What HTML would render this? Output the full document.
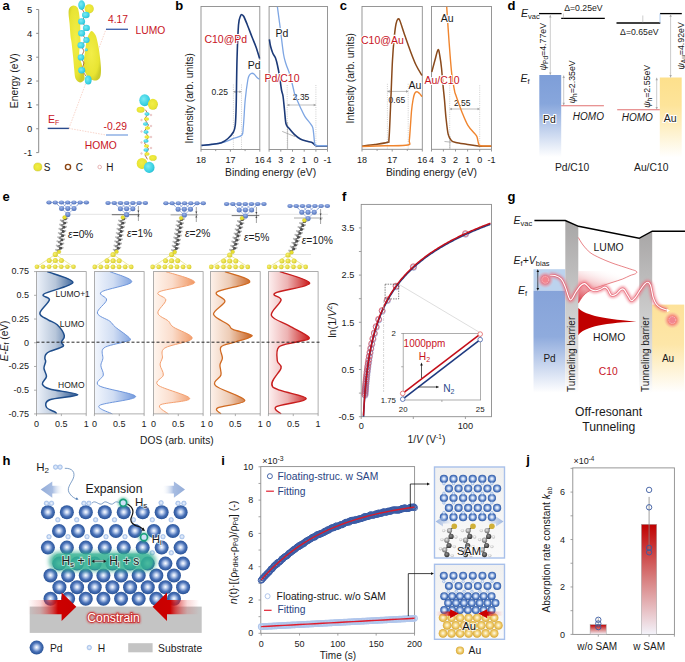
<!DOCTYPE html>
<html><head><meta charset="utf-8"><title>Figure</title>
<style>html,body{margin:0;padding:0;background:#fff;width:685px;height:662px;overflow:hidden;font-family:"Liberation Sans",sans-serif;}svg{display:block;}text{font-family:"Liberation Sans",sans-serif;}</style>
</head><body>
<svg width="685" height="662" viewBox="0 0 685 662" style="font-family:&quot;Liberation Sans&quot;,sans-serif"><defs><radialGradient id="ylw" cx="0.45" cy="0.45" r="0.6"><stop offset="0" stop-color="#f2ee48"/><stop offset="0.75" stop-color="#e8e432"/><stop offset="1" stop-color="#cccc2a"/></radialGradient><radialGradient id="cyn" cx="0.4" cy="0.4" r="0.7"><stop offset="0" stop-color="#7aeaf4"/><stop offset="0.7" stop-color="#38d0e2"/><stop offset="1" stop-color="#22b4cc"/></radialGradient><linearGradient id="pdg" x1="0" y1="0" x2="0" y2="1"><stop offset="0" stop-color="#7e9ed8"/><stop offset="0.35" stop-color="#87a6dc"/><stop offset="1" stop-color="#ffffff"/></linearGradient><linearGradient id="aug" x1="0" y1="0" x2="0" y2="1"><stop offset="0" stop-color="#fde08c"/><stop offset="0.35" stop-color="#fde49a"/><stop offset="1" stop-color="#ffffff"/></linearGradient><radialGradient id="pdb" cx="0.45" cy="0.35" r="0.65"><stop offset="0" stop-color="#9cb4ea"/><stop offset="1" stop-color="#4f70b8"/></radialGradient><radialGradient id="aub" cx="0.4" cy="0.4" r="0.6"><stop offset="0" stop-color="#f8f270"/><stop offset="1" stop-color="#d8cc30"/></radialGradient><linearGradient id="dosg0" x1="36.5" y1="0" x2="78.75" y2="0" gradientUnits="userSpaceOnUse"><stop offset="0" stop-color="#edf2fa"/><stop offset="0.45" stop-color="#b7c6da"/><stop offset="1" stop-color="#1f4e8c"/></linearGradient><linearGradient id="dosg1" x1="94.4" y1="0" x2="136.65" y2="0" gradientUnits="userSpaceOnUse"><stop offset="0" stop-color="#f2f6fd"/><stop offset="0.45" stop-color="#d0ddf3"/><stop offset="1" stop-color="#6e96dc"/></linearGradient><linearGradient id="dosg2" x1="153.4" y1="0" x2="195.65" y2="0" gradientUnits="userSpaceOnUse"><stop offset="0" stop-color="#fff5ee"/><stop offset="0.45" stop-color="#fadccb"/><stop offset="1" stop-color="#f0945e"/></linearGradient><linearGradient id="dosg3" x1="210.5" y1="0" x2="252.75" y2="0" gradientUnits="userSpaceOnUse"><stop offset="0" stop-color="#fdf1ea"/><stop offset="0.45" stop-color="#edccb6"/><stop offset="1" stop-color="#c8601c"/></linearGradient><linearGradient id="dosg4" x1="268.4" y1="0" x2="310.64" y2="0" gradientUnits="userSpaceOnUse"><stop offset="0" stop-color="#fdf0f0"/><stop offset="0.45" stop-color="#edb3b3"/><stop offset="1" stop-color="#c81414"/></linearGradient><linearGradient id="pdg2" x1="0" y1="0" x2="0" y2="1"><stop offset="0" stop-color="#86a3d9"/><stop offset="0.45" stop-color="#8fabdd"/><stop offset="1" stop-color="#ffffff"/></linearGradient><linearGradient id="aug2" x1="0" y1="0" x2="0" y2="1"><stop offset="0" stop-color="#fde29a"/><stop offset="0.45" stop-color="#fde6a8"/><stop offset="1" stop-color="#ffffff"/></linearGradient><linearGradient id="barg" x1="0" y1="0" x2="0" y2="1"><stop offset="0" stop-color="#a8a6a6"/><stop offset="0.55" stop-color="#cfcfcf"/><stop offset="0.85" stop-color="#e6e6e6"/><stop offset="1" stop-color="#ffffff"/></linearGradient><linearGradient id="lumf" x1="0" y1="1" x2="0.6" y2="0"><stop offset="0" stop-color="#d02030" stop-opacity="0.95"/><stop offset="0.5" stop-color="#e87880" stop-opacity="0.5"/><stop offset="1" stop-color="#ffffff" stop-opacity="0"/></linearGradient><radialGradient id="eglow"><stop offset="0" stop-color="#f03848" stop-opacity="1"/><stop offset="0.5" stop-color="#f25a66" stop-opacity="0.7"/><stop offset="1" stop-color="#f8a0a8" stop-opacity="0"/></radialGradient><filter id="blur1" x="-20%" y="-20%" width="140%" height="140%"><feGaussianBlur stdDeviation="1.2"/></filter><radialGradient id="pdball" cx="0.5" cy="0.48" r="0.55"><stop offset="0" stop-color="#ffffff"/><stop offset="0.22" stop-color="#c4d4f0"/><stop offset="0.6" stop-color="#4a72b8"/><stop offset="1" stop-color="#1f4a8e"/></radialGradient><radialGradient id="hb" cx="0.5" cy="0.5" r="0.6"><stop offset="0" stop-color="#eef4fd"/><stop offset="1" stop-color="#a4c0ea"/></radialGradient><linearGradient id="arrL" x1="0" y1="0" x2="1" y2="0"><stop offset="0" stop-color="#93acd8"/><stop offset="0.5" stop-color="#a8bde2"/><stop offset="1" stop-color="#ffffff" stop-opacity="0"/></linearGradient><linearGradient id="arrR" x1="1" y1="0" x2="0" y2="0"><stop offset="0" stop-color="#93acd8"/><stop offset="0.5" stop-color="#a8bde2"/><stop offset="1" stop-color="#ffffff" stop-opacity="0"/></linearGradient><linearGradient id="redL" x1="0" y1="0" x2="1" y2="0"><stop offset="0" stop-color="#e03030" stop-opacity="0"/><stop offset="0.25" stop-color="#e04040" stop-opacity="0.2"/><stop offset="0.5" stop-color="#d42020" stop-opacity="0.75"/><stop offset="0.62" stop-color="#cc0000"/><stop offset="1" stop-color="#c80000"/></linearGradient><linearGradient id="redR" x1="1" y1="0" x2="0" y2="0"><stop offset="0" stop-color="#e03030" stop-opacity="0"/><stop offset="0.25" stop-color="#e04040" stop-opacity="0.2"/><stop offset="0.5" stop-color="#d42020" stop-opacity="0.75"/><stop offset="0.62" stop-color="#cc0000"/><stop offset="1" stop-color="#c80000"/></linearGradient><filter id="blur2" x="-30%" y="-60%" width="160%" height="220%"><feGaussianBlur stdDeviation="2"/></filter><filter id="blur4" x="-20%" y="-50%" width="140%" height="200%"><feGaussianBlur stdDeviation="0.8"/></filter><filter id="blur3" x="-50%" y="-50%" width="200%" height="200%"><feGaussianBlur stdDeviation="1"/></filter><linearGradient id="insg" x1="0" y1="0" x2="0" y2="1"><stop offset="0" stop-color="#f0f0f0"/><stop offset="1" stop-color="#fafafa"/></linearGradient><radialGradient id="pdsm" cx="0.5" cy="0.48" r="0.55"><stop offset="0" stop-color="#ffffff"/><stop offset="0.3" stop-color="#c4d6f2"/><stop offset="0.68" stop-color="#5078c0"/><stop offset="1" stop-color="#22509a"/></radialGradient><radialGradient id="ausm" cx="0.5" cy="0.48" r="0.55"><stop offset="0" stop-color="#fffaf0"/><stop offset="0.4" stop-color="#f4da8c"/><stop offset="0.8" stop-color="#e2b444"/><stop offset="1" stop-color="#c99a28"/></radialGradient><radialGradient id="cdk" cx="0.45" cy="0.4" r="0.6"><stop offset="0" stop-color="#909090"/><stop offset="1" stop-color="#303030"/></radialGradient><radialGradient id="clt" cx="0.45" cy="0.4" r="0.6"><stop offset="0" stop-color="#e8e8e8"/><stop offset="1" stop-color="#6a6a6a"/></radialGradient><radialGradient id="hgr" cx="0.45" cy="0.4" r="0.6"><stop offset="0" stop-color="#ffffff"/><stop offset="1" stop-color="#b8b8b8"/></radialGradient><linearGradient id="iarL" x1="0" y1="0" x2="1" y2="0"><stop offset="0" stop-color="#9db6e0"/><stop offset="1" stop-color="#9db6e0" stop-opacity="0"/></linearGradient><linearGradient id="iarR" x1="1" y1="0" x2="0" y2="0"><stop offset="0" stop-color="#9db6e0"/><stop offset="1" stop-color="#9db6e0" stop-opacity="0"/></linearGradient><linearGradient id="barr" x1="0" y1="0" x2="0" y2="1"><stop offset="0" stop-color="#c00000"/><stop offset="0.5" stop-color="#d88080"/><stop offset="1" stop-color="#f3f3fa"/></linearGradient></defs>
<text x="2.5" y="10.3" font-size="13" fill="#000" font-weight="bold">a</text>
<line x1="38.7" y1="9.5" x2="38.7" y2="152.6" stroke="#8c8c8c" stroke-width="1"/>
<line x1="36.2" y1="9.5" x2="38.7" y2="9.5" stroke="#8c8c8c" stroke-width="1"/>
<text x="32.2" y="12.9" font-size="9.4" text-anchor="end" fill="#1a1a1a">5</text>
<line x1="36.2" y1="33.35" x2="38.7" y2="33.35" stroke="#8c8c8c" stroke-width="1"/>
<text x="32.2" y="36.75" font-size="9.4" text-anchor="end" fill="#1a1a1a">4</text>
<line x1="36.2" y1="57.2" x2="38.7" y2="57.2" stroke="#8c8c8c" stroke-width="1"/>
<text x="32.2" y="60.6" font-size="9.4" text-anchor="end" fill="#1a1a1a">3</text>
<line x1="36.2" y1="81.05" x2="38.7" y2="81.05" stroke="#8c8c8c" stroke-width="1"/>
<text x="32.2" y="84.45" font-size="9.4" text-anchor="end" fill="#1a1a1a">2</text>
<line x1="36.2" y1="104.9" x2="38.7" y2="104.9" stroke="#8c8c8c" stroke-width="1"/>
<text x="32.2" y="108.3" font-size="9.4" text-anchor="end" fill="#1a1a1a">1</text>
<line x1="36.2" y1="128.75" x2="38.7" y2="128.75" stroke="#8c8c8c" stroke-width="1"/>
<text x="32.2" y="132.15" font-size="9.4" text-anchor="end" fill="#1a1a1a">0</text>
<line x1="36.2" y1="152.6" x2="38.7" y2="152.6" stroke="#8c8c8c" stroke-width="1"/>
<text x="32.2" y="156" font-size="9.4" text-anchor="end" fill="#1a1a1a">-1</text>
<text x="0" y="0" font-size="10.3" text-anchor="middle" fill="#1a1a1a" transform="translate(17.9,80.7) rotate(-90)">Energy (eV)</text>
<path d="M68.9,128.4 L106,29.3" fill="none" stroke="#f3b9a8" stroke-width="0.6" stroke-dasharray="1.5,1.2"/>
<path d="M68.9,128.4 L106,135" fill="none" stroke="#f3b9a8" stroke-width="0.6" stroke-dasharray="1.5,1.2"/>
<line x1="47.7" y1="128.4" x2="68.9" y2="128.4" stroke="#2a4a8c" stroke-width="1.4"/>
<line x1="106" y1="29.3" x2="128" y2="29.3" stroke="#4466b0" stroke-width="1.4"/>
<line x1="106" y1="135" x2="128" y2="135" stroke="#7ea4e0" stroke-width="1.3"/>
<text x="48" y="122.5" font-size="10.5" fill="#c8141e">E<tspan font-size="7" dy="2">F</tspan></text>
<text x="108" y="22.6" font-size="10.3" fill="#c8141e">4.17</text>
<text x="135.5" y="33.8" font-size="10.3" fill="#c8141e">LUMO</text>
<text x="103.6" y="129.6" font-size="10.3" fill="#c8141e">-0.29</text>
<text x="84.8" y="149" font-size="10.3" fill="#c8141e">HOMO</text>
<path d="M73.5,5.6 C74.83,5.52 76.62,6.43 77.5,7.5 C78.38,8.57 78.47,10.42 78.8,12 C79.13,13.58 79.25,14.47 79.5,17 C79.75,19.53 80.22,24.37 80.3,27.2 C80.38,30.03 79.97,31.7 80,34 C80.03,36.3 80.58,38.5 80.5,41 C80.42,43.5 79.7,46.67 79.5,49 C79.3,51.33 79.13,53.17 79.3,55 C79.47,56.83 80.05,58.33 80.5,60 C80.95,61.67 81.5,63 82,65 C82.5,67 83.08,69.63 83.5,72 C83.92,74.37 85.08,77.45 84.5,79.2 C83.92,80.95 81.5,82.62 80,82.5 C78.5,82.38 76.45,80.55 75.5,78.5 C74.55,76.45 74.67,73.47 74.3,70.2 C73.93,66.93 73.6,62.05 73.3,58.9 C73,55.75 72.8,54.07 72.5,51.3 C72.2,48.53 71.83,44.85 71.5,42.3 C71.17,39.75 70.82,39.08 70.5,36 C70.18,32.92 69.92,27.53 69.6,23.8 C69.28,20.07 68.62,16.23 68.6,13.6 C68.58,10.97 68.68,9.33 69.5,8 C70.32,6.67 72.17,5.68 73.5,5.6 Z" fill="url(#ylw)" stroke="none" stroke-width="1"/>
<path d="M91.8,31 C92.88,31.17 94.55,33.17 95.5,35 C96.45,36.83 96.92,39.5 97.5,42 C98.08,44.5 98.53,47 99,50 C99.47,53 99.97,56.67 100.3,60 C100.63,63.33 101.05,67.08 101,70 C100.95,72.92 100.83,75.75 100,77.5 C99.17,79.25 97.67,80.25 96,80.5 C94.33,80.75 91.67,80.08 90,79 C88.33,77.92 87.08,76.1 86,74 C84.92,71.9 83.83,68.92 83.5,66.4 C83.17,63.88 83.7,61.63 84,58.9 C84.3,56.17 84.87,53.02 85.3,50 C85.73,46.98 85.98,43.47 86.6,40.8 C87.22,38.13 88.13,35.63 89,34 C89.87,32.37 90.72,30.83 91.8,31 Z" fill="url(#ylw)" stroke="none" stroke-width="1"/>
<ellipse cx="89.2" cy="8.8" rx="4.6" ry="4.6" fill="url(#ylw)"/>
<path d="M82,9 L85.8,15 L81.6,21.4 L86.4,27.9 L81.6,33.3 L86.4,40.1 L81,45.3 L84,51 L81,57.4 L84,63 L81.7,70.2 L86,76" fill="none" stroke="#a0522d" stroke-width="0.8"/>
<ellipse cx="81.6" cy="5.1" rx="3.4" ry="4.8" fill="url(#cyn)"/>
<ellipse cx="85.8" cy="15" rx="3.8" ry="3.3" fill="url(#cyn)"/>
<ellipse cx="81.6" cy="21.4" rx="3.5" ry="3.2" fill="url(#cyn)"/>
<ellipse cx="86.4" cy="27.9" rx="3.5" ry="3.2" fill="url(#cyn)"/>
<ellipse cx="81.6" cy="33.3" rx="3.5" ry="3.2" fill="url(#cyn)"/>
<ellipse cx="86.4" cy="40.1" rx="3.2" ry="3" fill="url(#cyn)"/>
<ellipse cx="81" cy="45.3" rx="3.5" ry="3.2" fill="url(#cyn)"/>
<ellipse cx="81" cy="57.4" rx="3.3" ry="3.1" fill="url(#cyn)"/>
<ellipse cx="81.7" cy="70.2" rx="3.5" ry="3.2" fill="url(#cyn)"/>
<ellipse cx="88.2" cy="80" rx="3.4" ry="4.5" fill="url(#cyn)"/>
<ellipse cx="86.3" cy="49.8" rx="1.5" ry="1.5" fill="url(#cyn)"/>
<path d="M145.4,109.7 L148,114 L144.5,119 L148.5,125 L144.5,131 L148.5,137 L144.5,143 L148.5,149 L145,155 L147.4,159.3" fill="none" stroke="#a0522d" stroke-width="0.8"/>
<circle cx="141.5" cy="120" r="0.9" fill="#f0d0d0" stroke="#d8a0a0" stroke-width="0.3"/>
<circle cx="151" cy="126" r="0.9" fill="#f0d0d0" stroke="#d8a0a0" stroke-width="0.3"/>
<circle cx="141.5" cy="131.5" r="0.9" fill="#f0d0d0" stroke="#d8a0a0" stroke-width="0.3"/>
<circle cx="151" cy="137" r="0.9" fill="#f0d0d0" stroke="#d8a0a0" stroke-width="0.3"/>
<circle cx="141.5" cy="142.5" r="0.9" fill="#f0d0d0" stroke="#d8a0a0" stroke-width="0.3"/>
<circle cx="151" cy="148" r="0.9" fill="#f0d0d0" stroke="#d8a0a0" stroke-width="0.3"/>
<circle cx="141.5" cy="153.5" r="0.9" fill="#f0d0d0" stroke="#d8a0a0" stroke-width="0.3"/>
<circle cx="151" cy="115" r="0.9" fill="#f0d0d0" stroke="#d8a0a0" stroke-width="0.3"/>
<ellipse cx="144.7" cy="100.2" rx="5.4" ry="6" fill="url(#cyn)"/>
<ellipse cx="152.9" cy="104.3" rx="5" ry="5.5" fill="url(#ylw)"/>
<ellipse cx="140.6" cy="109.7" rx="4" ry="3" fill="url(#ylw)"/>
<ellipse cx="142" cy="163.4" rx="5.3" ry="5.5" fill="url(#ylw)"/>
<ellipse cx="149.2" cy="167.4" rx="5.3" ry="5.6" fill="url(#cyn)"/>
<ellipse cx="152.9" cy="157.9" rx="3.8" ry="2.8" fill="url(#ylw)"/>
<ellipse cx="147" cy="114" rx="2.6" ry="1.7" fill="url(#cyn)"/>
<ellipse cx="146.5" cy="119" rx="2.6" ry="1.7" fill="url(#ylw)"/>
<ellipse cx="145.5" cy="124" rx="2.6" ry="1.7" fill="url(#cyn)"/>
<ellipse cx="147.5" cy="128" rx="2.6" ry="1.7" fill="url(#ylw)"/>
<ellipse cx="146" cy="132" rx="2.6" ry="1.7" fill="url(#cyn)"/>
<ellipse cx="147" cy="137" rx="2.6" ry="1.7" fill="url(#ylw)"/>
<ellipse cx="146" cy="141" rx="2.6" ry="1.7" fill="url(#cyn)"/>
<ellipse cx="146.5" cy="146" rx="2.6" ry="1.7" fill="url(#ylw)"/>
<ellipse cx="146" cy="150" rx="2.6" ry="1.7" fill="url(#cyn)"/>
<ellipse cx="147" cy="154" rx="2.6" ry="1.7" fill="url(#ylw)"/>
<circle cx="37.8" cy="167" r="4.1" fill="url(#ylw)" stroke="#c8c020" stroke-width="0.4"/>
<text x="43.8" y="170.5" font-size="10" fill="#1a1a1a">S</text>
<circle cx="68" cy="167" r="2.6" fill="#fff" stroke="#8b4513" stroke-width="1.4"/>
<text x="75.8" y="170.5" font-size="10" fill="#1a1a1a">C</text>
<circle cx="99.7" cy="167" r="1.8" fill="#fff" stroke="#e0a0a0" stroke-width="0.8"/>
<text x="106.3" y="170.5" font-size="10" fill="#1a1a1a">H</text>
<text x="175.3" y="10.3" font-size="13" fill="#000" font-weight="bold">b</text>
<rect x="201" y="6.5" width="58.8" height="143" fill="none" stroke="#8c8c8c" stroke-width="0.9"/>
<rect x="269.1" y="6.5" width="58.4" height="143" fill="none" stroke="#8c8c8c" stroke-width="0.9"/>
<line x1="201" y1="149.5" x2="201" y2="151.7" stroke="#8c8c8c" stroke-width="0.9"/>
<text x="201" y="162.5" font-size="9" text-anchor="middle" fill="#1a1a1a">18</text>
<line x1="215.7" y1="149.5" x2="215.7" y2="151.1" stroke="#8c8c8c" stroke-width="0.9"/>
<line x1="230.4" y1="149.5" x2="230.4" y2="151.7" stroke="#8c8c8c" stroke-width="0.9"/>
<text x="230.4" y="162.5" font-size="9" text-anchor="middle" fill="#1a1a1a">17</text>
<line x1="245.1" y1="149.5" x2="245.1" y2="151.1" stroke="#8c8c8c" stroke-width="0.9"/>
<line x1="259.8" y1="149.5" x2="259.8" y2="151.7" stroke="#8c8c8c" stroke-width="0.9"/>
<text x="259.8" y="162.5" font-size="9" text-anchor="middle" fill="#1a1a1a">16</text>
<line x1="269.1" y1="149.5" x2="269.1" y2="151.7" stroke="#8c8c8c" stroke-width="0.9"/>
<text x="269.1" y="162.5" font-size="9" text-anchor="middle" fill="#1a1a1a">4</text>
<line x1="280.8" y1="149.5" x2="280.8" y2="151.7" stroke="#8c8c8c" stroke-width="0.9"/>
<text x="280.8" y="162.5" font-size="9" text-anchor="middle" fill="#1a1a1a">3</text>
<line x1="292.5" y1="149.5" x2="292.5" y2="151.7" stroke="#8c8c8c" stroke-width="0.9"/>
<text x="292.5" y="162.5" font-size="9" text-anchor="middle" fill="#1a1a1a">2</text>
<line x1="304.2" y1="149.5" x2="304.2" y2="151.7" stroke="#8c8c8c" stroke-width="0.9"/>
<text x="304.2" y="162.5" font-size="9" text-anchor="middle" fill="#1a1a1a">1</text>
<line x1="315.9" y1="149.5" x2="315.9" y2="151.7" stroke="#8c8c8c" stroke-width="0.9"/>
<text x="315.9" y="162.5" font-size="9" text-anchor="middle" fill="#1a1a1a">0</text>
<line x1="327.5" y1="149.5" x2="327.5" y2="151.7" stroke="#8c8c8c" stroke-width="0.9"/>
<text x="327.5" y="162.5" font-size="9" text-anchor="middle" fill="#1a1a1a">-1</text>
<text x="0" y="0" font-size="10.3" text-anchor="middle" fill="#1a1a1a" transform="translate(193.3,98.3) rotate(-90)">Intensity (arb. units)</text>
<text x="270.6" y="176" font-size="10.3" text-anchor="middle" fill="#1a1a1a">Binding energy (eV)</text>
<line x1="233.4" y1="84.5" x2="233.4" y2="149.5" stroke="#b0b0b0" stroke-width="0.6" stroke-dasharray="1,1.2"/>
<line x1="241.5" y1="84.5" x2="241.5" y2="149.5" stroke="#b0b0b0" stroke-width="0.6" stroke-dasharray="1,1.2"/>
<line x1="287.2" y1="85" x2="287.2" y2="149.5" stroke="#b0b0b0" stroke-width="0.6" stroke-dasharray="1,1.2"/>
<line x1="315.9" y1="85" x2="315.9" y2="149.5" stroke="#b0b0b0" stroke-width="0.6" stroke-dasharray="1,1.2"/>
<line x1="233.4" y1="91.8" x2="241.5" y2="91.8" stroke="#a0a0a0" stroke-width="0.7"/>
<line x1="287.2" y1="105" x2="315.9" y2="105" stroke="#a0a0a0" stroke-width="0.7"/>
<path d="M233.4,91.8 l2.2,-1.3 l0,2.6 Z" fill="#a0a0a0" stroke="none" stroke-width="1"/>
<path d="M241.5,91.8 l-2.2,-1.3 l0,2.6 Z" fill="#a0a0a0" stroke="none" stroke-width="1"/>
<path d="M287.2,105 l2.2,-1.3 l0,2.6 Z" fill="#a0a0a0" stroke="none" stroke-width="1"/>
<path d="M315.9,105 l-2.2,-1.3 l0,2.6 Z" fill="#a0a0a0" stroke="none" stroke-width="1"/>
<text x="211.5" y="94.8" font-size="8.5" fill="#1a1a1a" stroke="#ffffff" stroke-width="2" paint-order="stroke">0.25</text>
<text x="292.8" y="99.6" font-size="8.5" fill="#1a1a1a" stroke="#ffffff" stroke-width="2" paint-order="stroke">2.35</text>
<line x1="282.2" y1="131.4" x2="295" y2="136.6" stroke="#888" stroke-width="0.6"/>
<line x1="287.6" y1="122" x2="287.6" y2="149" stroke="#999" stroke-width="0.6"/>
<path d="M201.5,145.6 C203.25,145.42 208.18,145.1 212,144.5 C215.82,143.9 220.9,142.98 224.4,142 C227.9,141.02 230.1,139.73 233,138.6 C235.9,137.47 240.1,136.97 241.8,135.2 C243.5,133.43 242.83,130.9 243.2,128 C243.57,125.1 243.67,122.47 244,117.8 C244.33,113.13 244.57,106.3 245.2,100 C245.83,93.7 247.08,84.17 247.8,80 C248.52,75.83 248.87,76.12 249.5,75 C250.13,73.88 250.85,73.47 251.6,73.3 C252.35,73.13 253.1,73.3 254,74 C254.9,74.7 256.07,76.62 257,77.5 C257.93,78.38 259.17,79 259.6,79.3" fill="none" stroke="#7ea6e3" stroke-width="1.3"/>
<path d="M201.5,145.4 C203.25,145.22 208.68,144.75 212,144.3 C215.32,143.85 218.73,143.67 221.4,142.7 C224.07,141.73 226,140.28 228,138.5 C230,136.72 232.18,134.25 233.4,132 C234.62,129.75 234.83,129.5 235.3,125 C235.77,120.5 235.92,115.83 236.2,105 C236.48,94.17 236.62,73.33 237,60 C237.38,46.67 237.92,32.33 238.5,25 C239.08,17.67 239.92,17.72 240.5,16 C241.08,14.28 241.45,14.62 242,14.7 C242.55,14.78 242.97,14.95 243.8,16.5 C244.63,18.05 245.63,20.58 247,24 C248.37,27.42 250.5,33.17 252,37 C253.5,40.83 254.73,43.42 256,47 C257.27,50.58 259,56.58 259.6,58.5" fill="none" stroke="#1c3a78" stroke-width="1.6"/>
<path d="M269.4,39.4 C269.58,40.5 269.95,43.73 270.5,46 C271.05,48.27 271.87,51 272.7,53 C273.53,55 274.72,56 275.5,58 C276.28,60 276.73,62 277.4,65 C278.07,68 278.82,71.83 279.5,76 C280.18,80.17 280.92,86.67 281.5,90 C282.08,93.33 282.5,92.67 283,96 C283.5,99.33 284,105.37 284.5,110 C285,114.63 285.25,120.75 286,123.8 C286.75,126.85 287.62,126.53 289,128.3 C290.38,130.07 292.42,132.62 294.3,134.4 C296.18,136.18 298.02,137.82 300.3,139 C302.58,140.18 305.98,140.88 308,141.5 C310.02,142.12 311.17,142.05 312.4,142.7 C313.63,143.35 314.13,144.85 315.4,145.4 C316.67,145.95 318.02,145.9 320,146 C321.98,146.1 326.08,146 327.3,146" fill="none" stroke="#1c3a78" stroke-width="1.6"/>
<path d="M277.4,6.8 C277.85,10.17 279.08,19.13 280.1,27 C281.12,34.87 282.52,47.83 283.5,54 C284.48,60.17 285.08,61 286,64 C286.92,67 288.12,69.33 289,72 C289.88,74.67 290.52,77 291.3,80 C292.08,83 293.08,87.5 293.7,90 C294.32,92.5 293.9,92.13 295,95 C296.1,97.87 298.67,103.65 300.3,107.2 C301.93,110.75 302.92,113.28 304.8,116.3 C306.68,119.32 310.2,123.05 311.6,125.3 C313,127.55 312.68,126.78 313.2,129.8 C313.72,132.82 314.2,140.8 314.7,143.4 C315.2,146 314.98,145.02 316.2,145.4 C317.42,145.78 320.15,145.65 322,145.7 C323.85,145.75 326.42,145.7 327.3,145.7" fill="none" stroke="#7ea6e3" stroke-width="1.3"/>
<text x="204.4" y="43" font-size="10.5" fill="#c8141e" stroke="#ffffff" stroke-width="2" paint-order="stroke">C10@Pd</text>
<text x="247.8" y="68.7" font-size="10.5" fill="#1a1a1a" stroke="#ffffff" stroke-width="2" paint-order="stroke">Pd</text>
<text x="275.6" y="36.7" font-size="10.5" fill="#1a1a1a" stroke="#ffffff" stroke-width="2" paint-order="stroke">Pd</text>
<text x="264.5" y="81.5" font-size="10.5" fill="#c8141e" stroke="#ffffff" stroke-width="2" paint-order="stroke">Pd/C10</text>
<text x="339.8" y="10.3" font-size="13" fill="#000" font-weight="bold">c</text>
<rect x="362" y="6.5" width="60.3" height="142.8" fill="none" stroke="#8c8c8c" stroke-width="0.9"/>
<rect x="431.5" y="6.5" width="60" height="142.8" fill="none" stroke="#8c8c8c" stroke-width="0.9"/>
<line x1="362" y1="149.3" x2="362" y2="151.5" stroke="#8c8c8c" stroke-width="0.9"/>
<text x="362" y="162.5" font-size="9" text-anchor="middle" fill="#1a1a1a">18</text>
<line x1="377.1" y1="149.3" x2="377.1" y2="150.9" stroke="#8c8c8c" stroke-width="0.9"/>
<line x1="392.2" y1="149.3" x2="392.2" y2="151.5" stroke="#8c8c8c" stroke-width="0.9"/>
<text x="392.2" y="162.5" font-size="9" text-anchor="middle" fill="#1a1a1a">17</text>
<line x1="407.3" y1="149.3" x2="407.3" y2="150.9" stroke="#8c8c8c" stroke-width="0.9"/>
<line x1="422.3" y1="149.3" x2="422.3" y2="151.5" stroke="#8c8c8c" stroke-width="0.9"/>
<text x="422.3" y="162.5" font-size="9" text-anchor="middle" fill="#1a1a1a">16</text>
<line x1="431.5" y1="149.3" x2="431.5" y2="151.5" stroke="#8c8c8c" stroke-width="0.9"/>
<text x="431.5" y="162.5" font-size="9" text-anchor="middle" fill="#1a1a1a">4</text>
<line x1="443.4" y1="149.3" x2="443.4" y2="151.5" stroke="#8c8c8c" stroke-width="0.9"/>
<text x="443.4" y="162.5" font-size="9" text-anchor="middle" fill="#1a1a1a">3</text>
<line x1="455.5" y1="149.3" x2="455.5" y2="151.5" stroke="#8c8c8c" stroke-width="0.9"/>
<text x="455.5" y="162.5" font-size="9" text-anchor="middle" fill="#1a1a1a">2</text>
<line x1="467.6" y1="149.3" x2="467.6" y2="151.5" stroke="#8c8c8c" stroke-width="0.9"/>
<text x="467.6" y="162.5" font-size="9" text-anchor="middle" fill="#1a1a1a">1</text>
<line x1="479.7" y1="149.3" x2="479.7" y2="151.5" stroke="#8c8c8c" stroke-width="0.9"/>
<text x="479.7" y="162.5" font-size="9" text-anchor="middle" fill="#1a1a1a">0</text>
<line x1="491.5" y1="149.3" x2="491.5" y2="151.5" stroke="#8c8c8c" stroke-width="0.9"/>
<text x="491.5" y="162.5" font-size="9" text-anchor="middle" fill="#1a1a1a">-1</text>
<text x="0" y="0" font-size="10.3" text-anchor="middle" fill="#1a1a1a" transform="translate(354.2,78.2) rotate(-90)">Intensity (arb. units)</text>
<text x="431.5" y="176" font-size="10.3" text-anchor="middle" fill="#1a1a1a">Binding energy (eV)</text>
<line x1="387.4" y1="83.8" x2="387.4" y2="149.3" stroke="#b0b0b0" stroke-width="0.6" stroke-dasharray="1,1.2"/>
<line x1="408.2" y1="83.8" x2="408.2" y2="149.3" stroke="#b0b0b0" stroke-width="0.6" stroke-dasharray="1,1.2"/>
<line x1="449.7" y1="85.3" x2="449.7" y2="149.3" stroke="#b0b0b0" stroke-width="0.6" stroke-dasharray="1,1.2"/>
<line x1="479.7" y1="85.3" x2="479.7" y2="149.3" stroke="#b0b0b0" stroke-width="0.6" stroke-dasharray="1,1.2"/>
<line x1="387.4" y1="91.4" x2="408.2" y2="91.4" stroke="#a0a0a0" stroke-width="0.7"/>
<line x1="449.7" y1="109" x2="479.7" y2="109" stroke="#a0a0a0" stroke-width="0.7"/>
<path d="M387.4,91.4 l2.2,-1.3 l0,2.6 Z" fill="#a0a0a0" stroke="none" stroke-width="1"/>
<path d="M408.2,91.4 l-2.2,-1.3 l0,2.6 Z" fill="#a0a0a0" stroke="none" stroke-width="1"/>
<path d="M449.7,109 l2.2,-1.3 l0,2.6 Z" fill="#a0a0a0" stroke="none" stroke-width="1"/>
<path d="M479.7,109 l-2.2,-1.3 l0,2.6 Z" fill="#a0a0a0" stroke="none" stroke-width="1"/>
<text x="388.6" y="103" font-size="8.5" fill="#1a1a1a" stroke="#ffffff" stroke-width="2" paint-order="stroke">0.65</text>
<text x="454" y="106.4" font-size="8.5" fill="#1a1a1a" stroke="#ffffff" stroke-width="2" paint-order="stroke">2.55</text>
<line x1="444.5" y1="141.5" x2="451.3" y2="142.2" stroke="#888" stroke-width="0.6"/>
<line x1="449.9" y1="136" x2="449.9" y2="149" stroke="#999" stroke-width="0.6"/>
<path d="M362.3,146 C364.42,145.75 370.82,145.13 375,144.5 C379.18,143.87 385.07,143.12 387.4,142.2 C389.73,141.28 388.5,144.37 389,139 C389.5,133.63 390.03,118.07 390.4,110 C390.77,101.93 390.85,98.93 391.2,90.6 C391.55,82.27 392,68.8 392.5,60 C393,51.2 393.62,43.8 394.2,37.8 C394.78,31.8 395.37,27.15 396,24 C396.63,20.85 397.33,19.4 398,18.9 C398.67,18.4 399,18.65 400,21 C401,23.35 402.33,28.17 404,33 C405.67,37.83 408,44.67 410,50 C412,55.33 414,60.75 416,65 C418,69.25 421,73.75 422,75.5" fill="none" stroke="#8a4a1c" stroke-width="1.5"/>
<path d="M362.3,146.5 C366.08,146.38 377.42,146.05 385,145.8 C392.58,145.55 403.75,145.9 407.8,145 C411.85,144.1 408.85,143.73 409.3,140.4 C409.75,137.07 410.12,130.03 410.5,125 C410.88,119.97 411.18,114.37 411.6,110.2 C412.02,106.03 412.5,102.77 413,100 C413.5,97.23 413.95,94.97 414.6,93.6 C415.25,92.23 416.08,91.82 416.9,91.8 C417.72,91.78 418.65,92.7 419.5,93.5 C420.35,94.3 421.58,96.08 422,96.6" fill="none" stroke="#f0852e" stroke-width="1.4"/>
<path d="M431.8,72 C432.33,70 433.95,63.73 435,60 C436.05,56.27 437.27,50.1 438.1,49.6 C438.93,49.1 439.43,53.93 440,57 C440.57,60.07 441,63.28 441.5,68 C442,72.72 442.5,79.97 443,85.3 C443.5,90.63 444,94.58 444.5,100 C445,105.42 445.38,112.07 446,117.8 C446.62,123.53 447.32,130.63 448.2,134.4 C449.08,138.17 450.03,139.07 451.3,140.4 C452.57,141.73 453.28,141.77 455.8,142.4 C458.32,143.03 462.63,143.6 466.4,144.2 C470.17,144.8 474.27,145.67 478.4,146 C482.53,146.33 489.07,146.17 491.2,146.2" fill="none" stroke="#8a4a1c" stroke-width="1.5"/>
<path d="M446.7,6.8 C447.08,12.47 448.17,29.7 449,40.8 C449.83,51.9 450.8,65.2 451.7,73.4 C452.6,81.6 453.72,86.4 454.4,90 C455.08,93.6 454.57,91.38 455.8,95 C457.03,98.62 459.78,106.65 461.8,111.7 C463.82,116.75 465.63,121.52 467.9,125.3 C470.17,129.08 473.85,132.38 475.4,134.4 C476.95,136.42 476.57,135.63 477.2,137.4 C477.83,139.17 477.9,143.57 479.2,145 C480.5,146.43 483,145.83 485,146 C487,146.17 490.17,146 491.2,146" fill="none" stroke="#f0852e" stroke-width="1.4"/>
<text x="361" y="44.1" font-size="10.5" fill="#c8141e" stroke="#ffffff" stroke-width="2" paint-order="stroke">C10@Au</text>
<text x="408.5" y="88.8" font-size="10.5" fill="#1a1a1a" stroke="#ffffff" stroke-width="2" paint-order="stroke">Au</text>
<text x="440.8" y="22.4" font-size="10.5" fill="#1a1a1a" stroke="#ffffff" stroke-width="2" paint-order="stroke">Au</text>
<text x="424.5" y="83.6" font-size="10.5" fill="#c8141e" stroke="#ffffff" stroke-width="2" paint-order="stroke">Au/C10</text>
<text x="507.5" y="10" font-size="13" fill="#000" font-weight="bold">d</text>
<text x="521" y="16.6" font-size="10.5" fill="#1a1a1a" font-style="italic">E<tspan font-size="7.5" font-style="normal" dy="2.3">vac</tspan></text>
<line x1="539" y1="13.6" x2="561.6" y2="13.6" stroke="#000" stroke-width="1.3"/>
<line x1="561.2" y1="18.4" x2="604.8" y2="18.4" stroke="#000" stroke-width="1.3"/>
<text x="564.2" y="11.3" font-size="8.7" fill="#1a1a1a">Δ=0.25eV</text>
<line x1="563.4" y1="13.6" x2="563.4" y2="18.4" stroke="#aaa" stroke-width="0.6"/>
<line x1="616.5" y1="23" x2="660.3" y2="23" stroke="#000" stroke-width="1.3"/>
<line x1="660" y1="13.6" x2="681.8" y2="13.6" stroke="#000" stroke-width="1.3"/>
<line x1="660" y1="13.6" x2="660" y2="23" stroke="#9ec0ea" stroke-width="0.8"/>
<line x1="642.8" y1="15.5" x2="642.8" y2="22.5" stroke="#aaa" stroke-width="0.6"/>
<text x="620.1" y="35.2" font-size="8.7" fill="#1a1a1a">Δ=0.65eV</text>
<rect x="539.3" y="75" width="21.9" height="82" fill="url(#pdg)" stroke="none" stroke-width="1"/>
<rect x="659.8" y="77.5" width="21.9" height="80" fill="url(#aug)" stroke="none" stroke-width="1"/>
<text x="520.4" y="81.6" font-size="10.5" fill="#1a1a1a" font-style="italic">E<tspan font-size="7.5" font-style="normal" dy="2.3">f</tspan></text>
<line x1="550.3" y1="15" x2="550.3" y2="74.8" stroke="#a8a8a8" stroke-width="0.6"/>
<path d="M550.3,74.8 l-1.2,-2.4 l2.4,0 Z" fill="#a8a8a8" stroke="none" stroke-width="1"/>
<path d="M550.3,15 l-1.2,2.4 l2.4,0 Z" fill="#a8a8a8" stroke="none" stroke-width="1"/>
<line x1="563.7" y1="75.5" x2="563.7" y2="105.2" stroke="#a8a8a8" stroke-width="0.6"/>
<path d="M563.7,105.2 l-1.2,-2.4 l2.4,0 Z" fill="#a8a8a8" stroke="none" stroke-width="1"/>
<path d="M563.7,75.5 l-1.2,2.4 l2.4,0 Z" fill="#a8a8a8" stroke="none" stroke-width="1"/>
<line x1="670.6" y1="14.3" x2="670.6" y2="77.5" stroke="#a8a8a8" stroke-width="0.6"/>
<path d="M670.6,77.5 l-1.2,-2.4 l2.4,0 Z" fill="#a8a8a8" stroke="none" stroke-width="1"/>
<path d="M670.6,14.3 l-1.2,2.4 l2.4,0 Z" fill="#a8a8a8" stroke="none" stroke-width="1"/>
<line x1="656.7" y1="77.8" x2="656.7" y2="109.3" stroke="#a8a8a8" stroke-width="0.6"/>
<path d="M656.7,109.3 l-1.2,-2.4 l2.4,0 Z" fill="#a8a8a8" stroke="none" stroke-width="1"/>
<path d="M656.7,77.8 l-1.2,2.4 l2.4,0 Z" fill="#a8a8a8" stroke="none" stroke-width="1"/>
<text x="0" y="0" font-size="8.8" text-anchor="middle" fill="#1a1a1a" transform="translate(546.2,46.6) rotate(-90)"><tspan font-style="italic">ψ</tspan><tspan font-size="6.5" dy="2">Pd</tspan><tspan dy="-2">=4.77eV</tspan></text>
<text x="0" y="0" font-size="8.8" text-anchor="middle" fill="#1a1a1a" transform="translate(575,81.8) rotate(-90)"><tspan font-style="italic">ψ</tspan><tspan font-size="6.5" dy="2">h</tspan><tspan dy="-2">=2.35eV</tspan></text>
<text x="0" y="0" font-size="8.8" text-anchor="middle" fill="#1a1a1a" transform="translate(650,86.3) rotate(-90)"><tspan font-style="italic">ψ</tspan><tspan font-size="6.5" dy="2">h</tspan><tspan dy="-2">=2.55eV</tspan></text>
<text x="0" y="0" font-size="8.8" text-anchor="middle" fill="#1a1a1a" transform="translate(684,45.9) rotate(-90)"><tspan font-style="italic">ψ</tspan><tspan font-size="6.5" dy="2">Au</tspan><tspan dy="-2">=4.92eV</tspan></text>
<line x1="561.2" y1="105.7" x2="603.9" y2="105.7" stroke="#e07070" stroke-width="1.1"/>
<line x1="617.2" y1="109.8" x2="659.8" y2="109.8" stroke="#e07070" stroke-width="1.1"/>
<text x="572.8" y="119.6" font-size="10" fill="#1a1a1a" font-style="italic">HOMO</text>
<text x="621.7" y="120.5" font-size="10" fill="#1a1a1a" font-style="italic">HOMO</text>
<text x="549.5" y="123" font-size="10.5" text-anchor="middle" fill="#1a1a1a" stroke="#fff" stroke-width="2" paint-order="stroke">Pd</text>
<text x="670.2" y="122.3" font-size="10.5" text-anchor="middle" fill="#1a1a1a" stroke="#fff" stroke-width="2" paint-order="stroke">Au</text>
<text x="572.1" y="171.4" font-size="10.3" text-anchor="middle" fill="#1a1a1a">Pd/C10</text>
<text x="651.2" y="171.4" font-size="10.3" text-anchor="middle" fill="#1a1a1a">Au/C10</text>
<text x="2.5" y="200.8" font-size="13" fill="#000" font-weight="bold">e</text>
<line x1="70" y1="214.3" x2="328" y2="214.3" stroke="#d0d0d0" stroke-width="0.6"/>
<line x1="60" y1="254.5" x2="311" y2="254.5" stroke="#d0d0d0" stroke-width="0.6"/>
<line x1="111.8" y1="214.7" x2="139.7" y2="214.7" stroke="#333" stroke-width="0.7"/>
<line x1="170.6" y1="214.8" x2="198.2" y2="214.8" stroke="#aaa" stroke-width="1.2"/>
<line x1="231.7" y1="215.6" x2="259.3" y2="215.6" stroke="#333" stroke-width="0.7"/>
<line x1="294" y1="218" x2="322.7" y2="218" stroke="#aaa" stroke-width="1"/>
<line x1="138.4" y1="206" x2="138.4" y2="221" stroke="#444" stroke-width="0.5"/>
<path d="M138.4,212.5 l-1,-2 l2,0 Z" fill="#444" stroke="none" stroke-width="1"/>
<path d="M138.4,214.5 l-1,2 l2,0 Z" fill="#444" stroke="none" stroke-width="1"/>
<line x1="196.3" y1="207" x2="196.3" y2="222" stroke="#444" stroke-width="0.5"/>
<path d="M196.3,213.5 l-1,-2 l2,0 Z" fill="#444" stroke="none" stroke-width="1"/>
<path d="M196.3,215.5 l-1,2 l2,0 Z" fill="#444" stroke="none" stroke-width="1"/>
<line x1="256.4" y1="207" x2="256.4" y2="223" stroke="#444" stroke-width="0.5"/>
<path d="M256.4,214 l-1,-2 l2,0 Z" fill="#444" stroke="none" stroke-width="1"/>
<path d="M256.4,216 l-1,2 l2,0 Z" fill="#444" stroke="none" stroke-width="1"/>
<line x1="320.6" y1="209" x2="320.6" y2="224" stroke="#444" stroke-width="0.5"/>
<path d="M320.6,215.5 l-1,-2 l2,0 Z" fill="#444" stroke="none" stroke-width="1"/>
<path d="M320.6,217.5 l-1,2 l2,0 Z" fill="#444" stroke="none" stroke-width="1"/>
<path d="M55.23,202.4 L61.57,208.4 M67.69,202.4 L61.57,208.4 M67.69,202.4 L74.03,208.4 M80.15,202.4 L74.03,208.4 M61.46,202.4 L67.8,208.4 M73.92,202.4 L67.8,208.4 M61.57,208.4 L67.8,214.4 M74.03,208.4 L67.8,214.4 M61.57,208.4 L74.03,208.4 M49,202.4 L86.38,202.4 M55.23,202.4 L58.45,205.4 M80.15,202.4 L77.14,205.4" fill="none" stroke="#7590d0" stroke-width="0.6"/>
<ellipse cx="49" cy="202.4" rx="2.7" ry="2.0" fill="url(#pdb)"/>
<ellipse cx="55.23" cy="202.4" rx="2.7" ry="2.0" fill="url(#pdb)"/>
<ellipse cx="61.46" cy="202.4" rx="2.7" ry="2.0" fill="url(#pdb)"/>
<ellipse cx="67.69" cy="202.4" rx="2.7" ry="2.0" fill="url(#pdb)"/>
<ellipse cx="73.92" cy="202.4" rx="2.7" ry="2.0" fill="url(#pdb)"/>
<ellipse cx="80.15" cy="202.4" rx="2.7" ry="2.0" fill="url(#pdb)"/>
<ellipse cx="86.38" cy="202.4" rx="2.7" ry="2.0" fill="url(#pdb)"/>
<circle cx="61.57" cy="208.4" r="2.5" fill="url(#pdb)" stroke="none" stroke-width="1"/>
<circle cx="67.8" cy="208.4" r="2.5" fill="url(#pdb)" stroke="none" stroke-width="1"/>
<circle cx="74.03" cy="208.4" r="2.5" fill="url(#pdb)" stroke="none" stroke-width="1"/>
<circle cx="67.8" cy="214.4" r="2.6" fill="url(#pdb)" stroke="none" stroke-width="1"/>
<path d="M36.9,266.7 L55.3,254.4 L73.5,266.7 M49.1,266.7 L55.3,260.6 L61.3,266.7 M49.2,260.6 L61.4,260.6 M36.9,266.7 L73.5,266.7 L73.5,266.7" fill="none" stroke="#d8d040" stroke-width="0.5"/>
<circle cx="36.9" cy="266.7" r="2.3" fill="url(#aub)" stroke="none" stroke-width="1"/>
<circle cx="43" cy="266.7" r="2.3" fill="url(#aub)" stroke="none" stroke-width="1"/>
<circle cx="49.1" cy="266.7" r="2.3" fill="url(#aub)" stroke="none" stroke-width="1"/>
<circle cx="55.2" cy="266.7" r="2.3" fill="url(#aub)" stroke="none" stroke-width="1"/>
<circle cx="61.3" cy="266.7" r="2.3" fill="url(#aub)" stroke="none" stroke-width="1"/>
<circle cx="67.4" cy="266.7" r="2.3" fill="url(#aub)" stroke="none" stroke-width="1"/>
<circle cx="73.5" cy="266.7" r="2.3" fill="url(#aub)" stroke="none" stroke-width="1"/>
<circle cx="49.2" cy="260.6" r="2.5" fill="url(#aub)" stroke="none" stroke-width="1"/>
<circle cx="55.3" cy="260.6" r="2.5" fill="url(#aub)" stroke="none" stroke-width="1"/>
<circle cx="61.4" cy="260.6" r="2.5" fill="url(#aub)" stroke="none" stroke-width="1"/>
<circle cx="55.3" cy="254.4" r="2.6" fill="url(#aub)" stroke="none" stroke-width="1"/>
<path d="M64.5,217.4 L65.4,218.92 L62.5,221.12 L64.73,223.11 L61.83,225.31 L64.06,227.31 L61.16,229.51 L63.39,231.5 L60.49,233.7 L62.71,235.7 L59.81,237.9 L62.04,239.89 L59.14,242.09 L61.37,244.09 L58.47,246.29 L60.7,248.28 L57.8,250.48 L59,251.8" fill="none" stroke="#5a5a5a" stroke-width="1.1"/>
<circle cx="67.4" cy="218.32" r="0.95" fill="#b4b4b4" stroke="none" stroke-width="1"/>
<circle cx="60.7" cy="220.32" r="0.95" fill="#b8b8b8" stroke="none" stroke-width="1"/>
<circle cx="66.73" cy="222.51" r="0.95" fill="#b4b4b4" stroke="none" stroke-width="1"/>
<circle cx="60.03" cy="224.51" r="0.95" fill="#b8b8b8" stroke="none" stroke-width="1"/>
<circle cx="66.06" cy="226.71" r="0.95" fill="#b4b4b4" stroke="none" stroke-width="1"/>
<circle cx="59.36" cy="228.71" r="0.95" fill="#b8b8b8" stroke="none" stroke-width="1"/>
<circle cx="65.39" cy="230.9" r="0.95" fill="#b4b4b4" stroke="none" stroke-width="1"/>
<circle cx="58.69" cy="232.9" r="0.95" fill="#b8b8b8" stroke="none" stroke-width="1"/>
<circle cx="64.71" cy="235.1" r="0.95" fill="#b4b4b4" stroke="none" stroke-width="1"/>
<circle cx="58.01" cy="237.1" r="0.95" fill="#b8b8b8" stroke="none" stroke-width="1"/>
<circle cx="64.04" cy="239.29" r="0.95" fill="#b4b4b4" stroke="none" stroke-width="1"/>
<circle cx="57.34" cy="241.29" r="0.95" fill="#b8b8b8" stroke="none" stroke-width="1"/>
<circle cx="63.37" cy="243.49" r="0.95" fill="#b4b4b4" stroke="none" stroke-width="1"/>
<circle cx="56.67" cy="245.49" r="0.95" fill="#b8b8b8" stroke="none" stroke-width="1"/>
<circle cx="62.7" cy="247.68" r="0.95" fill="#b4b4b4" stroke="none" stroke-width="1"/>
<circle cx="56" cy="249.68" r="0.95" fill="#b8b8b8" stroke="none" stroke-width="1"/>
<circle cx="65.4" cy="218.92" r="1.45" fill="#4e4e4e" stroke="none" stroke-width="1"/>
<circle cx="62.5" cy="221.12" r="1.3" fill="#8a8a8a" stroke="none" stroke-width="1"/>
<circle cx="64.73" cy="223.11" r="1.45" fill="#4e4e4e" stroke="none" stroke-width="1"/>
<circle cx="61.83" cy="225.31" r="1.3" fill="#8a8a8a" stroke="none" stroke-width="1"/>
<circle cx="64.06" cy="227.31" r="1.45" fill="#4e4e4e" stroke="none" stroke-width="1"/>
<circle cx="61.16" cy="229.51" r="1.3" fill="#8a8a8a" stroke="none" stroke-width="1"/>
<circle cx="63.39" cy="231.5" r="1.45" fill="#4e4e4e" stroke="none" stroke-width="1"/>
<circle cx="60.49" cy="233.7" r="1.3" fill="#8a8a8a" stroke="none" stroke-width="1"/>
<circle cx="62.71" cy="235.7" r="1.45" fill="#4e4e4e" stroke="none" stroke-width="1"/>
<circle cx="59.81" cy="237.9" r="1.3" fill="#8a8a8a" stroke="none" stroke-width="1"/>
<circle cx="62.04" cy="239.89" r="1.45" fill="#4e4e4e" stroke="none" stroke-width="1"/>
<circle cx="59.14" cy="242.09" r="1.3" fill="#8a8a8a" stroke="none" stroke-width="1"/>
<circle cx="61.37" cy="244.09" r="1.45" fill="#4e4e4e" stroke="none" stroke-width="1"/>
<circle cx="58.47" cy="246.29" r="1.3" fill="#8a8a8a" stroke="none" stroke-width="1"/>
<circle cx="60.7" cy="248.28" r="1.45" fill="#4e4e4e" stroke="none" stroke-width="1"/>
<circle cx="57.8" cy="250.48" r="1.3" fill="#8a8a8a" stroke="none" stroke-width="1"/>
<circle cx="64.5" cy="217.4" r="1.9" fill="#e8e030" stroke="#b0a820" stroke-width="0.3"/>
<circle cx="59" cy="251.8" r="1.9" fill="#e8e030" stroke="#b0a820" stroke-width="0.3"/>
<text x="68.1" y="237.8" font-size="10.3" fill="#1a1a1a"><tspan font-style="italic">ε</tspan>=0%</text>
<path d="M114.23,202.9 L120.37,208.8 M126.69,202.9 L120.37,208.8 M126.69,202.9 L132.83,208.8 M139.15,202.9 L132.83,208.8 M120.46,202.9 L126.6,208.8 M132.92,202.9 L126.6,208.8 M120.37,208.8 L126.6,214.7 M132.83,208.8 L126.6,214.7 M120.37,208.8 L132.83,208.8 M108,202.9 L145.38,202.9 M114.23,202.9 L117.25,205.85 M139.15,202.9 L135.94,205.85" fill="none" stroke="#7590d0" stroke-width="0.6"/>
<ellipse cx="108" cy="202.9" rx="2.7" ry="2.0" fill="url(#pdb)"/>
<ellipse cx="114.23" cy="202.9" rx="2.7" ry="2.0" fill="url(#pdb)"/>
<ellipse cx="120.46" cy="202.9" rx="2.7" ry="2.0" fill="url(#pdb)"/>
<ellipse cx="126.69" cy="202.9" rx="2.7" ry="2.0" fill="url(#pdb)"/>
<ellipse cx="132.92" cy="202.9" rx="2.7" ry="2.0" fill="url(#pdb)"/>
<ellipse cx="139.15" cy="202.9" rx="2.7" ry="2.0" fill="url(#pdb)"/>
<ellipse cx="145.38" cy="202.9" rx="2.7" ry="2.0" fill="url(#pdb)"/>
<circle cx="120.37" cy="208.8" r="2.5" fill="url(#pdb)" stroke="none" stroke-width="1"/>
<circle cx="126.6" cy="208.8" r="2.5" fill="url(#pdb)" stroke="none" stroke-width="1"/>
<circle cx="132.83" cy="208.8" r="2.5" fill="url(#pdb)" stroke="none" stroke-width="1"/>
<circle cx="126.6" cy="214.7" r="2.6" fill="url(#pdb)" stroke="none" stroke-width="1"/>
<path d="M94.7,266.9 L113.1,254.5 L131.3,266.9 M106.9,266.9 L113.1,260.8 L119.1,266.9 M107,260.8 L119.2,260.8 M94.7,266.9 L131.3,266.9 L131.3,266.9" fill="none" stroke="#d8d040" stroke-width="0.5"/>
<circle cx="94.7" cy="266.9" r="2.3" fill="url(#aub)" stroke="none" stroke-width="1"/>
<circle cx="100.8" cy="266.9" r="2.3" fill="url(#aub)" stroke="none" stroke-width="1"/>
<circle cx="106.9" cy="266.9" r="2.3" fill="url(#aub)" stroke="none" stroke-width="1"/>
<circle cx="113" cy="266.9" r="2.3" fill="url(#aub)" stroke="none" stroke-width="1"/>
<circle cx="119.1" cy="266.9" r="2.3" fill="url(#aub)" stroke="none" stroke-width="1"/>
<circle cx="125.2" cy="266.9" r="2.3" fill="url(#aub)" stroke="none" stroke-width="1"/>
<circle cx="131.3" cy="266.9" r="2.3" fill="url(#aub)" stroke="none" stroke-width="1"/>
<circle cx="107" cy="260.8" r="2.5" fill="url(#aub)" stroke="none" stroke-width="1"/>
<circle cx="113.1" cy="260.8" r="2.5" fill="url(#aub)" stroke="none" stroke-width="1"/>
<circle cx="119.2" cy="260.8" r="2.5" fill="url(#aub)" stroke="none" stroke-width="1"/>
<circle cx="113.1" cy="254.5" r="2.6" fill="url(#aub)" stroke="none" stroke-width="1"/>
<path d="M122.8,217.5 L123.65,219 L120.75,221.2 L122.89,223.17 L119.99,225.37 L122.13,227.34 L119.23,229.54 L121.38,231.51 L118.48,233.71 L120.62,235.69 L117.72,237.89 L119.87,239.86 L116.97,242.06 L119.11,244.03 L116.21,246.23 L118.35,248.2 L115.45,250.4 L116.6,251.7" fill="none" stroke="#5a5a5a" stroke-width="1.1"/>
<circle cx="125.65" cy="218.4" r="0.95" fill="#b4b4b4" stroke="none" stroke-width="1"/>
<circle cx="118.95" cy="220.4" r="0.95" fill="#b8b8b8" stroke="none" stroke-width="1"/>
<circle cx="124.89" cy="222.57" r="0.95" fill="#b4b4b4" stroke="none" stroke-width="1"/>
<circle cx="118.19" cy="224.57" r="0.95" fill="#b8b8b8" stroke="none" stroke-width="1"/>
<circle cx="124.13" cy="226.74" r="0.95" fill="#b4b4b4" stroke="none" stroke-width="1"/>
<circle cx="117.43" cy="228.74" r="0.95" fill="#b8b8b8" stroke="none" stroke-width="1"/>
<circle cx="123.38" cy="230.91" r="0.95" fill="#b4b4b4" stroke="none" stroke-width="1"/>
<circle cx="116.68" cy="232.91" r="0.95" fill="#b8b8b8" stroke="none" stroke-width="1"/>
<circle cx="122.62" cy="235.09" r="0.95" fill="#b4b4b4" stroke="none" stroke-width="1"/>
<circle cx="115.92" cy="237.09" r="0.95" fill="#b8b8b8" stroke="none" stroke-width="1"/>
<circle cx="121.87" cy="239.26" r="0.95" fill="#b4b4b4" stroke="none" stroke-width="1"/>
<circle cx="115.17" cy="241.26" r="0.95" fill="#b8b8b8" stroke="none" stroke-width="1"/>
<circle cx="121.11" cy="243.43" r="0.95" fill="#b4b4b4" stroke="none" stroke-width="1"/>
<circle cx="114.41" cy="245.43" r="0.95" fill="#b8b8b8" stroke="none" stroke-width="1"/>
<circle cx="120.35" cy="247.6" r="0.95" fill="#b4b4b4" stroke="none" stroke-width="1"/>
<circle cx="113.65" cy="249.6" r="0.95" fill="#b8b8b8" stroke="none" stroke-width="1"/>
<circle cx="123.65" cy="219" r="1.45" fill="#4e4e4e" stroke="none" stroke-width="1"/>
<circle cx="120.75" cy="221.2" r="1.3" fill="#8a8a8a" stroke="none" stroke-width="1"/>
<circle cx="122.89" cy="223.17" r="1.45" fill="#4e4e4e" stroke="none" stroke-width="1"/>
<circle cx="119.99" cy="225.37" r="1.3" fill="#8a8a8a" stroke="none" stroke-width="1"/>
<circle cx="122.13" cy="227.34" r="1.45" fill="#4e4e4e" stroke="none" stroke-width="1"/>
<circle cx="119.23" cy="229.54" r="1.3" fill="#8a8a8a" stroke="none" stroke-width="1"/>
<circle cx="121.38" cy="231.51" r="1.45" fill="#4e4e4e" stroke="none" stroke-width="1"/>
<circle cx="118.48" cy="233.71" r="1.3" fill="#8a8a8a" stroke="none" stroke-width="1"/>
<circle cx="120.62" cy="235.69" r="1.45" fill="#4e4e4e" stroke="none" stroke-width="1"/>
<circle cx="117.72" cy="237.89" r="1.3" fill="#8a8a8a" stroke="none" stroke-width="1"/>
<circle cx="119.87" cy="239.86" r="1.45" fill="#4e4e4e" stroke="none" stroke-width="1"/>
<circle cx="116.97" cy="242.06" r="1.3" fill="#8a8a8a" stroke="none" stroke-width="1"/>
<circle cx="119.11" cy="244.03" r="1.45" fill="#4e4e4e" stroke="none" stroke-width="1"/>
<circle cx="116.21" cy="246.23" r="1.3" fill="#8a8a8a" stroke="none" stroke-width="1"/>
<circle cx="118.35" cy="248.2" r="1.45" fill="#4e4e4e" stroke="none" stroke-width="1"/>
<circle cx="115.45" cy="250.4" r="1.3" fill="#8a8a8a" stroke="none" stroke-width="1"/>
<circle cx="122.8" cy="217.5" r="1.9" fill="#e8e030" stroke="#b0a820" stroke-width="0.3"/>
<circle cx="116.6" cy="251.7" r="1.9" fill="#e8e030" stroke="#b0a820" stroke-width="0.3"/>
<text x="127" y="237.4" font-size="10.3" fill="#1a1a1a"><tspan font-style="italic">ε</tspan>=1%</text>
<path d="M172.13,203.3 L178.07,209.15 M184.59,203.3 L178.07,209.15 M184.59,203.3 L190.53,209.15 M197.05,203.3 L190.53,209.15 M178.36,203.3 L184.3,209.15 M190.82,203.3 L184.3,209.15 M178.07,209.15 L184.3,215 M190.53,209.15 L184.3,215 M178.07,209.15 L190.53,209.15 M165.9,203.3 L203.28,203.3 M172.13,203.3 L174.96,206.23 M197.05,203.3 L193.65,206.23" fill="none" stroke="#7590d0" stroke-width="0.6"/>
<ellipse cx="165.9" cy="203.3" rx="2.7" ry="2.0" fill="url(#pdb)"/>
<ellipse cx="172.13" cy="203.3" rx="2.7" ry="2.0" fill="url(#pdb)"/>
<ellipse cx="178.36" cy="203.3" rx="2.7" ry="2.0" fill="url(#pdb)"/>
<ellipse cx="184.59" cy="203.3" rx="2.7" ry="2.0" fill="url(#pdb)"/>
<ellipse cx="190.82" cy="203.3" rx="2.7" ry="2.0" fill="url(#pdb)"/>
<ellipse cx="197.05" cy="203.3" rx="2.7" ry="2.0" fill="url(#pdb)"/>
<ellipse cx="203.28" cy="203.3" rx="2.7" ry="2.0" fill="url(#pdb)"/>
<circle cx="178.07" cy="209.15" r="2.5" fill="url(#pdb)" stroke="none" stroke-width="1"/>
<circle cx="184.3" cy="209.15" r="2.5" fill="url(#pdb)" stroke="none" stroke-width="1"/>
<circle cx="190.53" cy="209.15" r="2.5" fill="url(#pdb)" stroke="none" stroke-width="1"/>
<circle cx="184.3" cy="215" r="2.6" fill="url(#pdb)" stroke="none" stroke-width="1"/>
<path d="M152.6,266.9 L171.6,254.5 L189.2,266.9 M164.8,266.9 L171.6,260.8 L177,266.9 M165.5,260.8 L177.7,260.8 M152.6,266.9 L189.2,266.9 L189.2,266.9" fill="none" stroke="#d8d040" stroke-width="0.5"/>
<circle cx="152.6" cy="266.9" r="2.3" fill="url(#aub)" stroke="none" stroke-width="1"/>
<circle cx="158.7" cy="266.9" r="2.3" fill="url(#aub)" stroke="none" stroke-width="1"/>
<circle cx="164.8" cy="266.9" r="2.3" fill="url(#aub)" stroke="none" stroke-width="1"/>
<circle cx="170.9" cy="266.9" r="2.3" fill="url(#aub)" stroke="none" stroke-width="1"/>
<circle cx="177" cy="266.9" r="2.3" fill="url(#aub)" stroke="none" stroke-width="1"/>
<circle cx="183.1" cy="266.9" r="2.3" fill="url(#aub)" stroke="none" stroke-width="1"/>
<circle cx="189.2" cy="266.9" r="2.3" fill="url(#aub)" stroke="none" stroke-width="1"/>
<circle cx="165.5" cy="260.8" r="2.5" fill="url(#aub)" stroke="none" stroke-width="1"/>
<circle cx="171.6" cy="260.8" r="2.5" fill="url(#aub)" stroke="none" stroke-width="1"/>
<circle cx="177.7" cy="260.8" r="2.5" fill="url(#aub)" stroke="none" stroke-width="1"/>
<circle cx="171.6" cy="254.5" r="2.6" fill="url(#aub)" stroke="none" stroke-width="1"/>
<path d="M181.1,218.1 L181.94,219.58 L179.04,221.78 L181.17,223.71 L178.27,225.91 L180.4,227.85 L177.5,230.05 L179.63,231.98 L176.73,234.18 L178.87,236.12 L175.97,238.32 L178.1,240.25 L175.2,242.45 L177.33,244.39 L174.43,246.59 L176.56,248.52 L173.66,250.72 L174.8,252" fill="none" stroke="#5a5a5a" stroke-width="1.1"/>
<circle cx="183.94" cy="218.98" r="0.95" fill="#b4b4b4" stroke="none" stroke-width="1"/>
<circle cx="177.24" cy="220.98" r="0.95" fill="#b8b8b8" stroke="none" stroke-width="1"/>
<circle cx="183.17" cy="223.11" r="0.95" fill="#b4b4b4" stroke="none" stroke-width="1"/>
<circle cx="176.47" cy="225.11" r="0.95" fill="#b8b8b8" stroke="none" stroke-width="1"/>
<circle cx="182.4" cy="227.25" r="0.95" fill="#b4b4b4" stroke="none" stroke-width="1"/>
<circle cx="175.7" cy="229.25" r="0.95" fill="#b8b8b8" stroke="none" stroke-width="1"/>
<circle cx="181.63" cy="231.38" r="0.95" fill="#b4b4b4" stroke="none" stroke-width="1"/>
<circle cx="174.93" cy="233.38" r="0.95" fill="#b8b8b8" stroke="none" stroke-width="1"/>
<circle cx="180.87" cy="235.52" r="0.95" fill="#b4b4b4" stroke="none" stroke-width="1"/>
<circle cx="174.17" cy="237.52" r="0.95" fill="#b8b8b8" stroke="none" stroke-width="1"/>
<circle cx="180.1" cy="239.65" r="0.95" fill="#b4b4b4" stroke="none" stroke-width="1"/>
<circle cx="173.4" cy="241.65" r="0.95" fill="#b8b8b8" stroke="none" stroke-width="1"/>
<circle cx="179.33" cy="243.79" r="0.95" fill="#b4b4b4" stroke="none" stroke-width="1"/>
<circle cx="172.63" cy="245.79" r="0.95" fill="#b8b8b8" stroke="none" stroke-width="1"/>
<circle cx="178.56" cy="247.92" r="0.95" fill="#b4b4b4" stroke="none" stroke-width="1"/>
<circle cx="171.86" cy="249.92" r="0.95" fill="#b8b8b8" stroke="none" stroke-width="1"/>
<circle cx="181.94" cy="219.58" r="1.45" fill="#4e4e4e" stroke="none" stroke-width="1"/>
<circle cx="179.04" cy="221.78" r="1.3" fill="#8a8a8a" stroke="none" stroke-width="1"/>
<circle cx="181.17" cy="223.71" r="1.45" fill="#4e4e4e" stroke="none" stroke-width="1"/>
<circle cx="178.27" cy="225.91" r="1.3" fill="#8a8a8a" stroke="none" stroke-width="1"/>
<circle cx="180.4" cy="227.85" r="1.45" fill="#4e4e4e" stroke="none" stroke-width="1"/>
<circle cx="177.5" cy="230.05" r="1.3" fill="#8a8a8a" stroke="none" stroke-width="1"/>
<circle cx="179.63" cy="231.98" r="1.45" fill="#4e4e4e" stroke="none" stroke-width="1"/>
<circle cx="176.73" cy="234.18" r="1.3" fill="#8a8a8a" stroke="none" stroke-width="1"/>
<circle cx="178.87" cy="236.12" r="1.45" fill="#4e4e4e" stroke="none" stroke-width="1"/>
<circle cx="175.97" cy="238.32" r="1.3" fill="#8a8a8a" stroke="none" stroke-width="1"/>
<circle cx="178.1" cy="240.25" r="1.45" fill="#4e4e4e" stroke="none" stroke-width="1"/>
<circle cx="175.2" cy="242.45" r="1.3" fill="#8a8a8a" stroke="none" stroke-width="1"/>
<circle cx="177.33" cy="244.39" r="1.45" fill="#4e4e4e" stroke="none" stroke-width="1"/>
<circle cx="174.43" cy="246.59" r="1.3" fill="#8a8a8a" stroke="none" stroke-width="1"/>
<circle cx="176.56" cy="248.52" r="1.45" fill="#4e4e4e" stroke="none" stroke-width="1"/>
<circle cx="173.66" cy="250.72" r="1.3" fill="#8a8a8a" stroke="none" stroke-width="1"/>
<circle cx="181.1" cy="218.1" r="1.9" fill="#e8e030" stroke="#b0a820" stroke-width="0.3"/>
<circle cx="174.8" cy="252" r="1.9" fill="#e8e030" stroke="#b0a820" stroke-width="0.3"/>
<text x="184.9" y="237.4" font-size="10.3" fill="#1a1a1a"><tspan font-style="italic">ε</tspan>=2%</text>
<path d="M232.83,203.9 L239.17,209.95 M245.29,203.9 L239.17,209.95 M245.29,203.9 L251.63,209.95 M257.75,203.9 L251.63,209.95 M239.06,203.9 L245.4,209.95 M251.52,203.9 L245.4,209.95 M239.17,209.95 L245.4,216 M251.63,209.95 L245.4,216 M239.17,209.95 L251.63,209.95 M226.6,203.9 L263.98,203.9 M232.83,203.9 L236.06,206.93 M257.75,203.9 L254.75,206.93" fill="none" stroke="#7590d0" stroke-width="0.6"/>
<ellipse cx="226.6" cy="203.9" rx="2.7" ry="2.0" fill="url(#pdb)"/>
<ellipse cx="232.83" cy="203.9" rx="2.7" ry="2.0" fill="url(#pdb)"/>
<ellipse cx="239.06" cy="203.9" rx="2.7" ry="2.0" fill="url(#pdb)"/>
<ellipse cx="245.29" cy="203.9" rx="2.7" ry="2.0" fill="url(#pdb)"/>
<ellipse cx="251.52" cy="203.9" rx="2.7" ry="2.0" fill="url(#pdb)"/>
<ellipse cx="257.75" cy="203.9" rx="2.7" ry="2.0" fill="url(#pdb)"/>
<ellipse cx="263.98" cy="203.9" rx="2.7" ry="2.0" fill="url(#pdb)"/>
<circle cx="239.17" cy="209.95" r="2.5" fill="url(#pdb)" stroke="none" stroke-width="1"/>
<circle cx="245.4" cy="209.95" r="2.5" fill="url(#pdb)" stroke="none" stroke-width="1"/>
<circle cx="251.63" cy="209.95" r="2.5" fill="url(#pdb)" stroke="none" stroke-width="1"/>
<circle cx="245.4" cy="216" r="2.6" fill="url(#pdb)" stroke="none" stroke-width="1"/>
<path d="M211.2,266.9 L229.7,255 L247.8,266.9 M223.4,266.9 L229.7,261 L235.6,266.9 M223.6,261 L235.8,261 M211.2,266.9 L247.8,266.9 L247.8,266.9" fill="none" stroke="#d8d040" stroke-width="0.5"/>
<circle cx="211.2" cy="266.9" r="2.3" fill="url(#aub)" stroke="none" stroke-width="1"/>
<circle cx="217.3" cy="266.9" r="2.3" fill="url(#aub)" stroke="none" stroke-width="1"/>
<circle cx="223.4" cy="266.9" r="2.3" fill="url(#aub)" stroke="none" stroke-width="1"/>
<circle cx="229.5" cy="266.9" r="2.3" fill="url(#aub)" stroke="none" stroke-width="1"/>
<circle cx="235.6" cy="266.9" r="2.3" fill="url(#aub)" stroke="none" stroke-width="1"/>
<circle cx="241.7" cy="266.9" r="2.3" fill="url(#aub)" stroke="none" stroke-width="1"/>
<circle cx="247.8" cy="266.9" r="2.3" fill="url(#aub)" stroke="none" stroke-width="1"/>
<circle cx="223.6" cy="261" r="2.5" fill="url(#aub)" stroke="none" stroke-width="1"/>
<circle cx="229.7" cy="261" r="2.5" fill="url(#aub)" stroke="none" stroke-width="1"/>
<circle cx="235.8" cy="261" r="2.5" fill="url(#aub)" stroke="none" stroke-width="1"/>
<circle cx="229.7" cy="255" r="2.6" fill="url(#aub)" stroke="none" stroke-width="1"/>
<path d="M241.9,218.2 L242.53,219.66 L239.63,221.86 L241.4,223.76 L238.5,225.96 L240.28,227.85 L237.38,230.05 L239.16,231.95 L236.26,234.15 L238.04,236.05 L235.14,238.25 L236.92,240.15 L234.02,242.35 L235.8,244.24 L232.9,246.44 L234.67,248.34 L231.77,250.54 L232.7,251.8" fill="none" stroke="#5a5a5a" stroke-width="1.1"/>
<circle cx="244.53" cy="219.06" r="0.95" fill="#b4b4b4" stroke="none" stroke-width="1"/>
<circle cx="237.83" cy="221.06" r="0.95" fill="#b8b8b8" stroke="none" stroke-width="1"/>
<circle cx="243.4" cy="223.16" r="0.95" fill="#b4b4b4" stroke="none" stroke-width="1"/>
<circle cx="236.7" cy="225.16" r="0.95" fill="#b8b8b8" stroke="none" stroke-width="1"/>
<circle cx="242.28" cy="227.25" r="0.95" fill="#b4b4b4" stroke="none" stroke-width="1"/>
<circle cx="235.58" cy="229.25" r="0.95" fill="#b8b8b8" stroke="none" stroke-width="1"/>
<circle cx="241.16" cy="231.35" r="0.95" fill="#b4b4b4" stroke="none" stroke-width="1"/>
<circle cx="234.46" cy="233.35" r="0.95" fill="#b8b8b8" stroke="none" stroke-width="1"/>
<circle cx="240.04" cy="235.45" r="0.95" fill="#b4b4b4" stroke="none" stroke-width="1"/>
<circle cx="233.34" cy="237.45" r="0.95" fill="#b8b8b8" stroke="none" stroke-width="1"/>
<circle cx="238.92" cy="239.55" r="0.95" fill="#b4b4b4" stroke="none" stroke-width="1"/>
<circle cx="232.22" cy="241.55" r="0.95" fill="#b8b8b8" stroke="none" stroke-width="1"/>
<circle cx="237.8" cy="243.64" r="0.95" fill="#b4b4b4" stroke="none" stroke-width="1"/>
<circle cx="231.1" cy="245.64" r="0.95" fill="#b8b8b8" stroke="none" stroke-width="1"/>
<circle cx="236.67" cy="247.74" r="0.95" fill="#b4b4b4" stroke="none" stroke-width="1"/>
<circle cx="229.97" cy="249.74" r="0.95" fill="#b8b8b8" stroke="none" stroke-width="1"/>
<circle cx="242.53" cy="219.66" r="1.45" fill="#4e4e4e" stroke="none" stroke-width="1"/>
<circle cx="239.63" cy="221.86" r="1.3" fill="#8a8a8a" stroke="none" stroke-width="1"/>
<circle cx="241.4" cy="223.76" r="1.45" fill="#4e4e4e" stroke="none" stroke-width="1"/>
<circle cx="238.5" cy="225.96" r="1.3" fill="#8a8a8a" stroke="none" stroke-width="1"/>
<circle cx="240.28" cy="227.85" r="1.45" fill="#4e4e4e" stroke="none" stroke-width="1"/>
<circle cx="237.38" cy="230.05" r="1.3" fill="#8a8a8a" stroke="none" stroke-width="1"/>
<circle cx="239.16" cy="231.95" r="1.45" fill="#4e4e4e" stroke="none" stroke-width="1"/>
<circle cx="236.26" cy="234.15" r="1.3" fill="#8a8a8a" stroke="none" stroke-width="1"/>
<circle cx="238.04" cy="236.05" r="1.45" fill="#4e4e4e" stroke="none" stroke-width="1"/>
<circle cx="235.14" cy="238.25" r="1.3" fill="#8a8a8a" stroke="none" stroke-width="1"/>
<circle cx="236.92" cy="240.15" r="1.45" fill="#4e4e4e" stroke="none" stroke-width="1"/>
<circle cx="234.02" cy="242.35" r="1.3" fill="#8a8a8a" stroke="none" stroke-width="1"/>
<circle cx="235.8" cy="244.24" r="1.45" fill="#4e4e4e" stroke="none" stroke-width="1"/>
<circle cx="232.9" cy="246.44" r="1.3" fill="#8a8a8a" stroke="none" stroke-width="1"/>
<circle cx="234.67" cy="248.34" r="1.45" fill="#4e4e4e" stroke="none" stroke-width="1"/>
<circle cx="231.77" cy="250.54" r="1.3" fill="#8a8a8a" stroke="none" stroke-width="1"/>
<circle cx="241.9" cy="218.2" r="1.9" fill="#e8e030" stroke="#b0a820" stroke-width="0.3"/>
<circle cx="232.7" cy="251.8" r="1.9" fill="#e8e030" stroke="#b0a820" stroke-width="0.3"/>
<text x="244" y="241.1" font-size="10.3" fill="#1a1a1a"><tspan font-style="italic">ε</tspan>=5%</text>
<path d="M296.23,206 L301.77,212.3 M308.69,206 L301.77,212.3 M308.69,206 L314.23,212.3 M321.15,206 L314.23,212.3 M302.46,206 L308,212.3 M314.92,206 L308,212.3 M301.77,212.3 L308,218.6 M314.23,212.3 L308,218.6 M301.77,212.3 L314.23,212.3 M290,206 L327.38,206 M296.23,206 L298.65,209.15 M321.15,206 L317.35,209.15" fill="none" stroke="#7590d0" stroke-width="0.6"/>
<ellipse cx="290" cy="206" rx="2.7" ry="2.0" fill="url(#pdb)"/>
<ellipse cx="296.23" cy="206" rx="2.7" ry="2.0" fill="url(#pdb)"/>
<ellipse cx="302.46" cy="206" rx="2.7" ry="2.0" fill="url(#pdb)"/>
<ellipse cx="308.69" cy="206" rx="2.7" ry="2.0" fill="url(#pdb)"/>
<ellipse cx="314.92" cy="206" rx="2.7" ry="2.0" fill="url(#pdb)"/>
<ellipse cx="321.15" cy="206" rx="2.7" ry="2.0" fill="url(#pdb)"/>
<ellipse cx="327.38" cy="206" rx="2.7" ry="2.0" fill="url(#pdb)"/>
<circle cx="301.77" cy="212.3" r="2.5" fill="url(#pdb)" stroke="none" stroke-width="1"/>
<circle cx="308" cy="212.3" r="2.5" fill="url(#pdb)" stroke="none" stroke-width="1"/>
<circle cx="314.23" cy="212.3" r="2.5" fill="url(#pdb)" stroke="none" stroke-width="1"/>
<circle cx="308" cy="218.6" r="2.6" fill="url(#pdb)" stroke="none" stroke-width="1"/>
<path d="M269.1,266.9 L288,255 L305.7,266.9 M281.3,266.9 L288,261 L293.5,266.9 M281.9,261 L294.1,261 M269.1,266.9 L305.7,266.9 L305.7,266.9" fill="none" stroke="#d8d040" stroke-width="0.5"/>
<circle cx="269.1" cy="266.9" r="2.3" fill="url(#aub)" stroke="none" stroke-width="1"/>
<circle cx="275.2" cy="266.9" r="2.3" fill="url(#aub)" stroke="none" stroke-width="1"/>
<circle cx="281.3" cy="266.9" r="2.3" fill="url(#aub)" stroke="none" stroke-width="1"/>
<circle cx="287.4" cy="266.9" r="2.3" fill="url(#aub)" stroke="none" stroke-width="1"/>
<circle cx="293.5" cy="266.9" r="2.3" fill="url(#aub)" stroke="none" stroke-width="1"/>
<circle cx="299.6" cy="266.9" r="2.3" fill="url(#aub)" stroke="none" stroke-width="1"/>
<circle cx="305.7" cy="266.9" r="2.3" fill="url(#aub)" stroke="none" stroke-width="1"/>
<circle cx="281.9" cy="261" r="2.5" fill="url(#aub)" stroke="none" stroke-width="1"/>
<circle cx="288" cy="261" r="2.5" fill="url(#aub)" stroke="none" stroke-width="1"/>
<circle cx="294.1" cy="261" r="2.5" fill="url(#aub)" stroke="none" stroke-width="1"/>
<circle cx="288" cy="255" r="2.6" fill="url(#aub)" stroke="none" stroke-width="1"/>
<path d="M304.3,220.3 L304.67,221.65 L301.77,223.85 L303.12,225.56 L300.22,227.76 L301.57,229.48 L298.67,231.68 L300.02,233.39 L297.12,235.59 L298.48,237.31 L295.58,239.51 L296.93,241.22 L294.03,243.42 L295.38,245.14 L292.48,247.34 L293.83,249.05 L290.93,251.25 L291.6,252.4" fill="none" stroke="#5a5a5a" stroke-width="1.1"/>
<circle cx="306.67" cy="221.05" r="0.95" fill="#b4b4b4" stroke="none" stroke-width="1"/>
<circle cx="299.97" cy="223.05" r="0.95" fill="#b8b8b8" stroke="none" stroke-width="1"/>
<circle cx="305.12" cy="224.96" r="0.95" fill="#b4b4b4" stroke="none" stroke-width="1"/>
<circle cx="298.42" cy="226.96" r="0.95" fill="#b8b8b8" stroke="none" stroke-width="1"/>
<circle cx="303.57" cy="228.88" r="0.95" fill="#b4b4b4" stroke="none" stroke-width="1"/>
<circle cx="296.87" cy="230.88" r="0.95" fill="#b8b8b8" stroke="none" stroke-width="1"/>
<circle cx="302.02" cy="232.79" r="0.95" fill="#b4b4b4" stroke="none" stroke-width="1"/>
<circle cx="295.32" cy="234.79" r="0.95" fill="#b8b8b8" stroke="none" stroke-width="1"/>
<circle cx="300.48" cy="236.71" r="0.95" fill="#b4b4b4" stroke="none" stroke-width="1"/>
<circle cx="293.78" cy="238.71" r="0.95" fill="#b8b8b8" stroke="none" stroke-width="1"/>
<circle cx="298.93" cy="240.62" r="0.95" fill="#b4b4b4" stroke="none" stroke-width="1"/>
<circle cx="292.23" cy="242.62" r="0.95" fill="#b8b8b8" stroke="none" stroke-width="1"/>
<circle cx="297.38" cy="244.54" r="0.95" fill="#b4b4b4" stroke="none" stroke-width="1"/>
<circle cx="290.68" cy="246.54" r="0.95" fill="#b8b8b8" stroke="none" stroke-width="1"/>
<circle cx="295.83" cy="248.45" r="0.95" fill="#b4b4b4" stroke="none" stroke-width="1"/>
<circle cx="289.13" cy="250.45" r="0.95" fill="#b8b8b8" stroke="none" stroke-width="1"/>
<circle cx="304.67" cy="221.65" r="1.45" fill="#4e4e4e" stroke="none" stroke-width="1"/>
<circle cx="301.77" cy="223.85" r="1.3" fill="#8a8a8a" stroke="none" stroke-width="1"/>
<circle cx="303.12" cy="225.56" r="1.45" fill="#4e4e4e" stroke="none" stroke-width="1"/>
<circle cx="300.22" cy="227.76" r="1.3" fill="#8a8a8a" stroke="none" stroke-width="1"/>
<circle cx="301.57" cy="229.48" r="1.45" fill="#4e4e4e" stroke="none" stroke-width="1"/>
<circle cx="298.67" cy="231.68" r="1.3" fill="#8a8a8a" stroke="none" stroke-width="1"/>
<circle cx="300.02" cy="233.39" r="1.45" fill="#4e4e4e" stroke="none" stroke-width="1"/>
<circle cx="297.12" cy="235.59" r="1.3" fill="#8a8a8a" stroke="none" stroke-width="1"/>
<circle cx="298.48" cy="237.31" r="1.45" fill="#4e4e4e" stroke="none" stroke-width="1"/>
<circle cx="295.58" cy="239.51" r="1.3" fill="#8a8a8a" stroke="none" stroke-width="1"/>
<circle cx="296.93" cy="241.22" r="1.45" fill="#4e4e4e" stroke="none" stroke-width="1"/>
<circle cx="294.03" cy="243.42" r="1.3" fill="#8a8a8a" stroke="none" stroke-width="1"/>
<circle cx="295.38" cy="245.14" r="1.45" fill="#4e4e4e" stroke="none" stroke-width="1"/>
<circle cx="292.48" cy="247.34" r="1.3" fill="#8a8a8a" stroke="none" stroke-width="1"/>
<circle cx="293.83" cy="249.05" r="1.45" fill="#4e4e4e" stroke="none" stroke-width="1"/>
<circle cx="290.93" cy="251.25" r="1.3" fill="#8a8a8a" stroke="none" stroke-width="1"/>
<circle cx="304.3" cy="220.3" r="1.9" fill="#e8e030" stroke="#b0a820" stroke-width="0.3"/>
<circle cx="291.6" cy="252.4" r="1.9" fill="#e8e030" stroke="#b0a820" stroke-width="0.3"/>
<text x="301.8" y="243.6" font-size="10.3" fill="#1a1a1a"><tspan font-style="italic">ε</tspan>=10%</text>
<path d="M47.24,271.6 C51.52,273.4 73.48,278.67 72.93,282.4 C72.38,286.13 47.87,291.08 43.95,294 C40.04,296.92 50.1,296.7 49.42,299.9 C48.74,303.1 40.09,309.88 39.88,313.2 C39.66,316.52 45.24,317.87 48.13,319.8 C51.02,321.73 54.52,322.17 57.22,324.8 C59.93,327.43 63.64,332.7 64.33,335.6 C65.02,338.5 61.57,340.4 61.35,342.2 C61.13,344 64.92,344.87 62.99,346.4 C61.06,347.93 52.66,350.02 49.77,351.4 C46.88,352.78 46.46,353.55 45.64,354.7 C44.82,355.85 44.85,357.15 44.85,358.3 C44.85,359.45 45.79,359.93 45.64,361.6 C45.5,363.27 43.82,365.8 43.95,368.3 C44.09,370.8 46.71,373.98 46.44,376.6 C46.17,379.22 41.81,381.93 42.36,384 C42.92,386.07 43.86,387.2 49.77,389 C55.68,390.8 77.85,393 77.85,394.8 C77.85,396.6 55,397.72 49.77,399.8 C44.53,401.88 45.48,405.22 46.44,407.3 C47.4,409.38 53.88,411.2 55.54,412.3 C57.19,413.4 56.24,413.63 56.38,413.9 L36.5,413.9 L36.5,271.6 Z" fill="url(#dosg0)" stroke="none" stroke-width="1"/>
<path d="M47.24,271.6 C51.52,273.4 73.48,278.67 72.93,282.4 C72.38,286.13 47.87,291.08 43.95,294 C40.04,296.92 50.1,296.7 49.42,299.9 C48.74,303.1 40.09,309.88 39.88,313.2 C39.66,316.52 45.24,317.87 48.13,319.8 C51.02,321.73 54.52,322.17 57.22,324.8 C59.93,327.43 63.64,332.7 64.33,335.6 C65.02,338.5 61.57,340.4 61.35,342.2 C61.13,344 64.92,344.87 62.99,346.4 C61.06,347.93 52.66,350.02 49.77,351.4 C46.88,352.78 46.46,353.55 45.64,354.7 C44.82,355.85 44.85,357.15 44.85,358.3 C44.85,359.45 45.79,359.93 45.64,361.6 C45.5,363.27 43.82,365.8 43.95,368.3 C44.09,370.8 46.71,373.98 46.44,376.6 C46.17,379.22 41.81,381.93 42.36,384 C42.92,386.07 43.86,387.2 49.77,389 C55.68,390.8 77.85,393 77.85,394.8 C77.85,396.6 55,397.72 49.77,399.8 C44.53,401.88 45.48,405.22 46.44,407.3 C47.4,409.38 53.88,411.2 55.54,412.3 C57.19,413.4 56.24,413.63 56.38,413.9" fill="none" stroke="#1f4e8c" stroke-width="1.5"/>
<rect x="36.5" y="271.6" width="49.7" height="142.3" fill="none" stroke="#9a9a9a" stroke-width="0.8"/>
<line x1="36.5" y1="413.9" x2="36.5" y2="416.1" stroke="#9a9a9a" stroke-width="0.8"/>
<text x="36.5" y="427.3" font-size="9" text-anchor="middle" fill="#1a1a1a">0</text>
<line x1="61.35" y1="413.9" x2="61.35" y2="416.1" stroke="#9a9a9a" stroke-width="0.8"/>
<text x="61.35" y="427.3" font-size="9" text-anchor="middle" fill="#1a1a1a">0.5</text>
<line x1="86.2" y1="413.9" x2="86.2" y2="416.1" stroke="#9a9a9a" stroke-width="0.8"/>
<text x="86.2" y="427.3" font-size="9" text-anchor="middle" fill="#1a1a1a">1</text>
<path d="M109.81,271.6 C113.45,273.32 133.08,278.5 131.68,281.9 C130.27,285.3 105.54,288.98 101.36,292 C97.17,295.02 107.24,296.5 106.58,300 C105.91,303.5 96.84,309.47 97.38,313 C97.92,316.53 106.83,318.87 109.81,321.2 C112.79,323.53 111.88,324.07 115.27,327 C118.67,329.93 128.78,336.3 130.18,338.8 C131.59,341.3 128.11,340.47 123.72,342 C119.33,343.53 107.32,345.22 103.84,348 C100.36,350.78 103.35,355.75 102.85,358.7 C102.35,361.65 100.78,362.98 100.86,365.7 C100.94,368.42 103.68,371.68 103.35,375 C103.01,378.32 93.49,382 98.87,385.6 C104.26,389.2 135.57,393.28 135.65,396.6 C135.73,399.92 103.26,402.62 99.37,405.5 C95.48,408.38 110.14,412.5 112.29,413.9 L94.4,413.9 L94.4,271.6 Z" fill="url(#dosg1)" stroke="none" stroke-width="1"/>
<path d="M109.81,271.6 C113.45,273.32 133.08,278.5 131.68,281.9 C130.27,285.3 105.54,288.98 101.36,292 C97.17,295.02 107.24,296.5 106.58,300 C105.91,303.5 96.84,309.47 97.38,313 C97.92,316.53 106.83,318.87 109.81,321.2 C112.79,323.53 111.88,324.07 115.27,327 C118.67,329.93 128.78,336.3 130.18,338.8 C131.59,341.3 128.11,340.47 123.72,342 C119.33,343.53 107.32,345.22 103.84,348 C100.36,350.78 103.35,355.75 102.85,358.7 C102.35,361.65 100.78,362.98 100.86,365.7 C100.94,368.42 103.68,371.68 103.35,375 C103.01,378.32 93.49,382 98.87,385.6 C104.26,389.2 135.57,393.28 135.65,396.6 C135.73,399.92 103.26,402.62 99.37,405.5 C95.48,408.38 110.14,412.5 112.29,413.9" fill="none" stroke="#6e96dc" stroke-width="1"/>
<rect x="94.4" y="271.6" width="49.7" height="142.3" fill="none" stroke="#9a9a9a" stroke-width="0.8"/>
<line x1="94.4" y1="413.9" x2="94.4" y2="416.1" stroke="#9a9a9a" stroke-width="0.8"/>
<text x="94.4" y="427.3" font-size="9" text-anchor="middle" fill="#1a1a1a">0</text>
<line x1="119.25" y1="413.9" x2="119.25" y2="416.1" stroke="#9a9a9a" stroke-width="0.8"/>
<text x="119.25" y="427.3" font-size="9" text-anchor="middle" fill="#1a1a1a">0.5</text>
<line x1="144.1" y1="413.9" x2="144.1" y2="416.1" stroke="#9a9a9a" stroke-width="0.8"/>
<text x="144.1" y="427.3" font-size="9" text-anchor="middle" fill="#1a1a1a">1</text>
<path d="M165.83,271.6 C170.63,273.43 195.81,279.2 194.65,282.6 C193.49,286 163.67,289.1 158.87,292 C154.06,294.9 165.99,296.5 165.83,300 C165.66,303.5 157.46,309.5 157.87,313 C158.29,316.5 165.74,318.67 168.31,321 C170.88,323.33 169.3,324.08 173.28,327 C177.26,329.92 193.57,335 192.17,338.5 C190.76,342 169.8,344.75 164.83,348 C159.86,351.25 163.13,355.17 162.35,358 C161.56,360.83 159.94,362.17 160.11,365 C160.28,367.83 163.71,371.67 163.34,375 C162.97,378.33 153.48,381.08 157.87,385 C162.26,388.92 189.31,395.17 189.68,398.5 C190.05,401.83 163.67,402.43 160.11,405 C156.55,407.57 166.94,412.42 168.31,413.9 L153.4,413.9 L153.4,271.6 Z" fill="url(#dosg2)" stroke="none" stroke-width="1"/>
<path d="M165.83,271.6 C170.63,273.43 195.81,279.2 194.65,282.6 C193.49,286 163.67,289.1 158.87,292 C154.06,294.9 165.99,296.5 165.83,300 C165.66,303.5 157.46,309.5 157.87,313 C158.29,316.5 165.74,318.67 168.31,321 C170.88,323.33 169.3,324.08 173.28,327 C177.26,329.92 193.57,335 192.17,338.5 C190.76,342 169.8,344.75 164.83,348 C159.86,351.25 163.13,355.17 162.35,358 C161.56,360.83 159.94,362.17 160.11,365 C160.28,367.83 163.71,371.67 163.34,375 C162.97,378.33 153.48,381.08 157.87,385 C162.26,388.92 189.31,395.17 189.68,398.5 C190.05,401.83 163.67,402.43 160.11,405 C156.55,407.57 166.94,412.42 168.31,413.9" fill="none" stroke="#f4a070" stroke-width="1"/>
<rect x="153.4" y="271.6" width="49.7" height="142.3" fill="none" stroke="#9a9a9a" stroke-width="0.8"/>
<line x1="153.4" y1="413.9" x2="153.4" y2="416.1" stroke="#9a9a9a" stroke-width="0.8"/>
<text x="153.4" y="427.3" font-size="9" text-anchor="middle" fill="#1a1a1a">0</text>
<line x1="178.25" y1="413.9" x2="178.25" y2="416.1" stroke="#9a9a9a" stroke-width="0.8"/>
<text x="178.25" y="427.3" font-size="9" text-anchor="middle" fill="#1a1a1a">0.5</text>
<line x1="203.1" y1="413.9" x2="203.1" y2="416.1" stroke="#9a9a9a" stroke-width="0.8"/>
<text x="203.1" y="427.3" font-size="9" text-anchor="middle" fill="#1a1a1a">1</text>
<path d="M224.91,271.6 C229.05,273.32 251.09,278.5 249.76,281.9 C248.44,285.3 221.1,288.77 216.96,292 C212.82,295.23 225.49,297.6 224.91,301.3 C224.33,305 212.9,310.3 213.48,314.2 C214.06,318.1 225.16,322.17 228.39,324.7 C231.62,327.23 228.89,327.57 232.87,329.4 C236.84,331.23 251.83,333.6 252.25,335.7 C252.66,337.8 240.57,340.12 235.35,342 C230.13,343.88 223.09,344.33 220.94,347 C218.78,349.67 222.59,355 222.43,358 C222.26,361 220.19,362.17 219.94,365 C219.69,367.83 221.68,371.57 220.94,375 C220.19,378.43 211.49,381.37 215.47,385.6 C219.45,389.83 244.42,396.68 244.79,400.4 C245.17,404.12 221.68,405.65 217.71,407.9 C213.73,410.15 220.4,412.9 220.94,413.9 L210.5,413.9 L210.5,271.6 Z" fill="url(#dosg3)" stroke="none" stroke-width="1"/>
<path d="M224.91,271.6 C229.05,273.32 251.09,278.5 249.76,281.9 C248.44,285.3 221.1,288.77 216.96,292 C212.82,295.23 225.49,297.6 224.91,301.3 C224.33,305 212.9,310.3 213.48,314.2 C214.06,318.1 225.16,322.17 228.39,324.7 C231.62,327.23 228.89,327.57 232.87,329.4 C236.84,331.23 251.83,333.6 252.25,335.7 C252.66,337.8 240.57,340.12 235.35,342 C230.13,343.88 223.09,344.33 220.94,347 C218.78,349.67 222.59,355 222.43,358 C222.26,361 220.19,362.17 219.94,365 C219.69,367.83 221.68,371.57 220.94,375 C220.19,378.43 211.49,381.37 215.47,385.6 C219.45,389.83 244.42,396.68 244.79,400.4 C245.17,404.12 221.68,405.65 217.71,407.9 C213.73,410.15 220.4,412.9 220.94,413.9" fill="none" stroke="#d06a22" stroke-width="1.3"/>
<rect x="210.5" y="271.6" width="49.7" height="142.3" fill="none" stroke="#9a9a9a" stroke-width="0.8"/>
<line x1="210.5" y1="413.9" x2="210.5" y2="416.1" stroke="#9a9a9a" stroke-width="0.8"/>
<text x="210.5" y="427.3" font-size="9" text-anchor="middle" fill="#1a1a1a">0</text>
<line x1="235.35" y1="413.9" x2="235.35" y2="416.1" stroke="#9a9a9a" stroke-width="0.8"/>
<text x="235.35" y="427.3" font-size="9" text-anchor="middle" fill="#1a1a1a">0.5</text>
<line x1="260.2" y1="413.9" x2="260.2" y2="416.1" stroke="#9a9a9a" stroke-width="0.8"/>
<text x="260.2" y="427.3" font-size="9" text-anchor="middle" fill="#1a1a1a">1</text>
<path d="M279.83,271.6 C284.8,273.55 310.44,279.72 309.65,283.3 C308.86,286.88 279.87,290.3 275.11,293.1 C270.35,295.9 281.69,296.38 281.07,300.1 C280.45,303.82 270.02,311.1 271.38,315.4 C272.75,319.7 282.98,322.2 289.27,325.9 C295.57,329.6 307.95,334.92 309.15,337.6 C310.36,340.28 301.53,340.43 296.48,342 C291.43,343.57 282.03,343.83 278.84,347 C275.65,350.17 276.97,357.5 277.35,361 C277.72,364.5 281.86,363.7 281.07,368 C280.29,372.3 268.44,381.72 272.62,386.8 C276.81,391.88 305.55,395.18 306.17,398.5 C306.79,401.82 280.54,404.13 276.35,406.7 C272.17,409.27 280.29,412.7 281.07,413.9 L268.4,413.9 L268.4,271.6 Z" fill="url(#dosg4)" stroke="none" stroke-width="1"/>
<path d="M279.83,271.6 C284.8,273.55 310.44,279.72 309.65,283.3 C308.86,286.88 279.87,290.3 275.11,293.1 C270.35,295.9 281.69,296.38 281.07,300.1 C280.45,303.82 270.02,311.1 271.38,315.4 C272.75,319.7 282.98,322.2 289.27,325.9 C295.57,329.6 307.95,334.92 309.15,337.6 C310.36,340.28 301.53,340.43 296.48,342 C291.43,343.57 282.03,343.83 278.84,347 C275.65,350.17 276.97,357.5 277.35,361 C277.72,364.5 281.86,363.7 281.07,368 C280.29,372.3 268.44,381.72 272.62,386.8 C276.81,391.88 305.55,395.18 306.17,398.5 C306.79,401.82 280.54,404.13 276.35,406.7 C272.17,409.27 280.29,412.7 281.07,413.9" fill="none" stroke="#c81e1e" stroke-width="1.4"/>
<rect x="268.4" y="271.6" width="49.7" height="142.3" fill="none" stroke="#9a9a9a" stroke-width="0.8"/>
<line x1="268.4" y1="413.9" x2="268.4" y2="416.1" stroke="#9a9a9a" stroke-width="0.8"/>
<text x="268.4" y="427.3" font-size="9" text-anchor="middle" fill="#1a1a1a">0</text>
<line x1="293.25" y1="413.9" x2="293.25" y2="416.1" stroke="#9a9a9a" stroke-width="0.8"/>
<text x="293.25" y="427.3" font-size="9" text-anchor="middle" fill="#1a1a1a">0.5</text>
<line x1="318.1" y1="413.9" x2="318.1" y2="416.1" stroke="#9a9a9a" stroke-width="0.8"/>
<text x="318.1" y="427.3" font-size="9" text-anchor="middle" fill="#1a1a1a">1</text>
<line x1="34" y1="271.6" x2="36.5" y2="271.6" stroke="#9a9a9a" stroke-width="0.8"/>
<text x="29.1" y="274.4" font-size="9" text-anchor="end" fill="#1a1a1a">0.75</text>
<line x1="34" y1="295.32" x2="36.5" y2="295.32" stroke="#9a9a9a" stroke-width="0.8"/>
<text x="29.1" y="298.12" font-size="9" text-anchor="end" fill="#1a1a1a">0.5</text>
<line x1="34" y1="319.04" x2="36.5" y2="319.04" stroke="#9a9a9a" stroke-width="0.8"/>
<text x="29.1" y="321.84" font-size="9" text-anchor="end" fill="#1a1a1a">0.25</text>
<line x1="34" y1="342.76" x2="36.5" y2="342.76" stroke="#9a9a9a" stroke-width="0.8"/>
<text x="29.1" y="345.56" font-size="9" text-anchor="end" fill="#1a1a1a">0</text>
<line x1="34" y1="366.48" x2="36.5" y2="366.48" stroke="#9a9a9a" stroke-width="0.8"/>
<text x="29.1" y="369.28" font-size="9" text-anchor="end" fill="#1a1a1a">-0.25</text>
<line x1="34" y1="390.2" x2="36.5" y2="390.2" stroke="#9a9a9a" stroke-width="0.8"/>
<text x="29.1" y="393" font-size="9" text-anchor="end" fill="#1a1a1a">-0.5</text>
<line x1="34" y1="413.92" x2="36.5" y2="413.92" stroke="#9a9a9a" stroke-width="0.8"/>
<text x="29.1" y="416.72" font-size="9" text-anchor="end" fill="#1a1a1a">-0.75</text>
<line x1="36.5" y1="342.2" x2="320" y2="342.2" stroke="#111" stroke-width="0.9" stroke-dasharray="3,2"/>
<text x="55.6" y="297.4" font-size="8.5" fill="#1a1a1a">LUMO+1</text>
<text x="59.8" y="326.8" font-size="8.5" fill="#1a1a1a">LUMO</text>
<text x="58.1" y="387.9" font-size="8.5" fill="#1a1a1a">HOMO</text>
<text x="0" y="0" font-size="10.1" text-anchor="middle" fill="#1a1a1a" transform="translate(7.6,341) rotate(-90)"><tspan font-style="italic">E</tspan>-<tspan font-style="italic">E</tspan><tspan font-size="7" dy="1.8">f</tspan><tspan dy="-1.8"> (eV)</tspan></text>
<text x="176.9" y="443.7" font-size="10.2" text-anchor="middle" fill="#1a1a1a">DOS (arb. units)</text>
<text x="342" y="200.6" font-size="13" fill="#000" font-weight="bold">f</text>
<rect x="361.2" y="204.4" width="130.3" height="212.3" fill="none" stroke="#8c8c8c" stroke-width="0.9"/>
<line x1="358.9" y1="416.7" x2="361.2" y2="416.7" stroke="#8c8c8c" stroke-width="0.8"/>
<text x="354.4" y="420" font-size="9.2" text-anchor="end" fill="#1a1a1a">-0.5</text>
<line x1="358.9" y1="393.1" x2="361.2" y2="393.1" stroke="#8c8c8c" stroke-width="0.8"/>
<line x1="358.9" y1="369.5" x2="361.2" y2="369.5" stroke="#8c8c8c" stroke-width="0.8"/>
<text x="354.4" y="372.8" font-size="9.2" text-anchor="end" fill="#1a1a1a">0.5</text>
<line x1="358.9" y1="345.9" x2="361.2" y2="345.9" stroke="#8c8c8c" stroke-width="0.8"/>
<line x1="358.9" y1="322.3" x2="361.2" y2="322.3" stroke="#8c8c8c" stroke-width="0.8"/>
<text x="354.4" y="325.6" font-size="9.2" text-anchor="end" fill="#1a1a1a">1.5</text>
<line x1="358.9" y1="298.7" x2="361.2" y2="298.7" stroke="#8c8c8c" stroke-width="0.8"/>
<line x1="358.9" y1="275.1" x2="361.2" y2="275.1" stroke="#8c8c8c" stroke-width="0.8"/>
<text x="354.4" y="278.4" font-size="9.2" text-anchor="end" fill="#1a1a1a">2.5</text>
<line x1="358.9" y1="251.5" x2="361.2" y2="251.5" stroke="#8c8c8c" stroke-width="0.8"/>
<line x1="358.9" y1="227.9" x2="361.2" y2="227.9" stroke="#8c8c8c" stroke-width="0.8"/>
<text x="354.4" y="231.2" font-size="9.2" text-anchor="end" fill="#1a1a1a">3.5</text>
<line x1="361.2" y1="416.7" x2="361.2" y2="419" stroke="#8c8c8c" stroke-width="0.8"/>
<text x="361.2" y="429" font-size="9.2" text-anchor="middle" fill="#1a1a1a">0</text>
<line x1="413.3" y1="416.7" x2="413.3" y2="419" stroke="#8c8c8c" stroke-width="0.8"/>
<line x1="465.4" y1="416.7" x2="465.4" y2="419" stroke="#8c8c8c" stroke-width="0.8"/>
<text x="465.4" y="429" font-size="9.2" text-anchor="middle" fill="#1a1a1a">100</text>
<text x="0" y="0" font-size="10.8" text-anchor="middle" fill="#1a1a1a" transform="translate(335.9,320.1) rotate(-90)">ln(1/<tspan font-style="italic">V</tspan><tspan font-size="6.5" dy="-3.5">2</tspan><tspan dy="3.5">)</tspan></text>
<text x="426.4" y="442.8" font-size="10.3" text-anchor="middle" fill="#1a1a1a">1/<tspan font-style="italic">V</tspan> (V<tspan font-size="6.5" dy="-3.5">-1</tspan><tspan dy="3.5">)</tspan></text>
<circle cx="365.09" cy="395.36" r="2.9" fill="none" stroke="#7088c8" stroke-width="0.6"/>
<circle cx="364.79" cy="394.56" r="2.9" fill="none" stroke="#d8505e" stroke-width="0.8"/>
<circle cx="365.22" cy="393.69" r="2.9" fill="none" stroke="#7088c8" stroke-width="0.6"/>
<circle cx="364.92" cy="392.89" r="2.9" fill="none" stroke="#d8505e" stroke-width="0.8"/>
<circle cx="365.36" cy="391.95" r="2.9" fill="none" stroke="#7088c8" stroke-width="0.6"/>
<circle cx="365.06" cy="391.15" r="2.9" fill="none" stroke="#d8505e" stroke-width="0.8"/>
<circle cx="365.51" cy="390.14" r="2.9" fill="none" stroke="#7088c8" stroke-width="0.6"/>
<circle cx="365.21" cy="389.34" r="2.9" fill="none" stroke="#d8505e" stroke-width="0.8"/>
<circle cx="365.67" cy="388.27" r="2.9" fill="none" stroke="#7088c8" stroke-width="0.6"/>
<circle cx="365.37" cy="387.47" r="2.9" fill="none" stroke="#d8505e" stroke-width="0.8"/>
<circle cx="365.84" cy="386.32" r="2.9" fill="none" stroke="#7088c8" stroke-width="0.6"/>
<circle cx="365.54" cy="385.52" r="2.9" fill="none" stroke="#d8505e" stroke-width="0.8"/>
<circle cx="366.03" cy="384.28" r="2.9" fill="none" stroke="#7088c8" stroke-width="0.6"/>
<circle cx="365.73" cy="383.48" r="2.9" fill="none" stroke="#d8505e" stroke-width="0.8"/>
<circle cx="366.24" cy="382.16" r="2.9" fill="none" stroke="#7088c8" stroke-width="0.6"/>
<circle cx="365.94" cy="381.36" r="2.9" fill="none" stroke="#d8505e" stroke-width="0.8"/>
<circle cx="366.46" cy="379.93" r="2.9" fill="none" stroke="#7088c8" stroke-width="0.6"/>
<circle cx="366.16" cy="379.13" r="2.9" fill="none" stroke="#d8505e" stroke-width="0.8"/>
<circle cx="366.71" cy="377.6" r="2.9" fill="none" stroke="#7088c8" stroke-width="0.6"/>
<circle cx="366.41" cy="376.8" r="2.9" fill="none" stroke="#d8505e" stroke-width="0.8"/>
<circle cx="366.98" cy="375.15" r="2.9" fill="none" stroke="#7088c8" stroke-width="0.6"/>
<circle cx="366.68" cy="374.35" r="2.9" fill="none" stroke="#d8505e" stroke-width="0.8"/>
<circle cx="367.29" cy="372.56" r="2.9" fill="none" stroke="#7088c8" stroke-width="0.6"/>
<circle cx="366.99" cy="371.76" r="2.9" fill="none" stroke="#d8505e" stroke-width="0.8"/>
<circle cx="367.63" cy="369.83" r="2.9" fill="none" stroke="#7088c8" stroke-width="0.6"/>
<circle cx="367.33" cy="369.03" r="2.9" fill="none" stroke="#d8505e" stroke-width="0.8"/>
<circle cx="368.01" cy="366.93" r="2.9" fill="none" stroke="#7088c8" stroke-width="0.6"/>
<circle cx="367.71" cy="366.13" r="2.9" fill="none" stroke="#d8505e" stroke-width="0.8"/>
<circle cx="368.45" cy="363.84" r="2.9" fill="none" stroke="#7088c8" stroke-width="0.6"/>
<circle cx="368.15" cy="363.04" r="2.9" fill="none" stroke="#d8505e" stroke-width="0.8"/>
<circle cx="368.94" cy="360.55" r="2.9" fill="none" stroke="#7088c8" stroke-width="0.6"/>
<circle cx="368.64" cy="359.75" r="2.9" fill="none" stroke="#d8505e" stroke-width="0.8"/>
<circle cx="369.52" cy="357" r="2.9" fill="none" stroke="#7088c8" stroke-width="0.6"/>
<circle cx="369.22" cy="356.2" r="2.9" fill="none" stroke="#d8505e" stroke-width="0.8"/>
<circle cx="370.18" cy="353.17" r="2.9" fill="none" stroke="#7088c8" stroke-width="0.6"/>
<circle cx="369.88" cy="352.37" r="2.9" fill="none" stroke="#d8505e" stroke-width="0.8"/>
<circle cx="370.97" cy="349.01" r="2.9" fill="none" stroke="#7088c8" stroke-width="0.6"/>
<circle cx="370.67" cy="348.21" r="2.9" fill="none" stroke="#d8505e" stroke-width="0.8"/>
<circle cx="371.92" cy="344.46" r="2.9" fill="none" stroke="#7088c8" stroke-width="0.6"/>
<circle cx="371.62" cy="343.66" r="2.9" fill="none" stroke="#d8505e" stroke-width="0.8"/>
<circle cx="373.08" cy="339.42" r="2.9" fill="none" stroke="#7088c8" stroke-width="0.6"/>
<circle cx="372.78" cy="338.62" r="2.9" fill="none" stroke="#d8505e" stroke-width="0.8"/>
<circle cx="374.52" cy="333.79" r="2.9" fill="none" stroke="#7088c8" stroke-width="0.6"/>
<circle cx="374.22" cy="332.99" r="2.9" fill="none" stroke="#d8505e" stroke-width="0.8"/>
<circle cx="376.39" cy="327.4" r="2.9" fill="none" stroke="#7088c8" stroke-width="0.6"/>
<circle cx="376.09" cy="326.6" r="2.9" fill="none" stroke="#d8505e" stroke-width="0.8"/>
<circle cx="378.87" cy="320.03" r="2.9" fill="none" stroke="#7088c8" stroke-width="0.6"/>
<circle cx="378.57" cy="319.23" r="2.9" fill="none" stroke="#d8505e" stroke-width="0.8"/>
<circle cx="382.34" cy="311.32" r="2.9" fill="none" stroke="#7088c8" stroke-width="0.6"/>
<circle cx="382.04" cy="310.52" r="2.9" fill="none" stroke="#d8505e" stroke-width="0.8"/>
<circle cx="387.55" cy="300.65" r="2.9" fill="none" stroke="#7088c8" stroke-width="0.6"/>
<circle cx="387.25" cy="299.85" r="2.9" fill="none" stroke="#d8505e" stroke-width="0.8"/>
<circle cx="396.23" cy="286.89" r="2.9" fill="none" stroke="#7088c8" stroke-width="0.6"/>
<circle cx="395.93" cy="286.09" r="2.9" fill="none" stroke="#d8505e" stroke-width="0.8"/>
<circle cx="413.6" cy="267.5" r="2.9" fill="none" stroke="#7088c8" stroke-width="0.6"/>
<circle cx="413.3" cy="266.7" r="2.9" fill="none" stroke="#d8505e" stroke-width="0.8"/>
<circle cx="465.7" cy="234.36" r="2.9" fill="none" stroke="#7088c8" stroke-width="0.6"/>
<circle cx="465.4" cy="233.56" r="2.9" fill="none" stroke="#d8505e" stroke-width="0.8"/>
<path d="M363.51,416.62 L363.57,415.56 L363.62,414.51 L363.67,413.49 L363.72,412.5 L363.77,411.52 L363.83,410.56 L363.88,409.62 L363.93,408.7 L363.98,407.8 L364.03,406.91 L364.09,406.04 L364.14,405.18 L364.19,404.34 L364.24,403.52 L364.29,402.7 L364.35,401.91 L364.4,401.12 L364.45,400.35 L364.5,399.59 L364.56,398.84 L364.61,398.1 L364.66,397.38 L364.71,396.66 L364.76,395.96 L364.82,395.26 L364.87,394.58 L364.92,393.91 L364.97,393.24 L365.02,392.59 L365.08,391.94 L365.13,391.3 L365.18,390.67 L365.23,390.05 L365.28,389.43 L365.34,388.83 L365.39,388.23 L365.44,387.64 L365.49,387.05 L365.55,386.48 L365.6,385.91 L365.65,385.35 L365.7,384.79 L365.75,384.24 L365.81,383.69 L365.86,383.16 L365.91,382.62 L365.96,382.1 L366.01,381.58 L366.07,381.06 L366.12,380.55 L366.17,380.05 L366.22,379.55 L366.27,379.06 L366.33,378.57 L366.38,378.09 L366.43,377.61 L366.48,377.13 L366.54,376.67 L366.62,375.92 L366.93,373.24 L367.24,370.7 L367.56,368.29 L367.87,366 L368.18,363.81 L368.49,361.71 L368.81,359.7 L369.12,357.78 L369.43,355.93 L369.74,354.15 L370.06,352.43 L370.37,350.77 L370.68,349.17 L370.99,347.62 L371.31,346.11 L371.62,344.66 L371.93,343.24 L372.25,341.87 L372.56,340.54 L372.87,339.24 L373.18,337.97 L373.5,336.74 L373.81,335.54 L374.12,334.37 L374.43,333.23 L374.75,332.11 L375.06,331.02 L375.37,329.96 L375.68,328.91 L376,327.89 L376.31,326.89 L376.62,325.91 L376.93,324.95 L377.25,324.01 L377.56,323.09 L377.87,322.18 L378.18,321.3 L378.5,320.42 L378.81,319.57 L379.12,318.73 L379.44,317.9 L379.75,317.09 L380.06,316.29 L380.37,315.5 L380.69,314.73 L381,313.97 L381.31,313.22 L381.62,312.48 L381.94,311.75 L382.04,311.52 L383.08,309.18 L384.12,306.96 L385.17,304.83 L386.21,302.8 L387.25,300.85 L388.29,298.97 L389.33,297.17 L390.38,295.43 L391.42,293.75 L392.46,292.13 L393.5,290.56 L394.54,289.04 L395.59,287.57 L396.63,286.14 L397.67,284.76 L398.71,283.41 L399.75,282.1 L400.8,280.83 L401.84,279.58 L402.88,278.37 L403.92,277.19 L404.96,276.04 L406.01,274.92 L407.05,273.82 L408.09,272.74 L409.13,271.69 L410.17,270.66 L411.22,269.66 L412.26,268.67 L413.3,267.7 L414.34,266.76 L415.38,265.83 L416.43,264.92 L417.47,264.02 L418.51,263.15 L419.55,262.29 L420.59,261.44 L421.64,260.61 L422.68,259.79 L423.72,258.99 L424.76,258.2 L425.8,257.42 L426.85,256.65 L427.89,255.9 L428.93,255.16 L429.97,254.43 L431.01,253.71 L432.06,253 L433.1,252.3 L434.14,251.62 L435.18,250.94 L436.22,250.27 L437.27,249.61 L438.31,248.96 L439.35,248.32 L440.39,247.68 L441.43,247.06 L442.48,246.44 L443.52,245.83 L444.56,245.23 L445.6,244.64 L446.64,244.05 L447.69,243.47 L448.73,242.9 L449.77,242.33 L450.81,241.77 L451.85,241.22 L452.9,240.67 L453.94,240.13 L454.98,239.6 L456.02,239.07 L457.06,238.55 L458.11,238.03 L459.15,237.52 L460.19,237.01 L461.23,236.51 L462.27,236.02 L463.32,235.53 L464.36,235.04 L465.4,234.56 L466.44,234.09 L467.48,233.62 L468.53,233.15 L469.57,232.69 L470.61,232.23 L471.65,231.78 L472.69,231.33 L473.74,230.88 L474.78,230.44 L475.82,230.01 L476.86,229.57 L477.9,229.14 L478.95,228.72 L479.99,228.3 L481.03,227.88 L482.07,227.47 L483.11,227.06 L484.16,226.65 L485.2,226.24 L486.24,225.84 L487.28,225.45 L488.32,225.05 L489.37,224.66 L490.41,224.28" fill="none" stroke="#1f3a80" stroke-width="1.6"/>
<path d="M363.51,415.62 L363.57,414.56 L363.62,413.51 L363.67,412.49 L363.72,411.5 L363.77,410.52 L363.83,409.56 L363.88,408.62 L363.93,407.7 L363.98,406.8 L364.03,405.91 L364.09,405.04 L364.14,404.18 L364.19,403.34 L364.24,402.52 L364.29,401.7 L364.35,400.91 L364.4,400.12 L364.45,399.35 L364.5,398.59 L364.56,397.84 L364.61,397.1 L364.66,396.38 L364.71,395.66 L364.76,394.96 L364.82,394.26 L364.87,393.58 L364.92,392.91 L364.97,392.24 L365.02,391.59 L365.08,390.94 L365.13,390.3 L365.18,389.67 L365.23,389.05 L365.28,388.43 L365.34,387.83 L365.39,387.23 L365.44,386.64 L365.49,386.05 L365.55,385.48 L365.6,384.91 L365.65,384.35 L365.7,383.79 L365.75,383.24 L365.81,382.69 L365.86,382.16 L365.91,381.62 L365.96,381.1 L366.01,380.58 L366.07,380.06 L366.12,379.55 L366.17,379.05 L366.22,378.55 L366.27,378.06 L366.33,377.57 L366.38,377.09 L366.43,376.61 L366.48,376.13 L366.54,375.67 L366.62,374.92 L366.93,372.24 L367.24,369.7 L367.56,367.29 L367.87,365 L368.18,362.81 L368.49,360.71 L368.81,358.7 L369.12,356.78 L369.43,354.93 L369.74,353.15 L370.06,351.43 L370.37,349.77 L370.68,348.17 L370.99,346.62 L371.31,345.11 L371.62,343.66 L371.93,342.24 L372.25,340.87 L372.56,339.54 L372.87,338.24 L373.18,336.97 L373.5,335.74 L373.81,334.54 L374.12,333.37 L374.43,332.23 L374.75,331.11 L375.06,330.02 L375.37,328.96 L375.68,327.91 L376,326.89 L376.31,325.89 L376.62,324.91 L376.93,323.95 L377.25,323.01 L377.56,322.09 L377.87,321.18 L378.18,320.3 L378.5,319.42 L378.81,318.57 L379.12,317.73 L379.44,316.9 L379.75,316.09 L380.06,315.29 L380.37,314.5 L380.69,313.73 L381,312.97 L381.31,312.22 L381.62,311.48 L381.94,310.75 L382.04,310.52 L383.08,308.18 L384.12,305.96 L385.17,303.83 L386.21,301.8 L387.25,299.85 L388.29,297.97 L389.33,296.17 L390.38,294.43 L391.42,292.75 L392.46,291.13 L393.5,289.56 L394.54,288.04 L395.59,286.57 L396.63,285.14 L397.67,283.76 L398.71,282.41 L399.75,281.1 L400.8,279.83 L401.84,278.58 L402.88,277.37 L403.92,276.19 L404.96,275.04 L406.01,273.92 L407.05,272.82 L408.09,271.74 L409.13,270.69 L410.17,269.66 L411.22,268.66 L412.26,267.67 L413.3,266.7 L414.34,265.76 L415.38,264.83 L416.43,263.92 L417.47,263.02 L418.51,262.15 L419.55,261.29 L420.59,260.44 L421.64,259.61 L422.68,258.79 L423.72,257.99 L424.76,257.2 L425.8,256.42 L426.85,255.65 L427.89,254.9 L428.93,254.16 L429.97,253.43 L431.01,252.71 L432.06,252 L433.1,251.3 L434.14,250.62 L435.18,249.94 L436.22,249.27 L437.27,248.61 L438.31,247.96 L439.35,247.32 L440.39,246.68 L441.43,246.06 L442.48,245.44 L443.52,244.83 L444.56,244.23 L445.6,243.64 L446.64,243.05 L447.69,242.47 L448.73,241.9 L449.77,241.33 L450.81,240.77 L451.85,240.22 L452.9,239.67 L453.94,239.13 L454.98,238.6 L456.02,238.07 L457.06,237.55 L458.11,237.03 L459.15,236.52 L460.19,236.01 L461.23,235.51 L462.27,235.02 L463.32,234.53 L464.36,234.04 L465.4,233.56 L466.44,233.09 L467.48,232.62 L468.53,232.15 L469.57,231.69 L470.61,231.23 L471.65,230.78 L472.69,230.33 L473.74,229.88 L474.78,229.44 L475.82,229.01 L476.86,228.57 L477.9,228.14 L478.95,227.72 L479.99,227.3 L481.03,226.88 L482.07,226.47 L483.11,226.06 L484.16,225.65 L485.2,225.24 L486.24,224.84 L487.28,224.45 L488.32,224.05 L489.37,223.66 L490.41,223.28" fill="none" stroke="#c40f1a" stroke-width="1.5"/>
<rect x="385.1" y="284.2" width="13.6" height="14.7" fill="none" stroke="#333" stroke-width="0.6" stroke-dasharray="1.5,1"/>
<line x1="398.7" y1="284.2" x2="480.6" y2="333" stroke="#c8c8c8" stroke-width="0.6"/>
<line x1="383.6" y1="300" x2="383.6" y2="392" stroke="#b8b8b8" stroke-width="0.6" stroke-dasharray="3,1,1,1"/>
<rect x="403.2" y="333.5" width="77.4" height="66.5" fill="#fff" stroke="#9a9a9a" stroke-width="0.8"/>
<line x1="401.2" y1="333.5" x2="403.2" y2="333.5" stroke="#8c8c8c" stroke-width="0.7"/>
<line x1="401.2" y1="366.75" x2="403.2" y2="366.75" stroke="#8c8c8c" stroke-width="0.7"/>
<line x1="401.2" y1="400" x2="403.2" y2="400" stroke="#8c8c8c" stroke-width="0.7"/>
<line x1="441.9" y1="400" x2="441.9" y2="402" stroke="#8c8c8c" stroke-width="0.7"/>
<text x="395.9" y="335.5" font-size="7.8" text-anchor="end" fill="#1a1a1a">2</text>
<text x="395.9" y="402.9" font-size="7.8" text-anchor="end" fill="#1a1a1a">1.75</text>
<text x="403.2" y="411.8" font-size="7.8" text-anchor="middle" fill="#1a1a1a">20</text>
<text x="480.2" y="411.8" font-size="7.8" text-anchor="middle" fill="#1a1a1a">25</text>
<line x1="402.7" y1="399.2" x2="480.2" y2="339.6" stroke="#1f3a80" stroke-width="1.6"/>
<line x1="402.7" y1="393.4" x2="480.2" y2="334.1" stroke="#c40f1a" stroke-width="1.6"/>
<circle cx="402.7" cy="393.4" r="2.3" fill="#fff" stroke="#e05050" stroke-width="0.7"/>
<circle cx="480.2" cy="334.1" r="2.3" fill="#fff" stroke="#e05050" stroke-width="0.7"/>
<circle cx="402.7" cy="399.2" r="2.3" fill="#fff" stroke="#3050a0" stroke-width="0.7"/>
<circle cx="480.2" cy="339.6" r="2.3" fill="#fff" stroke="#3050a0" stroke-width="0.7"/>
<text x="403.6" y="346.8" font-size="10" fill="#c8141e">1000ppm</text>
<text x="418.8" y="359.5" font-size="10.2" fill="#c8141e">H<tspan font-size="7" dy="2">2</tspan></text>
<line x1="421.5" y1="378" x2="421.5" y2="364.5" stroke="#111" stroke-width="0.7"/>
<path d="M421.5,362.4 l-1.3,3 l2.6,0 Z" fill="#111" stroke="none" stroke-width="1"/>
<line x1="418" y1="387" x2="437" y2="387" stroke="#111" stroke-width="0.7"/>
<path d="M439.2,387 l-3,-1.3 l0,2.6 Z" fill="#111" stroke="none" stroke-width="1"/>
<text x="443.2" y="391.6" font-size="10.2" fill="#2a4a8c">N<tspan font-size="7" dy="2">2</tspan></text>
<text x="507.6" y="201" font-size="13" fill="#000" font-weight="bold">g</text>
<rect x="533.5" y="269.2" width="31.8" height="21.5" fill="#bcd3ee" stroke="none" stroke-width="1"/>
<rect x="533.5" y="290.7" width="31.8" height="102" fill="url(#pdg2)" stroke="none" stroke-width="1"/>
<rect x="651.8" y="304.6" width="32.4" height="88" fill="url(#aug2)" stroke="none" stroke-width="1"/>
<path d="M565.3,220.5 L578.3,226.3 L578.3,393 L565.3,393 Z" fill="url(#barg)" stroke="none" stroke-width="1"/>
<path d="M639.2,238.3 L652.2,231.2 L652.2,393 L639.2,393 Z" fill="url(#barg)" stroke="none" stroke-width="1"/>
<path d="M534.4,220.5 L565.3,220.5 L578.5,226.3 L639.1,238.3 L652.2,231.2 L685,231.2" fill="none" stroke="#000" stroke-width="1.4"/>
<text x="513.6" y="223.5" font-size="10.5" fill="#1a1a1a" font-style="italic">E<tspan font-size="7.5" font-style="normal" dy="2">vac</tspan></text>
<text x="513.6" y="264" font-size="10.5" fill="#1a1a1a" font-style="italic">E<tspan font-size="7.5" font-style="normal" dy="2">f</tspan><tspan dy="-2" font-style="normal">+</tspan>V<tspan font-size="7.5" font-style="normal" dy="2">bias</tspan></text>
<text x="518.1" y="293.7" font-size="10.5" fill="#1a1a1a" font-style="italic">E<tspan font-size="7.5" font-style="normal" dy="2">f</tspan></text>
<line x1="537.8" y1="271" x2="537.8" y2="289" stroke="#111" stroke-width="0.7"/>
<path d="M537.8,269.2 l-1.3,2.8 l2.6,0 Z" fill="#111" stroke="none" stroke-width="1"/>
<path d="M537.8,290.7 l-1.3,-2.8 l2.6,0 Z" fill="#111" stroke="none" stroke-width="1"/>
<path d="M636.8,272.2 C636.55,272.47 636.43,273.23 635.3,273.8 C634.17,274.37 632.15,274.72 630,275.6 C627.85,276.48 625.4,277.95 622.4,279.1 C619.4,280.25 615.2,281.43 612,282.5 C608.8,283.57 606.55,284.33 603.2,285.5 C599.85,286.67 595.1,287.92 591.9,289.5 C588.7,291.08 586.27,292.72 584,295 C581.73,297.28 579.25,301.83 578.3,303.2 L578.3,271 L636.8,271 Z" fill="url(#lumf)" stroke="none" stroke-width="1"/>
<path d="M578.3,237.5 C579.08,238.75 581.05,242.5 583,245 C584.95,247.5 587.17,250.33 590,252.5 C592.83,254.67 596.33,256.25 600,258 C603.67,259.75 608,261.5 612,263 C616,264.5 620.83,265.95 624,267 C627.17,268.05 629.08,268.67 631,269.3 C632.92,269.93 634.53,270.32 635.5,270.8 C636.47,271.28 636.83,271.7 636.8,272.2 C636.77,272.7 636.43,273.23 635.3,273.8 C634.17,274.37 632.15,274.72 630,275.6 C627.85,276.48 625.4,277.95 622.4,279.1 C619.4,280.25 615.2,281.43 612,282.5 C608.8,283.57 606.55,284.33 603.2,285.5 C599.85,286.67 595.1,287.92 591.9,289.5 C588.7,291.08 586.27,292.72 584,295 C581.73,297.28 579.25,301.83 578.3,303.2" fill="none" stroke="#d83038" stroke-width="0.6"/>
<path d="M578.3,308 C584,314 598,318.5 636.4,321.6 C598,323.5 584,328 578.3,335.2 Z" fill="#c00000" stroke="none" stroke-width="1"/>
<text x="593.6" y="250.7" font-size="10.4" fill="#1a1a1a">LUMO</text>
<text x="593" y="341.3" font-size="10.4" fill="#1a1a1a">HOMO</text>
<text x="608.2" y="375.1" font-size="10.3" text-anchor="middle" fill="#c8141e">C10</text>
<text x="549.5" y="361.7" font-size="10" text-anchor="middle" fill="#1a1a1a">Pd</text>
<text x="668" y="361.7" font-size="10" text-anchor="middle" fill="#1a1a1a">Au</text>
<text x="0" y="0" font-size="10" fill="#1a1a1a" transform="translate(575.3,392) rotate(-90)">Tunneling barrier</text>
<text x="0" y="0" font-size="10" fill="#1a1a1a" transform="translate(649.2,392) rotate(-90)">Tunneling barrier</text>
<path d="M549.8,275.3 C550.67,275.35 553.07,274.97 555,275.6 C556.93,276.23 559.67,277.18 561.4,279.1 C563.13,281.02 563.92,283.62 565.4,287.1 C566.88,290.58 568.55,299.18 570.3,300 C572.05,300.82 574.17,294.42 575.9,292 C577.63,289.58 579.23,286.9 580.7,285.5 C582.17,284.1 583.5,283.47 584.7,283.6 C585.9,283.73 586.83,285.32 587.9,286.3 C588.97,287.28 589.9,288.77 591.1,289.5 C592.3,290.23 593.62,290.7 595.1,290.7 C596.58,290.7 598.38,290.1 600,289.5 C601.62,288.9 603.47,287.1 604.8,287.1 C606.13,287.1 606.93,288.17 608,289.5 C609.07,290.83 609.87,294.3 611.2,295.1 C612.53,295.9 614.4,295.23 616,294.3 C617.6,293.37 619.47,290.3 620.8,289.5 C622.13,288.7 622.78,288.42 624,289.5 C625.22,290.58 626.88,294.12 628.1,296 C629.32,297.88 630.1,300.53 631.3,300.8 C632.5,301.07 633.83,299.35 635.3,297.6 C636.77,295.85 638.5,292.58 640.1,290.3 C641.7,288.02 643.57,285.23 644.9,283.9 C646.23,282.57 647.15,282.03 648.1,282.3 C649.05,282.57 649.78,283.08 650.6,285.5 C651.42,287.92 652.07,293.72 653,296.8 C653.93,299.88 654.87,302.13 656.2,304 C657.53,305.87 659.2,307 661,308 C662.8,309 666,309.67 667,310" fill="none" stroke="#ee7080" stroke-width="5.5" stroke-opacity="0.6" filter="url(#blur1)"/>
<path d="M549.8,275.3 C550.67,275.35 553.07,274.97 555,275.6 C556.93,276.23 559.67,277.18 561.4,279.1 C563.13,281.02 563.92,283.62 565.4,287.1 C566.88,290.58 568.55,299.18 570.3,300 C572.05,300.82 574.17,294.42 575.9,292 C577.63,289.58 579.23,286.9 580.7,285.5 C582.17,284.1 583.5,283.47 584.7,283.6 C585.9,283.73 586.83,285.32 587.9,286.3 C588.97,287.28 589.9,288.77 591.1,289.5 C592.3,290.23 593.62,290.7 595.1,290.7 C596.58,290.7 598.38,290.1 600,289.5 C601.62,288.9 603.47,287.1 604.8,287.1 C606.13,287.1 606.93,288.17 608,289.5 C609.07,290.83 609.87,294.3 611.2,295.1 C612.53,295.9 614.4,295.23 616,294.3 C617.6,293.37 619.47,290.3 620.8,289.5 C622.13,288.7 622.78,288.42 624,289.5 C625.22,290.58 626.88,294.12 628.1,296 C629.32,297.88 630.1,300.53 631.3,300.8 C632.5,301.07 633.83,299.35 635.3,297.6 C636.77,295.85 638.5,292.58 640.1,290.3 C641.7,288.02 643.57,285.23 644.9,283.9 C646.23,282.57 647.15,282.03 648.1,282.3 C649.05,282.57 649.78,283.08 650.6,285.5 C651.42,287.92 652.07,293.72 653,296.8 C653.93,299.88 654.87,302.13 656.2,304 C657.53,305.87 659.2,307 661,308 C662.8,309 666,309.67 667,310" fill="none" stroke="#e05060" stroke-width="2.6" stroke-opacity="0.6"/>
<path d="M549.8,275.3 C550.67,275.35 553.07,274.97 555,275.6 C556.93,276.23 559.67,277.18 561.4,279.1 C563.13,281.02 563.92,283.62 565.4,287.1 C566.88,290.58 568.55,299.18 570.3,300 C572.05,300.82 574.17,294.42 575.9,292 C577.63,289.58 579.23,286.9 580.7,285.5 C582.17,284.1 583.5,283.47 584.7,283.6 C585.9,283.73 586.83,285.32 587.9,286.3 C588.97,287.28 589.9,288.77 591.1,289.5 C592.3,290.23 593.62,290.7 595.1,290.7 C596.58,290.7 598.38,290.1 600,289.5 C601.62,288.9 603.47,287.1 604.8,287.1 C606.13,287.1 606.93,288.17 608,289.5 C609.07,290.83 609.87,294.3 611.2,295.1 C612.53,295.9 614.4,295.23 616,294.3 C617.6,293.37 619.47,290.3 620.8,289.5 C622.13,288.7 622.78,288.42 624,289.5 C625.22,290.58 626.88,294.12 628.1,296 C629.32,297.88 630.1,300.53 631.3,300.8 C632.5,301.07 633.83,299.35 635.3,297.6 C636.77,295.85 638.5,292.58 640.1,290.3 C641.7,288.02 643.57,285.23 644.9,283.9 C646.23,282.57 647.15,282.03 648.1,282.3 C649.05,282.57 649.78,283.08 650.6,285.5 C651.42,287.92 652.07,293.72 653,296.8 C653.93,299.88 654.87,302.13 656.2,304 C657.53,305.87 659.2,307 661,308 C662.8,309 666,309.67 667,310" fill="none" stroke="#ffffff" stroke-width="1.1"/>
<path d="M670,310.6 l-3.2,-1.8 l0.3,3.4 Z" fill="#fff" stroke="none" stroke-width="1"/>
<circle cx="545.3" cy="279.8" r="8.5" fill="url(#eglow)" stroke="none" stroke-width="1"/>
<circle cx="545.3" cy="279.8" r="3.5" fill="#f28690" stroke="#fff" stroke-width="0.5" stroke-dasharray="1.2,0.8"/>
<circle cx="672.3" cy="320.1" r="8.5" fill="url(#eglow)" stroke="none" stroke-width="1"/>
<circle cx="672.3" cy="320.1" r="3.5" fill="#f28690" stroke="#fff" stroke-width="0.5" stroke-dasharray="1.2,0.8"/>
<text x="608.6" y="416.2" font-size="12.1" text-anchor="middle" fill="#1a1a1a">Off-resonant</text>
<text x="608.7" y="430.7" font-size="12.2" text-anchor="middle" fill="#1a1a1a">Tunneling</text>
<text x="2.5" y="465" font-size="13" fill="#000" font-weight="bold">h</text>
<rect x="29.7" y="606.6" width="172" height="26.3" fill="#c4c4c4" stroke="none" stroke-width="1"/>
<circle cx="47.9" cy="512.3" r="7" fill="url(#pdball)" stroke="none" stroke-width="1"/>
<circle cx="66.86" cy="512.3" r="7" fill="url(#pdball)" stroke="none" stroke-width="1"/>
<circle cx="85.82" cy="512.3" r="7" fill="url(#pdball)" stroke="none" stroke-width="1"/>
<circle cx="104.78" cy="512.3" r="7" fill="url(#pdball)" stroke="none" stroke-width="1"/>
<circle cx="123.74" cy="512.3" r="7" fill="url(#pdball)" stroke="none" stroke-width="1"/>
<circle cx="142.7" cy="512.3" r="7" fill="url(#pdball)" stroke="none" stroke-width="1"/>
<circle cx="161.66" cy="512.3" r="7" fill="url(#pdball)" stroke="none" stroke-width="1"/>
<circle cx="180.62" cy="512.3" r="7" fill="url(#pdball)" stroke="none" stroke-width="1"/>
<circle cx="59" cy="531" r="7" fill="url(#pdball)" stroke="none" stroke-width="1"/>
<circle cx="77.98" cy="531" r="7" fill="url(#pdball)" stroke="none" stroke-width="1"/>
<circle cx="96.96" cy="531" r="7" fill="url(#pdball)" stroke="none" stroke-width="1"/>
<circle cx="115.94" cy="531" r="7" fill="url(#pdball)" stroke="none" stroke-width="1"/>
<circle cx="134.92" cy="531" r="7" fill="url(#pdball)" stroke="none" stroke-width="1"/>
<circle cx="153.9" cy="531" r="7" fill="url(#pdball)" stroke="none" stroke-width="1"/>
<circle cx="172.88" cy="531" r="7" fill="url(#pdball)" stroke="none" stroke-width="1"/>
<circle cx="47.9" cy="547.6" r="7" fill="url(#pdball)" stroke="none" stroke-width="1"/>
<circle cx="66.86" cy="547.6" r="7" fill="url(#pdball)" stroke="none" stroke-width="1"/>
<circle cx="85.82" cy="547.6" r="7" fill="url(#pdball)" stroke="none" stroke-width="1"/>
<circle cx="104.78" cy="547.6" r="7" fill="url(#pdball)" stroke="none" stroke-width="1"/>
<circle cx="123.74" cy="547.6" r="7" fill="url(#pdball)" stroke="none" stroke-width="1"/>
<circle cx="142.7" cy="547.6" r="7" fill="url(#pdball)" stroke="none" stroke-width="1"/>
<circle cx="161.66" cy="547.6" r="7" fill="url(#pdball)" stroke="none" stroke-width="1"/>
<circle cx="180.62" cy="547.6" r="7" fill="url(#pdball)" stroke="none" stroke-width="1"/>
<circle cx="59.4" cy="563.6" r="7" fill="url(#pdball)" stroke="none" stroke-width="1"/>
<circle cx="77.07" cy="563.6" r="7" fill="url(#pdball)" stroke="none" stroke-width="1"/>
<circle cx="94.74" cy="563.6" r="7" fill="url(#pdball)" stroke="none" stroke-width="1"/>
<circle cx="112.41" cy="563.6" r="7" fill="url(#pdball)" stroke="none" stroke-width="1"/>
<circle cx="130.08" cy="563.6" r="7" fill="url(#pdball)" stroke="none" stroke-width="1"/>
<circle cx="147.75" cy="563.6" r="7" fill="url(#pdball)" stroke="none" stroke-width="1"/>
<circle cx="165.42" cy="563.6" r="7" fill="url(#pdball)" stroke="none" stroke-width="1"/>
<circle cx="183.09" cy="563.6" r="7" fill="url(#pdball)" stroke="none" stroke-width="1"/>
<circle cx="50.5" cy="575.5" r="7" fill="url(#pdball)" stroke="none" stroke-width="1"/>
<circle cx="68.14" cy="575.5" r="7" fill="url(#pdball)" stroke="none" stroke-width="1"/>
<circle cx="85.78" cy="575.5" r="7" fill="url(#pdball)" stroke="none" stroke-width="1"/>
<circle cx="103.42" cy="575.5" r="7" fill="url(#pdball)" stroke="none" stroke-width="1"/>
<circle cx="121.06" cy="575.5" r="7" fill="url(#pdball)" stroke="none" stroke-width="1"/>
<circle cx="138.7" cy="575.5" r="7" fill="url(#pdball)" stroke="none" stroke-width="1"/>
<circle cx="156.34" cy="575.5" r="7" fill="url(#pdball)" stroke="none" stroke-width="1"/>
<circle cx="173.98" cy="575.5" r="7" fill="url(#pdball)" stroke="none" stroke-width="1"/>
<circle cx="59.4" cy="587.2" r="7" fill="url(#pdball)" stroke="none" stroke-width="1"/>
<circle cx="77.07" cy="587.2" r="7" fill="url(#pdball)" stroke="none" stroke-width="1"/>
<circle cx="94.74" cy="587.2" r="7" fill="url(#pdball)" stroke="none" stroke-width="1"/>
<circle cx="112.41" cy="587.2" r="7" fill="url(#pdball)" stroke="none" stroke-width="1"/>
<circle cx="130.08" cy="587.2" r="7" fill="url(#pdball)" stroke="none" stroke-width="1"/>
<circle cx="147.75" cy="587.2" r="7" fill="url(#pdball)" stroke="none" stroke-width="1"/>
<circle cx="165.42" cy="587.2" r="7" fill="url(#pdball)" stroke="none" stroke-width="1"/>
<circle cx="183.09" cy="587.2" r="7" fill="url(#pdball)" stroke="none" stroke-width="1"/>
<circle cx="50.5" cy="598.8" r="7" fill="url(#pdball)" stroke="none" stroke-width="1"/>
<circle cx="68.14" cy="598.8" r="7" fill="url(#pdball)" stroke="none" stroke-width="1"/>
<circle cx="85.78" cy="598.8" r="7" fill="url(#pdball)" stroke="none" stroke-width="1"/>
<circle cx="103.42" cy="598.8" r="7" fill="url(#pdball)" stroke="none" stroke-width="1"/>
<circle cx="121.06" cy="598.8" r="7" fill="url(#pdball)" stroke="none" stroke-width="1"/>
<circle cx="138.7" cy="598.8" r="7" fill="url(#pdball)" stroke="none" stroke-width="1"/>
<circle cx="156.34" cy="598.8" r="7" fill="url(#pdball)" stroke="none" stroke-width="1"/>
<circle cx="173.98" cy="598.8" r="7" fill="url(#pdball)" stroke="none" stroke-width="1"/>
<circle cx="57.8" cy="519.8" r="2.3" fill="url(#hb)" stroke="#8eb0e2" stroke-width="0.5"/>
<circle cx="76.7" cy="519.8" r="2.3" fill="url(#hb)" stroke="#8eb0e2" stroke-width="0.5"/>
<circle cx="95.6" cy="519.8" r="2.3" fill="url(#hb)" stroke="#8eb0e2" stroke-width="0.5"/>
<circle cx="114.5" cy="519.8" r="2.3" fill="url(#hb)" stroke="#8eb0e2" stroke-width="0.5"/>
<circle cx="133.4" cy="519.8" r="2.3" fill="url(#hb)" stroke="#8eb0e2" stroke-width="0.5"/>
<circle cx="152.3" cy="519.8" r="2.3" fill="url(#hb)" stroke="#8eb0e2" stroke-width="0.5"/>
<circle cx="171.2" cy="519.8" r="2.3" fill="url(#hb)" stroke="#8eb0e2" stroke-width="0.5"/>
<circle cx="49" cy="536.7" r="2.3" fill="url(#hb)" stroke="#8eb0e2" stroke-width="0.5"/>
<circle cx="68" cy="536.7" r="2.3" fill="url(#hb)" stroke="#8eb0e2" stroke-width="0.5"/>
<circle cx="87" cy="536.7" r="2.3" fill="url(#hb)" stroke="#8eb0e2" stroke-width="0.5"/>
<circle cx="106" cy="536.7" r="2.3" fill="url(#hb)" stroke="#8eb0e2" stroke-width="0.5"/>
<circle cx="125" cy="536.7" r="2.3" fill="url(#hb)" stroke="#8eb0e2" stroke-width="0.5"/>
<circle cx="163" cy="536.7" r="2.3" fill="url(#hb)" stroke="#8eb0e2" stroke-width="0.5"/>
<circle cx="182" cy="536.7" r="2.3" fill="url(#hb)" stroke="#8eb0e2" stroke-width="0.5"/>
<circle cx="152.3" cy="552.8" r="2.3" fill="url(#hb)" stroke="#8eb0e2" stroke-width="0.5"/>
<circle cx="171.3" cy="552.8" r="2.3" fill="url(#hb)" stroke="#8eb0e2" stroke-width="0.5"/>
<circle cx="46.5" cy="503.3" r="2.3" fill="url(#hb)" stroke="#8eb0e2" stroke-width="0.5"/>
<circle cx="51.5" cy="503.3" r="2.3" fill="url(#hb)" stroke="#8eb0e2" stroke-width="0.5"/>
<circle cx="83.9" cy="503.3" r="2.3" fill="url(#hb)" stroke="#8eb0e2" stroke-width="0.5"/>
<circle cx="88.9" cy="503.3" r="2.3" fill="url(#hb)" stroke="#8eb0e2" stroke-width="0.5"/>
<circle cx="178" cy="503.3" r="2.3" fill="url(#hb)" stroke="#8eb0e2" stroke-width="0.5"/>
<circle cx="183.9" cy="503.3" r="2.3" fill="url(#hb)" stroke="#8eb0e2" stroke-width="0.5"/>
<circle cx="161.1" cy="502.8" r="2.3" fill="url(#hb)" stroke="#8eb0e2" stroke-width="0.5"/>
<rect x="49" y="552" width="107" height="19" rx="9" fill="#2aa88a" opacity="0.75" filter="url(#blur2)"/>
<rect x="52" y="553.5" width="101" height="16" rx="8" fill="#3bb898" opacity="0.55"/>
<text x="61.4" y="565.3" font-size="12" fill="#1a1a1a" stroke="#ffffff" stroke-width="1.6" stroke-opacity="0.7" paint-order="stroke">H<tspan font-size="8" dy="2">s</tspan><tspan dy="-2"> + i</tspan></text>
<text x="109.2" y="565.3" font-size="12" fill="#1a1a1a" stroke="#ffffff" stroke-width="1.6" stroke-opacity="0.7" paint-order="stroke">H<tspan font-size="8" dy="2">i</tspan><tspan dy="-2"> + s</tspan></text>
<line x1="93.5" y1="561.2" x2="104.5" y2="561.2" stroke="#ffffff" stroke-width="2.4" stroke-opacity="0.7"/>
<line x1="93.5" y1="561.2" x2="104.5" y2="561.2" stroke="#1a1a1a" stroke-width="0.8"/>
<path d="M91.6,561.2 l2.8,-1.7 l0,3.4 Z" fill="#1a1a1a" stroke="none" stroke-width="1"/>
<path d="M106.4,561.2 l-2.8,-1.7 l0,3.4 Z" fill="#1a1a1a" stroke="none" stroke-width="1"/>
<circle cx="123.2" cy="502.8" r="5.5" fill="#20a880" stroke="none" stroke-width="1" opacity="0.5" filter="url(#blur3)"/>
<circle cx="123.2" cy="502.8" r="3.4" fill="#cfe0f8" stroke="#18a07a" stroke-width="1.6"/>
<circle cx="144" cy="537.2" r="5.5" fill="#20a880" stroke="none" stroke-width="1" opacity="0.5" filter="url(#blur3)"/>
<circle cx="144" cy="537.2" r="3.4" fill="#cfe0f8" stroke="#18a07a" stroke-width="1.6"/>
<text x="134.9" y="505.6" font-size="11.5" fill="#1a1a1a" stroke="#ffffff" stroke-width="1.5" stroke-opacity="0.8" paint-order="stroke">H<tspan font-size="8" dy="2.2">s</tspan></text>
<text x="151.8" y="543" font-size="11.5" fill="#1a1a1a" stroke="#ffffff" stroke-width="1.5" stroke-opacity="0.8" paint-order="stroke">H<tspan font-size="8" dy="2.2">i</tspan></text>
<path d="M127.4,504 C133,507 134,512 131.5,517 C129,522 134,526 140,527 L143,529" fill="none" stroke="#111" stroke-width="1.2"/>
<path d="M145,531 l-3.6,-0.6 l2,-2.8 Z" fill="#111" stroke="none" stroke-width="1"/>
<path d="M92,503 C96,499 99,507 103,503 C107,499 110,507 114,503 C116,501 118,502 119.5,502.8" fill="none" stroke="#4a78b0" stroke-width="0.7"/>
<text x="36.2" y="470.7" font-size="11.5" fill="#1a1a1a">H<tspan font-size="8" dy="2.5">2</tspan></text>
<circle cx="55.6" cy="467.1" r="2.3" fill="url(#hb)" stroke="#8eb0e2" stroke-width="0.5"/>
<circle cx="60.1" cy="467.1" r="2.3" fill="url(#hb)" stroke="#8eb0e2" stroke-width="0.5"/>
<path d="M64.8,468.3 C72,468 76,472 73,479 C70,485 66,489 70,494 C72,497 75,498.5 77,499.2" fill="none" stroke="#4a78b0" stroke-width="0.7"/>
<path d="M78.5,499.8 l-3,-0.4 l1.3,-2.2 Z" fill="#4a78b0" stroke="none" stroke-width="1"/>
<path d="M40.7,489.5 L52.3,481.5 L52.3,485.7 L64,485.7 L64,493.5 L52.3,493.5 L52.3,497.8 Z" fill="url(#arrL)" stroke="none" stroke-width="1"/>
<path d="M185,489.5 L173.9,481.5 L173.9,485.7 L162,485.7 L162,493.5 L173.9,493.5 L173.9,497.8 Z" fill="url(#arrR)" stroke="none" stroke-width="1"/>
<text x="85.5" y="492.8" font-size="12.2" fill="#1a1a1a" stroke="#ffffff" stroke-width="2" stroke-opacity="0.8" paint-order="stroke">Expansion</text>
<path d="M28,600 L61.6,600 L61.6,592.4 L76.3,606.7 L61.6,621 L61.6,614.2 L28,614.2 Z" fill="url(#redL)" stroke="none" stroke-width="1"/>
<path d="M199,600 L167,600 L167,592.4 L152.6,606.7 L167,621 L167,614.2 L199,614.2 Z" fill="url(#redR)" stroke="none" stroke-width="1"/>
<text x="113.5" y="621.8" font-size="12.3" text-anchor="middle" fill="#d03838" stroke="#d03838" stroke-width="2.2" filter="url(#blur4)">Constrain</text>
<text x="113.5" y="621.8" font-size="12.3" text-anchor="middle" fill="#c83030" stroke="#c83030" stroke-width="1.3">Constrain</text>
<text x="113.5" y="621.8" font-size="12.3" text-anchor="middle" fill="#ffffff">Constrain</text>
<circle cx="36.6" cy="647.6" r="7" fill="url(#pdball)" stroke="none" stroke-width="1"/>
<text x="50" y="651.5" font-size="10.3" fill="#1a1a1a">Pd</text>
<circle cx="89.3" cy="647.6" r="2.3" fill="url(#hb)" stroke="#8eb0e2" stroke-width="0.5"/>
<text x="97.7" y="651.5" font-size="10.3" fill="#1a1a1a">H</text>
<rect x="128.2" y="643.2" width="24.4" height="9.1" fill="#c4c4c4" stroke="none" stroke-width="1"/>
<text x="158.1" y="651.5" font-size="10.3" fill="#1a1a1a">Substrate</text>
<text x="221.3" y="464.6" font-size="13" fill="#000" font-weight="bold">i</text>
<rect x="260.8" y="466.6" width="153.8" height="166.7" fill="none" stroke="#8c8c8c" stroke-width="0.9"/>
<line x1="258.5" y1="633.3" x2="260.8" y2="633.3" stroke="#8c8c8c" stroke-width="0.8"/>
<text x="253.3" y="636.4" font-size="9" text-anchor="end" fill="#1a1a1a">0</text>
<line x1="258.5" y1="616.65" x2="260.8" y2="616.65" stroke="#8c8c8c" stroke-width="0.8"/>
<line x1="258.5" y1="600" x2="260.8" y2="600" stroke="#8c8c8c" stroke-width="0.8"/>
<text x="253.3" y="603.1" font-size="9" text-anchor="end" fill="#1a1a1a">2</text>
<line x1="258.5" y1="583.35" x2="260.8" y2="583.35" stroke="#8c8c8c" stroke-width="0.8"/>
<line x1="258.5" y1="566.7" x2="260.8" y2="566.7" stroke="#8c8c8c" stroke-width="0.8"/>
<text x="253.3" y="569.8" font-size="9" text-anchor="end" fill="#1a1a1a">4</text>
<line x1="258.5" y1="550.05" x2="260.8" y2="550.05" stroke="#8c8c8c" stroke-width="0.8"/>
<line x1="258.5" y1="533.4" x2="260.8" y2="533.4" stroke="#8c8c8c" stroke-width="0.8"/>
<text x="253.3" y="536.5" font-size="9" text-anchor="end" fill="#1a1a1a">6</text>
<line x1="258.5" y1="516.75" x2="260.8" y2="516.75" stroke="#8c8c8c" stroke-width="0.8"/>
<line x1="258.5" y1="500.1" x2="260.8" y2="500.1" stroke="#8c8c8c" stroke-width="0.8"/>
<text x="253.3" y="503.2" font-size="9" text-anchor="end" fill="#1a1a1a">8</text>
<line x1="258.5" y1="483.45" x2="260.8" y2="483.45" stroke="#8c8c8c" stroke-width="0.8"/>
<line x1="258.5" y1="466.8" x2="260.8" y2="466.8" stroke="#8c8c8c" stroke-width="0.8"/>
<text x="253.3" y="469.9" font-size="9" text-anchor="end" fill="#1a1a1a">10</text>
<line x1="261.2" y1="633.3" x2="261.2" y2="635.6" stroke="#8c8c8c" stroke-width="0.8"/>
<text x="261.2" y="646.9" font-size="9" text-anchor="middle" fill="#1a1a1a">0</text>
<line x1="299.52" y1="633.3" x2="299.52" y2="635.6" stroke="#8c8c8c" stroke-width="0.8"/>
<text x="299.52" y="646.9" font-size="9" text-anchor="middle" fill="#1a1a1a">50</text>
<line x1="337.85" y1="633.3" x2="337.85" y2="635.6" stroke="#8c8c8c" stroke-width="0.8"/>
<text x="337.85" y="646.9" font-size="9" text-anchor="middle" fill="#1a1a1a">100</text>
<line x1="376.17" y1="633.3" x2="376.17" y2="635.6" stroke="#8c8c8c" stroke-width="0.8"/>
<text x="376.17" y="646.9" font-size="9" text-anchor="middle" fill="#1a1a1a">150</text>
<line x1="414.5" y1="633.3" x2="414.5" y2="635.6" stroke="#8c8c8c" stroke-width="0.8"/>
<text x="414.5" y="646.9" font-size="9" text-anchor="middle" fill="#1a1a1a">200</text>
<text x="262.3" y="464" font-size="9" fill="#1a1a1a">×10<tspan font-size="6.8" dy="-3.2">-3</tspan></text>
<text x="338" y="658.7" font-size="10" text-anchor="middle" fill="#1a1a1a">Time (s)</text>
<text x="0" y="0" font-size="10.8" text-anchor="middle" fill="#1a1a1a" transform="translate(236.6,552.4) rotate(-90)"><tspan font-style="italic">n</tspan>(t)·[(ρ<tspan font-size="6.5" dy="1.8">PdHx</tspan><tspan dy="-1.8">-ρ</tspan><tspan font-size="6.5" dy="1.8">Pd</tspan><tspan dy="-1.8">)/ρ</tspan><tspan font-size="6.5" dy="1.8">Pd</tspan><tspan dy="-1.8">] (-)</tspan></text>
<circle cx="261.2" cy="580.25" r="3" fill="none" stroke="#3a5ca6" stroke-width="1"/>
<circle cx="261.97" cy="579.61" r="3" fill="none" stroke="#3a5ca6" stroke-width="1"/>
<circle cx="262.73" cy="578.08" r="3" fill="none" stroke="#3a5ca6" stroke-width="1"/>
<circle cx="263.5" cy="577.99" r="3" fill="none" stroke="#3a5ca6" stroke-width="1"/>
<circle cx="264.27" cy="576.52" r="3" fill="none" stroke="#3a5ca6" stroke-width="1"/>
<circle cx="265.03" cy="575.91" r="3" fill="none" stroke="#3a5ca6" stroke-width="1"/>
<circle cx="265.8" cy="575.49" r="3" fill="none" stroke="#3a5ca6" stroke-width="1"/>
<circle cx="266.57" cy="574.07" r="3" fill="none" stroke="#3a5ca6" stroke-width="1"/>
<circle cx="267.33" cy="573.88" r="3" fill="none" stroke="#3a5ca6" stroke-width="1"/>
<circle cx="268.1" cy="572.55" r="3" fill="none" stroke="#3a5ca6" stroke-width="1"/>
<circle cx="268.87" cy="572.24" r="3" fill="none" stroke="#3a5ca6" stroke-width="1"/>
<circle cx="269.63" cy="571.43" r="3" fill="none" stroke="#3a5ca6" stroke-width="1"/>
<circle cx="270.4" cy="570.2" r="3" fill="none" stroke="#3a5ca6" stroke-width="1"/>
<circle cx="271.16" cy="568.9" r="3" fill="none" stroke="#3a5ca6" stroke-width="1"/>
<circle cx="271.93" cy="569.07" r="3" fill="none" stroke="#3a5ca6" stroke-width="1"/>
<circle cx="272.7" cy="568.18" r="3" fill="none" stroke="#3a5ca6" stroke-width="1"/>
<circle cx="273.46" cy="566.9" r="3" fill="none" stroke="#3a5ca6" stroke-width="1"/>
<circle cx="274.23" cy="565.73" r="3" fill="none" stroke="#3a5ca6" stroke-width="1"/>
<circle cx="275" cy="565.5" r="3" fill="none" stroke="#3a5ca6" stroke-width="1"/>
<circle cx="275.76" cy="565.01" r="3" fill="none" stroke="#3a5ca6" stroke-width="1"/>
<circle cx="276.53" cy="563.53" r="3" fill="none" stroke="#3a5ca6" stroke-width="1"/>
<circle cx="277.3" cy="564.06" r="3" fill="none" stroke="#3a5ca6" stroke-width="1"/>
<circle cx="278.06" cy="562.27" r="3" fill="none" stroke="#3a5ca6" stroke-width="1"/>
<circle cx="278.83" cy="562.34" r="3" fill="none" stroke="#3a5ca6" stroke-width="1"/>
<circle cx="279.6" cy="561.85" r="3" fill="none" stroke="#3a5ca6" stroke-width="1"/>
<circle cx="280.36" cy="561.2" r="3" fill="none" stroke="#3a5ca6" stroke-width="1"/>
<circle cx="281.13" cy="560.28" r="3" fill="none" stroke="#3a5ca6" stroke-width="1"/>
<circle cx="281.9" cy="558.94" r="3" fill="none" stroke="#3a5ca6" stroke-width="1"/>
<circle cx="282.66" cy="559.13" r="3" fill="none" stroke="#3a5ca6" stroke-width="1"/>
<circle cx="283.43" cy="557.94" r="3" fill="none" stroke="#3a5ca6" stroke-width="1"/>
<circle cx="284.19" cy="557.22" r="3" fill="none" stroke="#3a5ca6" stroke-width="1"/>
<circle cx="284.96" cy="556.94" r="3" fill="none" stroke="#3a5ca6" stroke-width="1"/>
<circle cx="285.73" cy="556.08" r="3" fill="none" stroke="#3a5ca6" stroke-width="1"/>
<circle cx="286.49" cy="556.1" r="3" fill="none" stroke="#3a5ca6" stroke-width="1"/>
<circle cx="287.26" cy="555.49" r="3" fill="none" stroke="#3a5ca6" stroke-width="1"/>
<circle cx="288.03" cy="554.69" r="3" fill="none" stroke="#3a5ca6" stroke-width="1"/>
<circle cx="288.79" cy="553.45" r="3" fill="none" stroke="#3a5ca6" stroke-width="1"/>
<circle cx="289.56" cy="553.19" r="3" fill="none" stroke="#3a5ca6" stroke-width="1"/>
<circle cx="290.33" cy="552.75" r="3" fill="none" stroke="#3a5ca6" stroke-width="1"/>
<circle cx="291.09" cy="551.8" r="3" fill="none" stroke="#3a5ca6" stroke-width="1"/>
<circle cx="291.86" cy="551.4" r="3" fill="none" stroke="#3a5ca6" stroke-width="1"/>
<circle cx="292.63" cy="551.04" r="3" fill="none" stroke="#3a5ca6" stroke-width="1"/>
<circle cx="293.39" cy="549.81" r="3" fill="none" stroke="#3a5ca6" stroke-width="1"/>
<circle cx="294.16" cy="549.38" r="3" fill="none" stroke="#3a5ca6" stroke-width="1"/>
<circle cx="294.93" cy="549.43" r="3" fill="none" stroke="#3a5ca6" stroke-width="1"/>
<circle cx="295.69" cy="548.44" r="3" fill="none" stroke="#3a5ca6" stroke-width="1"/>
<circle cx="296.46" cy="547.96" r="3" fill="none" stroke="#3a5ca6" stroke-width="1"/>
<circle cx="297.23" cy="546.96" r="3" fill="none" stroke="#3a5ca6" stroke-width="1"/>
<circle cx="297.99" cy="546.62" r="3" fill="none" stroke="#3a5ca6" stroke-width="1"/>
<circle cx="298.76" cy="546.69" r="3" fill="none" stroke="#3a5ca6" stroke-width="1"/>
<circle cx="299.52" cy="545.24" r="3" fill="none" stroke="#3a5ca6" stroke-width="1"/>
<circle cx="300.29" cy="545.88" r="3" fill="none" stroke="#3a5ca6" stroke-width="1"/>
<circle cx="301.06" cy="544.97" r="3" fill="none" stroke="#3a5ca6" stroke-width="1"/>
<circle cx="301.82" cy="544.01" r="3" fill="none" stroke="#3a5ca6" stroke-width="1"/>
<circle cx="302.59" cy="544.32" r="3" fill="none" stroke="#3a5ca6" stroke-width="1"/>
<circle cx="303.36" cy="543.38" r="3" fill="none" stroke="#3a5ca6" stroke-width="1"/>
<circle cx="304.12" cy="543.49" r="3" fill="none" stroke="#3a5ca6" stroke-width="1"/>
<circle cx="304.89" cy="542.17" r="3" fill="none" stroke="#3a5ca6" stroke-width="1"/>
<circle cx="305.66" cy="541.57" r="3" fill="none" stroke="#3a5ca6" stroke-width="1"/>
<circle cx="306.42" cy="541.35" r="3" fill="none" stroke="#3a5ca6" stroke-width="1"/>
<circle cx="307.19" cy="540.48" r="3" fill="none" stroke="#3a5ca6" stroke-width="1"/>
<circle cx="307.96" cy="540.76" r="3" fill="none" stroke="#3a5ca6" stroke-width="1"/>
<circle cx="308.72" cy="539.8" r="3" fill="none" stroke="#3a5ca6" stroke-width="1"/>
<circle cx="309.49" cy="539.48" r="3" fill="none" stroke="#3a5ca6" stroke-width="1"/>
<circle cx="310.26" cy="539.05" r="3" fill="none" stroke="#3a5ca6" stroke-width="1"/>
<circle cx="311.02" cy="538.77" r="3" fill="none" stroke="#3a5ca6" stroke-width="1"/>
<circle cx="311.79" cy="537.82" r="3" fill="none" stroke="#3a5ca6" stroke-width="1"/>
<circle cx="312.56" cy="537.25" r="3" fill="none" stroke="#3a5ca6" stroke-width="1"/>
<circle cx="313.32" cy="537.45" r="3" fill="none" stroke="#3a5ca6" stroke-width="1"/>
<circle cx="314.09" cy="536.77" r="3" fill="none" stroke="#3a5ca6" stroke-width="1"/>
<circle cx="314.85" cy="537.15" r="3" fill="none" stroke="#3a5ca6" stroke-width="1"/>
<circle cx="315.62" cy="535.88" r="3" fill="none" stroke="#3a5ca6" stroke-width="1"/>
<circle cx="316.39" cy="535.54" r="3" fill="none" stroke="#3a5ca6" stroke-width="1"/>
<circle cx="317.15" cy="534.68" r="3" fill="none" stroke="#3a5ca6" stroke-width="1"/>
<circle cx="317.92" cy="534.5" r="3" fill="none" stroke="#3a5ca6" stroke-width="1"/>
<circle cx="318.69" cy="534.82" r="3" fill="none" stroke="#3a5ca6" stroke-width="1"/>
<circle cx="319.45" cy="534.29" r="3" fill="none" stroke="#3a5ca6" stroke-width="1"/>
<circle cx="320.22" cy="533.52" r="3" fill="none" stroke="#3a5ca6" stroke-width="1"/>
<circle cx="320.99" cy="534" r="3" fill="none" stroke="#3a5ca6" stroke-width="1"/>
<circle cx="321.75" cy="533.03" r="3" fill="none" stroke="#3a5ca6" stroke-width="1"/>
<circle cx="322.52" cy="533.04" r="3" fill="none" stroke="#3a5ca6" stroke-width="1"/>
<circle cx="323.29" cy="532.74" r="3" fill="none" stroke="#3a5ca6" stroke-width="1"/>
<circle cx="324.05" cy="532.44" r="3" fill="none" stroke="#3a5ca6" stroke-width="1"/>
<circle cx="324.82" cy="531.13" r="3" fill="none" stroke="#3a5ca6" stroke-width="1"/>
<circle cx="325.59" cy="531.62" r="3" fill="none" stroke="#3a5ca6" stroke-width="1"/>
<circle cx="326.35" cy="531.11" r="3" fill="none" stroke="#3a5ca6" stroke-width="1"/>
<circle cx="327.12" cy="530.56" r="3" fill="none" stroke="#3a5ca6" stroke-width="1"/>
<circle cx="327.89" cy="529.57" r="3" fill="none" stroke="#3a5ca6" stroke-width="1"/>
<circle cx="328.65" cy="530.28" r="3" fill="none" stroke="#3a5ca6" stroke-width="1"/>
<circle cx="329.42" cy="529.44" r="3" fill="none" stroke="#3a5ca6" stroke-width="1"/>
<circle cx="330.19" cy="528.97" r="3" fill="none" stroke="#3a5ca6" stroke-width="1"/>
<circle cx="330.95" cy="528.19" r="3" fill="none" stroke="#3a5ca6" stroke-width="1"/>
<circle cx="331.72" cy="527.94" r="3" fill="none" stroke="#3a5ca6" stroke-width="1"/>
<circle cx="332.48" cy="527.55" r="3" fill="none" stroke="#3a5ca6" stroke-width="1"/>
<circle cx="333.25" cy="528.01" r="3" fill="none" stroke="#3a5ca6" stroke-width="1"/>
<circle cx="334.02" cy="527.5" r="3" fill="none" stroke="#3a5ca6" stroke-width="1"/>
<circle cx="334.78" cy="527.26" r="3" fill="none" stroke="#3a5ca6" stroke-width="1"/>
<circle cx="335.55" cy="526.24" r="3" fill="none" stroke="#3a5ca6" stroke-width="1"/>
<circle cx="336.32" cy="525.83" r="3" fill="none" stroke="#3a5ca6" stroke-width="1"/>
<circle cx="337.08" cy="526.6" r="3" fill="none" stroke="#3a5ca6" stroke-width="1"/>
<circle cx="337.85" cy="526.26" r="3" fill="none" stroke="#3a5ca6" stroke-width="1"/>
<circle cx="338.62" cy="525.88" r="3" fill="none" stroke="#3a5ca6" stroke-width="1"/>
<circle cx="339.38" cy="525.58" r="3" fill="none" stroke="#3a5ca6" stroke-width="1"/>
<circle cx="340.15" cy="524.95" r="3" fill="none" stroke="#3a5ca6" stroke-width="1"/>
<circle cx="340.92" cy="524.52" r="3" fill="none" stroke="#3a5ca6" stroke-width="1"/>
<circle cx="341.68" cy="524.67" r="3" fill="none" stroke="#3a5ca6" stroke-width="1"/>
<circle cx="342.45" cy="524.72" r="3" fill="none" stroke="#3a5ca6" stroke-width="1"/>
<circle cx="343.22" cy="523.89" r="3" fill="none" stroke="#3a5ca6" stroke-width="1"/>
<circle cx="343.98" cy="523.67" r="3" fill="none" stroke="#3a5ca6" stroke-width="1"/>
<circle cx="344.75" cy="523.13" r="3" fill="none" stroke="#3a5ca6" stroke-width="1"/>
<circle cx="345.51" cy="522.34" r="3" fill="none" stroke="#3a5ca6" stroke-width="1"/>
<circle cx="346.28" cy="522.42" r="3" fill="none" stroke="#3a5ca6" stroke-width="1"/>
<circle cx="347.05" cy="522.39" r="3" fill="none" stroke="#3a5ca6" stroke-width="1"/>
<circle cx="347.81" cy="521.98" r="3" fill="none" stroke="#3a5ca6" stroke-width="1"/>
<circle cx="348.58" cy="521.64" r="3" fill="none" stroke="#3a5ca6" stroke-width="1"/>
<circle cx="349.35" cy="522.21" r="3" fill="none" stroke="#3a5ca6" stroke-width="1"/>
<circle cx="350.11" cy="520.83" r="3" fill="none" stroke="#3a5ca6" stroke-width="1"/>
<circle cx="350.88" cy="520.73" r="3" fill="none" stroke="#3a5ca6" stroke-width="1"/>
<circle cx="351.65" cy="520.35" r="3" fill="none" stroke="#3a5ca6" stroke-width="1"/>
<circle cx="352.41" cy="520.21" r="3" fill="none" stroke="#3a5ca6" stroke-width="1"/>
<circle cx="353.18" cy="520.5" r="3" fill="none" stroke="#3a5ca6" stroke-width="1"/>
<circle cx="353.95" cy="520.25" r="3" fill="none" stroke="#3a5ca6" stroke-width="1"/>
<circle cx="354.71" cy="520.4" r="3" fill="none" stroke="#3a5ca6" stroke-width="1"/>
<circle cx="355.48" cy="519.45" r="3" fill="none" stroke="#3a5ca6" stroke-width="1"/>
<circle cx="356.25" cy="519.98" r="3" fill="none" stroke="#3a5ca6" stroke-width="1"/>
<circle cx="357.01" cy="519.74" r="3" fill="none" stroke="#3a5ca6" stroke-width="1"/>
<circle cx="357.78" cy="519.32" r="3" fill="none" stroke="#3a5ca6" stroke-width="1"/>
<circle cx="358.55" cy="519.15" r="3" fill="none" stroke="#3a5ca6" stroke-width="1"/>
<circle cx="359.31" cy="518.69" r="3" fill="none" stroke="#3a5ca6" stroke-width="1"/>
<circle cx="360.08" cy="518.84" r="3" fill="none" stroke="#3a5ca6" stroke-width="1"/>
<circle cx="360.84" cy="518.69" r="3" fill="none" stroke="#3a5ca6" stroke-width="1"/>
<circle cx="361.61" cy="518.27" r="3" fill="none" stroke="#3a5ca6" stroke-width="1"/>
<circle cx="362.38" cy="518.12" r="3" fill="none" stroke="#3a5ca6" stroke-width="1"/>
<circle cx="363.14" cy="517.56" r="3" fill="none" stroke="#3a5ca6" stroke-width="1"/>
<circle cx="363.91" cy="517.79" r="3" fill="none" stroke="#3a5ca6" stroke-width="1"/>
<circle cx="364.68" cy="516.45" r="3" fill="none" stroke="#3a5ca6" stroke-width="1"/>
<circle cx="365.44" cy="516.59" r="3" fill="none" stroke="#3a5ca6" stroke-width="1"/>
<circle cx="366.21" cy="517" r="3" fill="none" stroke="#3a5ca6" stroke-width="1"/>
<circle cx="366.98" cy="516.66" r="3" fill="none" stroke="#3a5ca6" stroke-width="1"/>
<circle cx="367.74" cy="516.33" r="3" fill="none" stroke="#3a5ca6" stroke-width="1"/>
<circle cx="368.51" cy="516.11" r="3" fill="none" stroke="#3a5ca6" stroke-width="1"/>
<circle cx="369.28" cy="516.24" r="3" fill="none" stroke="#3a5ca6" stroke-width="1"/>
<circle cx="370.04" cy="515.07" r="3" fill="none" stroke="#3a5ca6" stroke-width="1"/>
<circle cx="370.81" cy="514.69" r="3" fill="none" stroke="#3a5ca6" stroke-width="1"/>
<circle cx="371.58" cy="515.2" r="3" fill="none" stroke="#3a5ca6" stroke-width="1"/>
<circle cx="372.34" cy="514.99" r="3" fill="none" stroke="#3a5ca6" stroke-width="1"/>
<circle cx="373.11" cy="515.33" r="3" fill="none" stroke="#3a5ca6" stroke-width="1"/>
<circle cx="373.88" cy="515.12" r="3" fill="none" stroke="#3a5ca6" stroke-width="1"/>
<circle cx="374.64" cy="514.62" r="3" fill="none" stroke="#3a5ca6" stroke-width="1"/>
<circle cx="375.41" cy="514.54" r="3" fill="none" stroke="#3a5ca6" stroke-width="1"/>
<circle cx="376.17" cy="513.61" r="3" fill="none" stroke="#3a5ca6" stroke-width="1"/>
<circle cx="376.94" cy="514.32" r="3" fill="none" stroke="#3a5ca6" stroke-width="1"/>
<circle cx="377.71" cy="514.33" r="3" fill="none" stroke="#3a5ca6" stroke-width="1"/>
<circle cx="378.47" cy="512.92" r="3" fill="none" stroke="#3a5ca6" stroke-width="1"/>
<circle cx="379.24" cy="513.31" r="3" fill="none" stroke="#3a5ca6" stroke-width="1"/>
<circle cx="380.01" cy="513.65" r="3" fill="none" stroke="#3a5ca6" stroke-width="1"/>
<circle cx="380.77" cy="512.95" r="3" fill="none" stroke="#3a5ca6" stroke-width="1"/>
<circle cx="381.54" cy="513.47" r="3" fill="none" stroke="#3a5ca6" stroke-width="1"/>
<circle cx="382.31" cy="512.64" r="3" fill="none" stroke="#3a5ca6" stroke-width="1"/>
<circle cx="383.07" cy="511.88" r="3" fill="none" stroke="#3a5ca6" stroke-width="1"/>
<circle cx="383.84" cy="511.87" r="3" fill="none" stroke="#3a5ca6" stroke-width="1"/>
<circle cx="384.61" cy="511.93" r="3" fill="none" stroke="#3a5ca6" stroke-width="1"/>
<circle cx="385.37" cy="512.36" r="3" fill="none" stroke="#3a5ca6" stroke-width="1"/>
<circle cx="386.14" cy="512.06" r="3" fill="none" stroke="#3a5ca6" stroke-width="1"/>
<circle cx="386.91" cy="512.17" r="3" fill="none" stroke="#3a5ca6" stroke-width="1"/>
<circle cx="387.67" cy="511.21" r="3" fill="none" stroke="#3a5ca6" stroke-width="1"/>
<circle cx="388.44" cy="511.38" r="3" fill="none" stroke="#3a5ca6" stroke-width="1"/>
<circle cx="389.21" cy="510.9" r="3" fill="none" stroke="#3a5ca6" stroke-width="1"/>
<circle cx="389.97" cy="511.35" r="3" fill="none" stroke="#3a5ca6" stroke-width="1"/>
<circle cx="390.74" cy="511.35" r="3" fill="none" stroke="#3a5ca6" stroke-width="1"/>
<circle cx="391.5" cy="510.42" r="3" fill="none" stroke="#3a5ca6" stroke-width="1"/>
<circle cx="392.27" cy="510.04" r="3" fill="none" stroke="#3a5ca6" stroke-width="1"/>
<circle cx="393.04" cy="510.08" r="3" fill="none" stroke="#3a5ca6" stroke-width="1"/>
<circle cx="393.8" cy="510" r="3" fill="none" stroke="#3a5ca6" stroke-width="1"/>
<circle cx="394.57" cy="509.84" r="3" fill="none" stroke="#3a5ca6" stroke-width="1"/>
<circle cx="395.34" cy="509.81" r="3" fill="none" stroke="#3a5ca6" stroke-width="1"/>
<circle cx="396.1" cy="510.36" r="3" fill="none" stroke="#3a5ca6" stroke-width="1"/>
<circle cx="396.87" cy="509.84" r="3" fill="none" stroke="#3a5ca6" stroke-width="1"/>
<circle cx="397.64" cy="509.92" r="3" fill="none" stroke="#3a5ca6" stroke-width="1"/>
<circle cx="398.4" cy="510.22" r="3" fill="none" stroke="#3a5ca6" stroke-width="1"/>
<circle cx="399.17" cy="510.09" r="3" fill="none" stroke="#3a5ca6" stroke-width="1"/>
<circle cx="399.94" cy="509.63" r="3" fill="none" stroke="#3a5ca6" stroke-width="1"/>
<circle cx="400.7" cy="509.53" r="3" fill="none" stroke="#3a5ca6" stroke-width="1"/>
<circle cx="401.47" cy="508.82" r="3" fill="none" stroke="#3a5ca6" stroke-width="1"/>
<circle cx="402.24" cy="508.35" r="3" fill="none" stroke="#3a5ca6" stroke-width="1"/>
<circle cx="403" cy="508.9" r="3" fill="none" stroke="#3a5ca6" stroke-width="1"/>
<circle cx="403.77" cy="508.13" r="3" fill="none" stroke="#3a5ca6" stroke-width="1"/>
<circle cx="404.54" cy="507.94" r="3" fill="none" stroke="#3a5ca6" stroke-width="1"/>
<circle cx="405.3" cy="507.86" r="3" fill="none" stroke="#3a5ca6" stroke-width="1"/>
<circle cx="406.07" cy="508.53" r="3" fill="none" stroke="#3a5ca6" stroke-width="1"/>
<circle cx="406.83" cy="508.61" r="3" fill="none" stroke="#3a5ca6" stroke-width="1"/>
<circle cx="407.6" cy="508.48" r="3" fill="none" stroke="#3a5ca6" stroke-width="1"/>
<circle cx="408.37" cy="508.41" r="3" fill="none" stroke="#3a5ca6" stroke-width="1"/>
<circle cx="409.13" cy="508.28" r="3" fill="none" stroke="#3a5ca6" stroke-width="1"/>
<circle cx="409.9" cy="507.61" r="3" fill="none" stroke="#3a5ca6" stroke-width="1"/>
<circle cx="410.67" cy="507.13" r="3" fill="none" stroke="#3a5ca6" stroke-width="1"/>
<circle cx="411.43" cy="507.1" r="3" fill="none" stroke="#3a5ca6" stroke-width="1"/>
<circle cx="412.2" cy="507.47" r="3" fill="none" stroke="#3a5ca6" stroke-width="1"/>
<circle cx="412.97" cy="507.13" r="3" fill="none" stroke="#3a5ca6" stroke-width="1"/>
<circle cx="413.73" cy="506.83" r="3" fill="none" stroke="#3a5ca6" stroke-width="1"/>
<circle cx="414.5" cy="507.68" r="3" fill="none" stroke="#3a5ca6" stroke-width="1"/>
<circle cx="261.2" cy="626.64" r="2.8" fill="none" stroke="#b0c6ec" stroke-width="1.1" fill="#d6e2f6"/>
<circle cx="262.73" cy="626.56" r="2.8" fill="none" stroke="#b0c6ec" stroke-width="1.1" fill="#d6e2f6"/>
<circle cx="264.27" cy="626.47" r="2.8" fill="none" stroke="#b0c6ec" stroke-width="1.1" fill="#d6e2f6"/>
<circle cx="265.8" cy="626.39" r="2.8" fill="none" stroke="#b0c6ec" stroke-width="1.1" fill="#d6e2f6"/>
<circle cx="267.33" cy="626.31" r="2.8" fill="none" stroke="#b0c6ec" stroke-width="1.1" fill="#d6e2f6"/>
<circle cx="268.87" cy="626.22" r="2.8" fill="none" stroke="#b0c6ec" stroke-width="1.1" fill="#d6e2f6"/>
<circle cx="270.4" cy="626.14" r="2.8" fill="none" stroke="#b0c6ec" stroke-width="1.1" fill="#d6e2f6"/>
<circle cx="271.93" cy="626.06" r="2.8" fill="none" stroke="#b0c6ec" stroke-width="1.1" fill="#d6e2f6"/>
<circle cx="273.46" cy="625.97" r="2.8" fill="none" stroke="#b0c6ec" stroke-width="1.1" fill="#d6e2f6"/>
<circle cx="275" cy="625.89" r="2.8" fill="none" stroke="#b0c6ec" stroke-width="1.1" fill="#d6e2f6"/>
<circle cx="276.53" cy="625.81" r="2.8" fill="none" stroke="#b0c6ec" stroke-width="1.1" fill="#d6e2f6"/>
<circle cx="278.06" cy="625.72" r="2.8" fill="none" stroke="#b0c6ec" stroke-width="1.1" fill="#d6e2f6"/>
<circle cx="279.6" cy="625.64" r="2.8" fill="none" stroke="#b0c6ec" stroke-width="1.1" fill="#d6e2f6"/>
<circle cx="281.13" cy="625.56" r="2.8" fill="none" stroke="#b0c6ec" stroke-width="1.1" fill="#d6e2f6"/>
<circle cx="282.66" cy="625.47" r="2.8" fill="none" stroke="#b0c6ec" stroke-width="1.1" fill="#d6e2f6"/>
<circle cx="284.19" cy="625.39" r="2.8" fill="none" stroke="#b0c6ec" stroke-width="1.1" fill="#d6e2f6"/>
<circle cx="285.73" cy="625.31" r="2.8" fill="none" stroke="#b0c6ec" stroke-width="1.1" fill="#d6e2f6"/>
<circle cx="287.26" cy="625.22" r="2.8" fill="none" stroke="#b0c6ec" stroke-width="1.1" fill="#d6e2f6"/>
<circle cx="288.79" cy="625.14" r="2.8" fill="none" stroke="#b0c6ec" stroke-width="1.1" fill="#d6e2f6"/>
<circle cx="290.33" cy="625.06" r="2.8" fill="none" stroke="#b0c6ec" stroke-width="1.1" fill="#d6e2f6"/>
<circle cx="291.86" cy="624.97" r="2.8" fill="none" stroke="#b0c6ec" stroke-width="1.1" fill="#d6e2f6"/>
<circle cx="293.39" cy="624.89" r="2.8" fill="none" stroke="#b0c6ec" stroke-width="1.1" fill="#d6e2f6"/>
<circle cx="294.93" cy="624.81" r="2.8" fill="none" stroke="#b0c6ec" stroke-width="1.1" fill="#d6e2f6"/>
<circle cx="296.46" cy="624.73" r="2.8" fill="none" stroke="#b0c6ec" stroke-width="1.1" fill="#d6e2f6"/>
<circle cx="297.99" cy="624.64" r="2.8" fill="none" stroke="#b0c6ec" stroke-width="1.1" fill="#d6e2f6"/>
<circle cx="299.52" cy="624.56" r="2.8" fill="none" stroke="#b0c6ec" stroke-width="1.1" fill="#d6e2f6"/>
<circle cx="301.06" cy="624.48" r="2.8" fill="none" stroke="#b0c6ec" stroke-width="1.1" fill="#d6e2f6"/>
<circle cx="302.59" cy="624.39" r="2.8" fill="none" stroke="#b0c6ec" stroke-width="1.1" fill="#d6e2f6"/>
<circle cx="304.12" cy="624.31" r="2.8" fill="none" stroke="#b0c6ec" stroke-width="1.1" fill="#d6e2f6"/>
<circle cx="305.66" cy="624.23" r="2.8" fill="none" stroke="#b0c6ec" stroke-width="1.1" fill="#d6e2f6"/>
<circle cx="307.19" cy="624.14" r="2.8" fill="none" stroke="#b0c6ec" stroke-width="1.1" fill="#d6e2f6"/>
<circle cx="308.72" cy="624.06" r="2.8" fill="none" stroke="#b0c6ec" stroke-width="1.1" fill="#d6e2f6"/>
<circle cx="310.26" cy="623.98" r="2.8" fill="none" stroke="#b0c6ec" stroke-width="1.1" fill="#d6e2f6"/>
<circle cx="311.79" cy="623.89" r="2.8" fill="none" stroke="#b0c6ec" stroke-width="1.1" fill="#d6e2f6"/>
<circle cx="313.32" cy="623.81" r="2.8" fill="none" stroke="#b0c6ec" stroke-width="1.1" fill="#d6e2f6"/>
<circle cx="314.85" cy="623.73" r="2.8" fill="none" stroke="#b0c6ec" stroke-width="1.1" fill="#d6e2f6"/>
<circle cx="316.39" cy="623.64" r="2.8" fill="none" stroke="#b0c6ec" stroke-width="1.1" fill="#d6e2f6"/>
<circle cx="317.92" cy="623.56" r="2.8" fill="none" stroke="#b0c6ec" stroke-width="1.1" fill="#d6e2f6"/>
<circle cx="319.45" cy="623.48" r="2.8" fill="none" stroke="#b0c6ec" stroke-width="1.1" fill="#d6e2f6"/>
<circle cx="320.99" cy="623.39" r="2.8" fill="none" stroke="#b0c6ec" stroke-width="1.1" fill="#d6e2f6"/>
<circle cx="322.52" cy="623.31" r="2.8" fill="none" stroke="#b0c6ec" stroke-width="1.1" fill="#d6e2f6"/>
<circle cx="324.05" cy="623.23" r="2.8" fill="none" stroke="#b0c6ec" stroke-width="1.1" fill="#d6e2f6"/>
<circle cx="325.59" cy="623.14" r="2.8" fill="none" stroke="#b0c6ec" stroke-width="1.1" fill="#d6e2f6"/>
<circle cx="327.12" cy="623.06" r="2.8" fill="none" stroke="#b0c6ec" stroke-width="1.1" fill="#d6e2f6"/>
<circle cx="328.65" cy="622.98" r="2.8" fill="none" stroke="#b0c6ec" stroke-width="1.1" fill="#d6e2f6"/>
<circle cx="330.19" cy="622.89" r="2.8" fill="none" stroke="#b0c6ec" stroke-width="1.1" fill="#d6e2f6"/>
<circle cx="331.72" cy="622.81" r="2.8" fill="none" stroke="#b0c6ec" stroke-width="1.1" fill="#d6e2f6"/>
<circle cx="333.25" cy="622.73" r="2.8" fill="none" stroke="#b0c6ec" stroke-width="1.1" fill="#d6e2f6"/>
<circle cx="334.78" cy="622.64" r="2.8" fill="none" stroke="#b0c6ec" stroke-width="1.1" fill="#d6e2f6"/>
<circle cx="336.32" cy="622.56" r="2.8" fill="none" stroke="#b0c6ec" stroke-width="1.1" fill="#d6e2f6"/>
<circle cx="337.85" cy="622.48" r="2.8" fill="none" stroke="#b0c6ec" stroke-width="1.1" fill="#d6e2f6"/>
<circle cx="339.38" cy="622.39" r="2.8" fill="none" stroke="#b0c6ec" stroke-width="1.1" fill="#d6e2f6"/>
<circle cx="340.92" cy="622.31" r="2.8" fill="none" stroke="#b0c6ec" stroke-width="1.1" fill="#d6e2f6"/>
<circle cx="342.45" cy="622.23" r="2.8" fill="none" stroke="#b0c6ec" stroke-width="1.1" fill="#d6e2f6"/>
<circle cx="343.98" cy="622.14" r="2.8" fill="none" stroke="#b0c6ec" stroke-width="1.1" fill="#d6e2f6"/>
<circle cx="345.51" cy="622.06" r="2.8" fill="none" stroke="#b0c6ec" stroke-width="1.1" fill="#d6e2f6"/>
<circle cx="347.05" cy="621.98" r="2.8" fill="none" stroke="#b0c6ec" stroke-width="1.1" fill="#d6e2f6"/>
<circle cx="348.58" cy="621.89" r="2.8" fill="none" stroke="#b0c6ec" stroke-width="1.1" fill="#d6e2f6"/>
<circle cx="350.11" cy="621.81" r="2.8" fill="none" stroke="#b0c6ec" stroke-width="1.1" fill="#d6e2f6"/>
<circle cx="351.65" cy="621.73" r="2.8" fill="none" stroke="#b0c6ec" stroke-width="1.1" fill="#d6e2f6"/>
<circle cx="353.18" cy="621.64" r="2.8" fill="none" stroke="#b0c6ec" stroke-width="1.1" fill="#d6e2f6"/>
<circle cx="354.71" cy="621.56" r="2.8" fill="none" stroke="#b0c6ec" stroke-width="1.1" fill="#d6e2f6"/>
<circle cx="356.25" cy="621.48" r="2.8" fill="none" stroke="#b0c6ec" stroke-width="1.1" fill="#d6e2f6"/>
<circle cx="357.78" cy="621.4" r="2.8" fill="none" stroke="#b0c6ec" stroke-width="1.1" fill="#d6e2f6"/>
<circle cx="359.31" cy="621.31" r="2.8" fill="none" stroke="#b0c6ec" stroke-width="1.1" fill="#d6e2f6"/>
<circle cx="360.84" cy="621.23" r="2.8" fill="none" stroke="#b0c6ec" stroke-width="1.1" fill="#d6e2f6"/>
<circle cx="362.38" cy="621.15" r="2.8" fill="none" stroke="#b0c6ec" stroke-width="1.1" fill="#d6e2f6"/>
<circle cx="363.91" cy="621.06" r="2.8" fill="none" stroke="#b0c6ec" stroke-width="1.1" fill="#d6e2f6"/>
<circle cx="365.44" cy="620.98" r="2.8" fill="none" stroke="#b0c6ec" stroke-width="1.1" fill="#d6e2f6"/>
<circle cx="366.98" cy="620.9" r="2.8" fill="none" stroke="#b0c6ec" stroke-width="1.1" fill="#d6e2f6"/>
<circle cx="368.51" cy="620.81" r="2.8" fill="none" stroke="#b0c6ec" stroke-width="1.1" fill="#d6e2f6"/>
<circle cx="370.04" cy="620.73" r="2.8" fill="none" stroke="#b0c6ec" stroke-width="1.1" fill="#d6e2f6"/>
<circle cx="371.58" cy="620.65" r="2.8" fill="none" stroke="#b0c6ec" stroke-width="1.1" fill="#d6e2f6"/>
<circle cx="373.11" cy="620.56" r="2.8" fill="none" stroke="#b0c6ec" stroke-width="1.1" fill="#d6e2f6"/>
<circle cx="374.64" cy="620.48" r="2.8" fill="none" stroke="#b0c6ec" stroke-width="1.1" fill="#d6e2f6"/>
<circle cx="376.17" cy="620.4" r="2.8" fill="none" stroke="#b0c6ec" stroke-width="1.1" fill="#d6e2f6"/>
<circle cx="377.71" cy="620.31" r="2.8" fill="none" stroke="#b0c6ec" stroke-width="1.1" fill="#d6e2f6"/>
<circle cx="379.24" cy="620.23" r="2.8" fill="none" stroke="#b0c6ec" stroke-width="1.1" fill="#d6e2f6"/>
<circle cx="380.77" cy="620.15" r="2.8" fill="none" stroke="#b0c6ec" stroke-width="1.1" fill="#d6e2f6"/>
<circle cx="382.31" cy="620.06" r="2.8" fill="none" stroke="#b0c6ec" stroke-width="1.1" fill="#d6e2f6"/>
<circle cx="383.84" cy="619.98" r="2.8" fill="none" stroke="#b0c6ec" stroke-width="1.1" fill="#d6e2f6"/>
<circle cx="385.37" cy="619.9" r="2.8" fill="none" stroke="#b0c6ec" stroke-width="1.1" fill="#d6e2f6"/>
<circle cx="386.91" cy="619.81" r="2.8" fill="none" stroke="#b0c6ec" stroke-width="1.1" fill="#d6e2f6"/>
<circle cx="388.44" cy="619.73" r="2.8" fill="none" stroke="#b0c6ec" stroke-width="1.1" fill="#d6e2f6"/>
<circle cx="389.97" cy="619.65" r="2.8" fill="none" stroke="#b0c6ec" stroke-width="1.1" fill="#d6e2f6"/>
<circle cx="391.5" cy="619.56" r="2.8" fill="none" stroke="#b0c6ec" stroke-width="1.1" fill="#d6e2f6"/>
<circle cx="393.04" cy="619.48" r="2.8" fill="none" stroke="#b0c6ec" stroke-width="1.1" fill="#d6e2f6"/>
<circle cx="394.57" cy="619.4" r="2.8" fill="none" stroke="#b0c6ec" stroke-width="1.1" fill="#d6e2f6"/>
<circle cx="396.1" cy="619.31" r="2.8" fill="none" stroke="#b0c6ec" stroke-width="1.1" fill="#d6e2f6"/>
<circle cx="397.64" cy="619.23" r="2.8" fill="none" stroke="#b0c6ec" stroke-width="1.1" fill="#d6e2f6"/>
<circle cx="399.17" cy="619.15" r="2.8" fill="none" stroke="#b0c6ec" stroke-width="1.1" fill="#d6e2f6"/>
<circle cx="400.7" cy="619.06" r="2.8" fill="none" stroke="#b0c6ec" stroke-width="1.1" fill="#d6e2f6"/>
<circle cx="402.24" cy="618.98" r="2.8" fill="none" stroke="#b0c6ec" stroke-width="1.1" fill="#d6e2f6"/>
<circle cx="403.77" cy="618.9" r="2.8" fill="none" stroke="#b0c6ec" stroke-width="1.1" fill="#d6e2f6"/>
<circle cx="405.3" cy="618.81" r="2.8" fill="none" stroke="#b0c6ec" stroke-width="1.1" fill="#d6e2f6"/>
<circle cx="406.83" cy="618.73" r="2.8" fill="none" stroke="#b0c6ec" stroke-width="1.1" fill="#d6e2f6"/>
<circle cx="408.37" cy="618.65" r="2.8" fill="none" stroke="#b0c6ec" stroke-width="1.1" fill="#d6e2f6"/>
<circle cx="409.9" cy="618.56" r="2.8" fill="none" stroke="#b0c6ec" stroke-width="1.1" fill="#d6e2f6"/>
<circle cx="411.43" cy="618.48" r="2.8" fill="none" stroke="#b0c6ec" stroke-width="1.1" fill="#d6e2f6"/>
<circle cx="412.97" cy="618.4" r="2.8" fill="none" stroke="#b0c6ec" stroke-width="1.1" fill="#d6e2f6"/>
<circle cx="414.5" cy="618.31" r="2.8" fill="none" stroke="#b0c6ec" stroke-width="1.1" fill="#d6e2f6"/>
<path d="M261.2,580.02 L264.27,576.57 L267.33,573.27 L270.4,570.1 L273.46,567.07 L276.53,564.16 L279.6,561.37 L282.66,558.7 L285.73,556.14 L288.79,553.69 L291.86,551.34 L294.93,549.09 L297.99,546.93 L301.06,544.86 L304.12,542.88 L307.19,540.98 L310.26,539.16 L313.32,537.41 L316.39,535.74 L319.45,534.14 L322.52,532.6 L325.59,531.13 L328.65,529.72 L331.72,528.37 L334.78,527.07 L337.85,525.83 L340.92,524.64 L343.98,523.5 L347.05,522.41 L350.11,521.36 L353.18,520.36 L356.25,519.39 L359.31,518.47 L362.38,517.59 L365.44,516.74 L368.51,515.93 L371.58,515.15 L374.64,514.41 L377.71,513.69 L380.77,513.01 L383.84,512.35 L386.91,511.73 L389.97,511.12 L393.04,510.55 L396.1,509.99 L399.17,509.46 L402.24,508.96 L405.3,508.47 L408.37,508 L411.43,507.55 L414.5,507.13" fill="none" stroke="#d41c2c" stroke-width="1.4"/>
<path d="M261.2,626.64 L268.87,626.22 L276.53,625.81 L284.19,625.39 L291.86,624.97 L299.52,624.56 L307.19,624.14 L314.85,623.73 L322.52,623.31 L330.19,622.89 L337.85,622.48 L345.51,622.06 L353.18,621.64 L360.84,621.23 L368.51,620.81 L376.17,620.4 L383.84,619.98 L391.5,619.56 L399.17,619.15 L406.83,618.73 L414.5,618.31" fill="none" stroke="#e01c2c" stroke-width="1.4"/>
<circle cx="269.9" cy="476.2" r="2.5" fill="none" stroke="#3558a0" stroke-width="0.9"/>
<text x="277.5" y="479.8" font-size="10.3" fill="#2a4482">Floating-struc. w SAM</text>
<line x1="266.1" y1="491.2" x2="273.9" y2="491.2" stroke="#e02030" stroke-width="1.2"/>
<text x="277.5" y="494.8" font-size="10.3" fill="#2a4482">Fitting</text>
<circle cx="267.6" cy="596.2" r="2.5" fill="none" stroke="#a8c0e8" stroke-width="0.9"/>
<text x="276.6" y="599.8" font-size="10.3" fill="#1a1a1a">Floating-struc. w/o SAM</text>
<line x1="264" y1="610.3" x2="271.6" y2="610.3" stroke="#e02030" stroke-width="1.2"/>
<text x="277.5" y="613.4" font-size="10.3" fill="#2a4482">Fitting</text>
<path d="M410.3,507.2 L410.3,484 L427.5,484" fill="none" stroke="#111" stroke-width="0.8"/>
<path d="M430,484 l-3,-1.4 l0,2.8 Z" fill="#111" stroke="none" stroke-width="1"/>
<path d="M408.3,616.1 L408.3,573.6 L431.5,573.6" fill="none" stroke="#111" stroke-width="0.8"/>
<path d="M434,573.6 l-3,-1.4 l0,2.8 Z" fill="#111" stroke="none" stroke-width="1"/>
<rect x="434.5" y="467" width="70" height="91" fill="url(#insg)" stroke="#a8c0ea" stroke-width="1.4"/>
<rect x="434.5" y="564.3" width="70" height="75" fill="url(#insg)" stroke="#a8c0ea" stroke-width="1.4"/>
<circle cx="443.9" cy="478.9" r="4.1" fill="url(#pdsm)" stroke="none" stroke-width="1"/>
<circle cx="453.5" cy="478.9" r="4.1" fill="url(#pdsm)" stroke="none" stroke-width="1"/>
<circle cx="463.1" cy="478.9" r="4.1" fill="url(#pdsm)" stroke="none" stroke-width="1"/>
<circle cx="472.7" cy="478.9" r="4.1" fill="url(#pdsm)" stroke="none" stroke-width="1"/>
<circle cx="482.3" cy="478.9" r="4.1" fill="url(#pdsm)" stroke="none" stroke-width="1"/>
<circle cx="491.9" cy="478.9" r="4.1" fill="url(#pdsm)" stroke="none" stroke-width="1"/>
<circle cx="448.9" cy="488.5" r="4.1" fill="url(#pdsm)" stroke="none" stroke-width="1"/>
<circle cx="458.54" cy="488.5" r="4.1" fill="url(#pdsm)" stroke="none" stroke-width="1"/>
<circle cx="468.18" cy="488.5" r="4.1" fill="url(#pdsm)" stroke="none" stroke-width="1"/>
<circle cx="477.82" cy="488.5" r="4.1" fill="url(#pdsm)" stroke="none" stroke-width="1"/>
<circle cx="487.46" cy="488.5" r="4.1" fill="url(#pdsm)" stroke="none" stroke-width="1"/>
<circle cx="497.1" cy="488.5" r="4.1" fill="url(#pdsm)" stroke="none" stroke-width="1"/>
<circle cx="443.9" cy="498" r="4.1" fill="url(#pdsm)" stroke="none" stroke-width="1"/>
<circle cx="453.5" cy="498" r="4.1" fill="url(#pdsm)" stroke="none" stroke-width="1"/>
<circle cx="463.1" cy="498" r="4.1" fill="url(#pdsm)" stroke="none" stroke-width="1"/>
<circle cx="472.7" cy="498" r="4.1" fill="url(#pdsm)" stroke="none" stroke-width="1"/>
<circle cx="482.3" cy="498" r="4.1" fill="url(#pdsm)" stroke="none" stroke-width="1"/>
<circle cx="491.9" cy="498" r="4.1" fill="url(#pdsm)" stroke="none" stroke-width="1"/>
<circle cx="448.9" cy="507.9" r="4.1" fill="url(#pdsm)" stroke="none" stroke-width="1"/>
<circle cx="458.54" cy="507.9" r="4.1" fill="url(#pdsm)" stroke="none" stroke-width="1"/>
<circle cx="468.18" cy="507.9" r="4.1" fill="url(#pdsm)" stroke="none" stroke-width="1"/>
<circle cx="477.82" cy="507.9" r="4.1" fill="url(#pdsm)" stroke="none" stroke-width="1"/>
<circle cx="487.46" cy="507.9" r="4.1" fill="url(#pdsm)" stroke="none" stroke-width="1"/>
<circle cx="497.1" cy="507.9" r="4.1" fill="url(#pdsm)" stroke="none" stroke-width="1"/>
<circle cx="443.9" cy="517.2" r="4.1" fill="url(#pdsm)" stroke="none" stroke-width="1"/>
<circle cx="453.5" cy="517.2" r="4.1" fill="url(#pdsm)" stroke="none" stroke-width="1"/>
<circle cx="463.1" cy="517.2" r="4.1" fill="url(#pdsm)" stroke="none" stroke-width="1"/>
<circle cx="472.7" cy="517.2" r="4.1" fill="url(#pdsm)" stroke="none" stroke-width="1"/>
<circle cx="482.3" cy="517.2" r="4.1" fill="url(#pdsm)" stroke="none" stroke-width="1"/>
<circle cx="491.9" cy="517.2" r="4.1" fill="url(#pdsm)" stroke="none" stroke-width="1"/>
<circle cx="443.9" cy="483.7" r="1.3" fill="url(#hb)" stroke="#8eb0e2" stroke-width="0.5"/>
<circle cx="453.5" cy="483.7" r="1.3" fill="url(#hb)" stroke="#8eb0e2" stroke-width="0.5"/>
<circle cx="463.1" cy="483.7" r="1.3" fill="url(#hb)" stroke="#8eb0e2" stroke-width="0.5"/>
<circle cx="472.7" cy="483.7" r="1.3" fill="url(#hb)" stroke="#8eb0e2" stroke-width="0.5"/>
<circle cx="482.3" cy="483.7" r="1.3" fill="url(#hb)" stroke="#8eb0e2" stroke-width="0.5"/>
<circle cx="491.9" cy="483.7" r="1.3" fill="url(#hb)" stroke="#8eb0e2" stroke-width="0.5"/>
<circle cx="443.9" cy="493.2" r="1.3" fill="url(#hb)" stroke="#8eb0e2" stroke-width="0.5"/>
<circle cx="453.5" cy="493.2" r="1.3" fill="url(#hb)" stroke="#8eb0e2" stroke-width="0.5"/>
<circle cx="463.1" cy="493.2" r="1.3" fill="url(#hb)" stroke="#8eb0e2" stroke-width="0.5"/>
<circle cx="472.7" cy="493.2" r="1.3" fill="url(#hb)" stroke="#8eb0e2" stroke-width="0.5"/>
<circle cx="482.3" cy="493.2" r="1.3" fill="url(#hb)" stroke="#8eb0e2" stroke-width="0.5"/>
<circle cx="491.9" cy="493.2" r="1.3" fill="url(#hb)" stroke="#8eb0e2" stroke-width="0.5"/>
<circle cx="443.9" cy="503" r="1.3" fill="url(#hb)" stroke="#8eb0e2" stroke-width="0.5"/>
<circle cx="453.5" cy="503" r="1.3" fill="url(#hb)" stroke="#8eb0e2" stroke-width="0.5"/>
<circle cx="463.1" cy="503" r="1.3" fill="url(#hb)" stroke="#8eb0e2" stroke-width="0.5"/>
<circle cx="472.7" cy="503" r="1.3" fill="url(#hb)" stroke="#8eb0e2" stroke-width="0.5"/>
<circle cx="482.3" cy="503" r="1.3" fill="url(#hb)" stroke="#8eb0e2" stroke-width="0.5"/>
<circle cx="491.9" cy="503" r="1.3" fill="url(#hb)" stroke="#8eb0e2" stroke-width="0.5"/>
<circle cx="443.9" cy="512.6" r="1.3" fill="url(#hb)" stroke="#8eb0e2" stroke-width="0.5"/>
<circle cx="453.5" cy="512.6" r="1.3" fill="url(#hb)" stroke="#8eb0e2" stroke-width="0.5"/>
<circle cx="463.1" cy="512.6" r="1.3" fill="url(#hb)" stroke="#8eb0e2" stroke-width="0.5"/>
<circle cx="472.7" cy="512.6" r="1.3" fill="url(#hb)" stroke="#8eb0e2" stroke-width="0.5"/>
<circle cx="482.3" cy="512.6" r="1.3" fill="url(#hb)" stroke="#8eb0e2" stroke-width="0.5"/>
<circle cx="491.9" cy="512.6" r="1.3" fill="url(#hb)" stroke="#8eb0e2" stroke-width="0.5"/>
<path d="M454.3,526.3 L449.5,530.6 L451.1,536.4 L446.9,540.2 L449,545.5 L444.7,549.8 L446.9,554.6" fill="none" stroke="#555" stroke-width="1.3"/>
<circle cx="443.7" cy="530.6" r="1.7" fill="url(#hgr)" stroke="none" stroke-width="1"/>
<circle cx="455.9" cy="537" r="1.7" fill="url(#hgr)" stroke="none" stroke-width="1"/>
<circle cx="442" cy="539.6" r="1.7" fill="url(#hgr)" stroke="none" stroke-width="1"/>
<circle cx="454.3" cy="546.6" r="1.7" fill="url(#hgr)" stroke="none" stroke-width="1"/>
<circle cx="440.5" cy="548.7" r="1.7" fill="url(#hgr)" stroke="none" stroke-width="1"/>
<circle cx="452.2" cy="555.6" r="1.7" fill="url(#hgr)" stroke="none" stroke-width="1"/>
<circle cx="449.5" cy="530.6" r="2.6" fill="url(#clt)" stroke="none" stroke-width="1"/>
<circle cx="451.1" cy="536.4" r="2.6" fill="url(#cdk)" stroke="none" stroke-width="1"/>
<circle cx="446.9" cy="540.2" r="2.6" fill="url(#clt)" stroke="none" stroke-width="1"/>
<circle cx="449" cy="545.5" r="2.6" fill="url(#cdk)" stroke="none" stroke-width="1"/>
<circle cx="444.7" cy="549.8" r="2.6" fill="url(#clt)" stroke="none" stroke-width="1"/>
<circle cx="446.9" cy="554.6" r="2.6" fill="url(#cdk)" stroke="none" stroke-width="1"/>
<circle cx="454.3" cy="526.3" r="2.8" fill="#d0b038" stroke="none" stroke-width="1"/>
<path d="M473,526.3 L468.2,530.6 L469.8,536.4 L465.6,540.2 L467.7,545.5 L463.4,549.8 L465.6,554.6" fill="none" stroke="#555" stroke-width="1.3"/>
<circle cx="462.4" cy="530.6" r="1.7" fill="url(#hgr)" stroke="none" stroke-width="1"/>
<circle cx="474.6" cy="537" r="1.7" fill="url(#hgr)" stroke="none" stroke-width="1"/>
<circle cx="460.7" cy="539.6" r="1.7" fill="url(#hgr)" stroke="none" stroke-width="1"/>
<circle cx="473" cy="546.6" r="1.7" fill="url(#hgr)" stroke="none" stroke-width="1"/>
<circle cx="459.2" cy="548.7" r="1.7" fill="url(#hgr)" stroke="none" stroke-width="1"/>
<circle cx="470.9" cy="555.6" r="1.7" fill="url(#hgr)" stroke="none" stroke-width="1"/>
<circle cx="468.2" cy="530.6" r="2.6" fill="url(#clt)" stroke="none" stroke-width="1"/>
<circle cx="469.8" cy="536.4" r="2.6" fill="url(#cdk)" stroke="none" stroke-width="1"/>
<circle cx="465.6" cy="540.2" r="2.6" fill="url(#clt)" stroke="none" stroke-width="1"/>
<circle cx="467.7" cy="545.5" r="2.6" fill="url(#cdk)" stroke="none" stroke-width="1"/>
<circle cx="463.4" cy="549.8" r="2.6" fill="url(#clt)" stroke="none" stroke-width="1"/>
<circle cx="465.6" cy="554.6" r="2.6" fill="url(#cdk)" stroke="none" stroke-width="1"/>
<circle cx="473" cy="526.3" r="2.8" fill="#d0b038" stroke="none" stroke-width="1"/>
<path d="M491.9,526.3 L487.1,530.6 L488.7,536.4 L484.5,540.2 L486.6,545.5 L482.3,549.8 L484.5,554.6" fill="none" stroke="#555" stroke-width="1.3"/>
<circle cx="481.3" cy="530.6" r="1.7" fill="url(#hgr)" stroke="none" stroke-width="1"/>
<circle cx="493.5" cy="537" r="1.7" fill="url(#hgr)" stroke="none" stroke-width="1"/>
<circle cx="479.6" cy="539.6" r="1.7" fill="url(#hgr)" stroke="none" stroke-width="1"/>
<circle cx="491.9" cy="546.6" r="1.7" fill="url(#hgr)" stroke="none" stroke-width="1"/>
<circle cx="478.1" cy="548.7" r="1.7" fill="url(#hgr)" stroke="none" stroke-width="1"/>
<circle cx="489.8" cy="555.6" r="1.7" fill="url(#hgr)" stroke="none" stroke-width="1"/>
<circle cx="487.1" cy="530.6" r="2.6" fill="url(#clt)" stroke="none" stroke-width="1"/>
<circle cx="488.7" cy="536.4" r="2.6" fill="url(#cdk)" stroke="none" stroke-width="1"/>
<circle cx="484.5" cy="540.2" r="2.6" fill="url(#clt)" stroke="none" stroke-width="1"/>
<circle cx="486.6" cy="545.5" r="2.6" fill="url(#cdk)" stroke="none" stroke-width="1"/>
<circle cx="482.3" cy="549.8" r="2.6" fill="url(#clt)" stroke="none" stroke-width="1"/>
<circle cx="484.5" cy="554.6" r="2.6" fill="url(#cdk)" stroke="none" stroke-width="1"/>
<circle cx="491.9" cy="526.3" r="2.8" fill="#d0b038" stroke="none" stroke-width="1"/>
<path d="M435.6,521.5 L443,516.5 L443,519.5 L452,519.5 L452,523.5 L443,523.5 L443,526.5 Z" fill="url(#iarL)" stroke="none" stroke-width="1"/>
<path d="M503.5,521.5 L496,516.5 L496,519.5 L487,519.5 L487,523.5 L496,523.5 L496,526.5 Z" fill="url(#iarR)" stroke="none" stroke-width="1"/>
<text x="469" y="554.7" font-size="11.2" text-anchor="middle" fill="#111" stroke="#ffffff" stroke-width="1.6" stroke-opacity="0.8" paint-order="stroke">SAM</text>
<circle cx="443.8" cy="575.7" r="4" fill="url(#pdsm)" stroke="none" stroke-width="1"/>
<circle cx="453.46" cy="575.7" r="4" fill="url(#pdsm)" stroke="none" stroke-width="1"/>
<circle cx="463.12" cy="575.7" r="4" fill="url(#pdsm)" stroke="none" stroke-width="1"/>
<circle cx="472.78" cy="575.7" r="4" fill="url(#pdsm)" stroke="none" stroke-width="1"/>
<circle cx="482.44" cy="575.7" r="4" fill="url(#pdsm)" stroke="none" stroke-width="1"/>
<circle cx="492.1" cy="575.7" r="4" fill="url(#pdsm)" stroke="none" stroke-width="1"/>
<circle cx="448.9" cy="586" r="4" fill="url(#pdsm)" stroke="none" stroke-width="1"/>
<circle cx="458.56" cy="586" r="4" fill="url(#pdsm)" stroke="none" stroke-width="1"/>
<circle cx="468.22" cy="586" r="4" fill="url(#pdsm)" stroke="none" stroke-width="1"/>
<circle cx="477.88" cy="586" r="4" fill="url(#pdsm)" stroke="none" stroke-width="1"/>
<circle cx="487.54" cy="586" r="4" fill="url(#pdsm)" stroke="none" stroke-width="1"/>
<circle cx="497.2" cy="586" r="4" fill="url(#pdsm)" stroke="none" stroke-width="1"/>
<circle cx="443.8" cy="581.5" r="1.3" fill="url(#hb)" stroke="#8eb0e2" stroke-width="0.5"/>
<circle cx="448.3" cy="591.3" r="1.3" fill="url(#hb)" stroke="#8eb0e2" stroke-width="0.5"/>
<circle cx="453.46" cy="581.5" r="1.3" fill="url(#hb)" stroke="#8eb0e2" stroke-width="0.5"/>
<circle cx="456.2" cy="591.3" r="1.3" fill="url(#hb)" stroke="#8eb0e2" stroke-width="0.5"/>
<circle cx="463.12" cy="581.5" r="1.3" fill="url(#hb)" stroke="#8eb0e2" stroke-width="0.5"/>
<circle cx="464.1" cy="591.3" r="1.3" fill="url(#hb)" stroke="#8eb0e2" stroke-width="0.5"/>
<circle cx="472.78" cy="581.5" r="1.3" fill="url(#hb)" stroke="#8eb0e2" stroke-width="0.5"/>
<circle cx="472" cy="591.3" r="1.3" fill="url(#hb)" stroke="#8eb0e2" stroke-width="0.5"/>
<circle cx="482.44" cy="581.5" r="1.3" fill="url(#hb)" stroke="#8eb0e2" stroke-width="0.5"/>
<circle cx="479.9" cy="591.3" r="1.3" fill="url(#hb)" stroke="#8eb0e2" stroke-width="0.5"/>
<circle cx="492.1" cy="581.5" r="1.3" fill="url(#hb)" stroke="#8eb0e2" stroke-width="0.5"/>
<circle cx="487.8" cy="591.3" r="1.3" fill="url(#hb)" stroke="#8eb0e2" stroke-width="0.5"/>
<circle cx="443" cy="633.4" r="4.3" fill="url(#ausm)" stroke="none" stroke-width="1"/>
<circle cx="451.53" cy="633.4" r="4.3" fill="url(#ausm)" stroke="none" stroke-width="1"/>
<circle cx="460.06" cy="633.4" r="4.3" fill="url(#ausm)" stroke="none" stroke-width="1"/>
<circle cx="468.59" cy="633.4" r="4.3" fill="url(#ausm)" stroke="none" stroke-width="1"/>
<circle cx="477.12" cy="633.4" r="4.3" fill="url(#ausm)" stroke="none" stroke-width="1"/>
<circle cx="485.65" cy="633.4" r="4.3" fill="url(#ausm)" stroke="none" stroke-width="1"/>
<circle cx="494.18" cy="633.4" r="4.3" fill="url(#ausm)" stroke="none" stroke-width="1"/>
<circle cx="447.1" cy="625.4" r="4.3" fill="url(#ausm)" stroke="none" stroke-width="1"/>
<circle cx="455.65" cy="625.4" r="4.3" fill="url(#ausm)" stroke="none" stroke-width="1"/>
<circle cx="464.2" cy="625.4" r="4.3" fill="url(#ausm)" stroke="none" stroke-width="1"/>
<circle cx="472.75" cy="625.4" r="4.3" fill="url(#ausm)" stroke="none" stroke-width="1"/>
<circle cx="481.3" cy="625.4" r="4.3" fill="url(#ausm)" stroke="none" stroke-width="1"/>
<circle cx="489.85" cy="625.4" r="4.3" fill="url(#ausm)" stroke="none" stroke-width="1"/>
<circle cx="498.4" cy="625.4" r="4.3" fill="url(#ausm)" stroke="none" stroke-width="1"/>
<circle cx="443" cy="617.8" r="4.3" fill="url(#ausm)" stroke="none" stroke-width="1"/>
<circle cx="451.53" cy="617.8" r="4.3" fill="url(#ausm)" stroke="none" stroke-width="1"/>
<circle cx="460.06" cy="617.8" r="4.3" fill="url(#ausm)" stroke="none" stroke-width="1"/>
<circle cx="468.59" cy="617.8" r="4.3" fill="url(#ausm)" stroke="none" stroke-width="1"/>
<circle cx="477.12" cy="617.8" r="4.3" fill="url(#ausm)" stroke="none" stroke-width="1"/>
<circle cx="485.65" cy="617.8" r="4.3" fill="url(#ausm)" stroke="none" stroke-width="1"/>
<circle cx="494.18" cy="617.8" r="4.3" fill="url(#ausm)" stroke="none" stroke-width="1"/>
<circle cx="444.2" cy="596.2" r="4" fill="url(#pdsm)" stroke="none" stroke-width="1"/>
<circle cx="452.09" cy="596.2" r="4" fill="url(#pdsm)" stroke="none" stroke-width="1"/>
<circle cx="459.98" cy="596.2" r="4" fill="url(#pdsm)" stroke="none" stroke-width="1"/>
<circle cx="467.87" cy="596.2" r="4" fill="url(#pdsm)" stroke="none" stroke-width="1"/>
<circle cx="475.76" cy="596.2" r="4" fill="url(#pdsm)" stroke="none" stroke-width="1"/>
<circle cx="483.65" cy="596.2" r="4" fill="url(#pdsm)" stroke="none" stroke-width="1"/>
<circle cx="491.54" cy="596.2" r="4" fill="url(#pdsm)" stroke="none" stroke-width="1"/>
<circle cx="448.1" cy="603" r="4" fill="url(#pdsm)" stroke="none" stroke-width="1"/>
<circle cx="455.99" cy="603" r="4" fill="url(#pdsm)" stroke="none" stroke-width="1"/>
<circle cx="463.88" cy="603" r="4" fill="url(#pdsm)" stroke="none" stroke-width="1"/>
<circle cx="471.77" cy="603" r="4" fill="url(#pdsm)" stroke="none" stroke-width="1"/>
<circle cx="479.66" cy="603" r="4" fill="url(#pdsm)" stroke="none" stroke-width="1"/>
<circle cx="487.55" cy="603" r="4" fill="url(#pdsm)" stroke="none" stroke-width="1"/>
<circle cx="495.44" cy="603" r="4" fill="url(#pdsm)" stroke="none" stroke-width="1"/>
<circle cx="444.2" cy="610.1" r="4" fill="url(#pdsm)" stroke="none" stroke-width="1"/>
<circle cx="452.09" cy="610.1" r="4" fill="url(#pdsm)" stroke="none" stroke-width="1"/>
<circle cx="459.98" cy="610.1" r="4" fill="url(#pdsm)" stroke="none" stroke-width="1"/>
<circle cx="467.87" cy="610.1" r="4" fill="url(#pdsm)" stroke="none" stroke-width="1"/>
<circle cx="475.76" cy="610.1" r="4" fill="url(#pdsm)" stroke="none" stroke-width="1"/>
<circle cx="483.65" cy="610.1" r="4" fill="url(#pdsm)" stroke="none" stroke-width="1"/>
<circle cx="491.54" cy="610.1" r="4" fill="url(#pdsm)" stroke="none" stroke-width="1"/>
<path d="M436,611.6 L450.1,611.6 L450.1,609.3 L458.9,613.6 L450.1,618.2 L450.1,615.8 L436,615.8 Z" fill="url(#redL)" stroke="none" stroke-width="1"/>
<path d="M503,611.6 L487.2,611.6 L487.2,609.3 L478.3,613.6 L487.2,618.2 L487.2,615.8 L503,615.8 Z" fill="url(#redR)" stroke="none" stroke-width="1"/>
<text x="469.2" y="629.5" font-size="11.2" text-anchor="middle" fill="#111" stroke="#ffffff" stroke-width="1.6" stroke-opacity="0.8" paint-order="stroke">Au</text>
<circle cx="460" cy="650.5" r="4.1" fill="url(#ausm)" stroke="none" stroke-width="1"/>
<text x="468.6" y="654.2" font-size="10.3" fill="#1a1a1a">Au</text>
<text x="526.3" y="463.9" font-size="13" fill="#000" font-weight="bold">j</text>
<rect x="572.8" y="467.9" width="101.6" height="166.5" fill="none" stroke="#8c8c8c" stroke-width="0.9"/>
<line x1="570.5" y1="634.4" x2="572.8" y2="634.4" stroke="#8c8c8c" stroke-width="0.8"/>
<text x="565.1" y="637.5" font-size="9" text-anchor="end" fill="#1a1a1a">0</text>
<line x1="570.5" y1="610.68" x2="572.8" y2="610.68" stroke="#8c8c8c" stroke-width="0.8"/>
<line x1="570.5" y1="586.96" x2="572.8" y2="586.96" stroke="#8c8c8c" stroke-width="0.8"/>
<text x="565.1" y="590.06" font-size="9" text-anchor="end" fill="#1a1a1a">2</text>
<line x1="570.5" y1="563.24" x2="572.8" y2="563.24" stroke="#8c8c8c" stroke-width="0.8"/>
<line x1="570.5" y1="539.52" x2="572.8" y2="539.52" stroke="#8c8c8c" stroke-width="0.8"/>
<text x="565.1" y="542.62" font-size="9" text-anchor="end" fill="#1a1a1a">4</text>
<line x1="570.5" y1="515.8" x2="572.8" y2="515.8" stroke="#8c8c8c" stroke-width="0.8"/>
<line x1="570.5" y1="492.08" x2="572.8" y2="492.08" stroke="#8c8c8c" stroke-width="0.8"/>
<text x="565.1" y="495.18" font-size="9" text-anchor="end" fill="#1a1a1a">6</text>
<line x1="570.5" y1="468.36" x2="572.8" y2="468.36" stroke="#8c8c8c" stroke-width="0.8"/>
<line x1="598.3" y1="634.4" x2="598.3" y2="636.7" stroke="#8c8c8c" stroke-width="0.8"/>
<line x1="649.1" y1="634.4" x2="649.1" y2="636.7" stroke="#8c8c8c" stroke-width="0.8"/>
<line x1="674.4" y1="634.4" x2="674.4" y2="636.7" stroke="#8c8c8c" stroke-width="0.8"/>
<text x="573.4" y="464" font-size="9" fill="#1a1a1a">×10<tspan font-size="6.3" dy="-3.4">-4</tspan></text>
<text x="597.2" y="650" font-size="10" text-anchor="middle" fill="#1a1a1a">w/o SAM</text>
<text x="649.2" y="650" font-size="10" text-anchor="middle" fill="#1a1a1a">w SAM</text>
<text x="0" y="0" font-size="10.2" text-anchor="middle" fill="#1a1a1a" transform="translate(550.1,549.8) rotate(-90)">Absorption rate constant <tspan font-style="italic">k</tspan><tspan font-size="6.5" dy="1.8">ab</tspan></text>
<rect x="590.1" y="624.7" width="16.1" height="9.7" fill="url(#barr)" stroke="#a0a0a0" stroke-width="0.5"/>
<rect x="641.4" y="524.3" width="15.3" height="110.1" fill="url(#barr)" stroke="#a0a0a0" stroke-width="0.5"/>
<line x1="649.1" y1="496.9" x2="649.1" y2="552" stroke="#888" stroke-width="0.8"/>
<line x1="598.3" y1="618" x2="598.3" y2="627" stroke="#888" stroke-width="0.6"/>
<circle cx="649.1" cy="489.9" r="2.7" fill="none" stroke="#3a5aa0" stroke-width="0.9"/>
<circle cx="649.1" cy="507.3" r="2.7" fill="none" stroke="#3a5aa0" stroke-width="0.9"/>
<circle cx="649.1" cy="547.9" r="2.7" fill="none" stroke="#3a5aa0" stroke-width="0.9"/>
<circle cx="649.1" cy="552.3" r="2.7" fill="none" stroke="#3a5aa0" stroke-width="0.9"/>
<circle cx="598.3" cy="619.8" r="2.7" fill="none" stroke="#3a5aa0" stroke-width="0.9"/>
<circle cx="598.3" cy="623.5" r="2.7" fill="none" stroke="#3a5aa0" stroke-width="0.9"/>
<circle cx="598.3" cy="627.1" r="2.7" fill="none" stroke="#3a5aa0" stroke-width="0.9"/>
</svg>
</body></html>
